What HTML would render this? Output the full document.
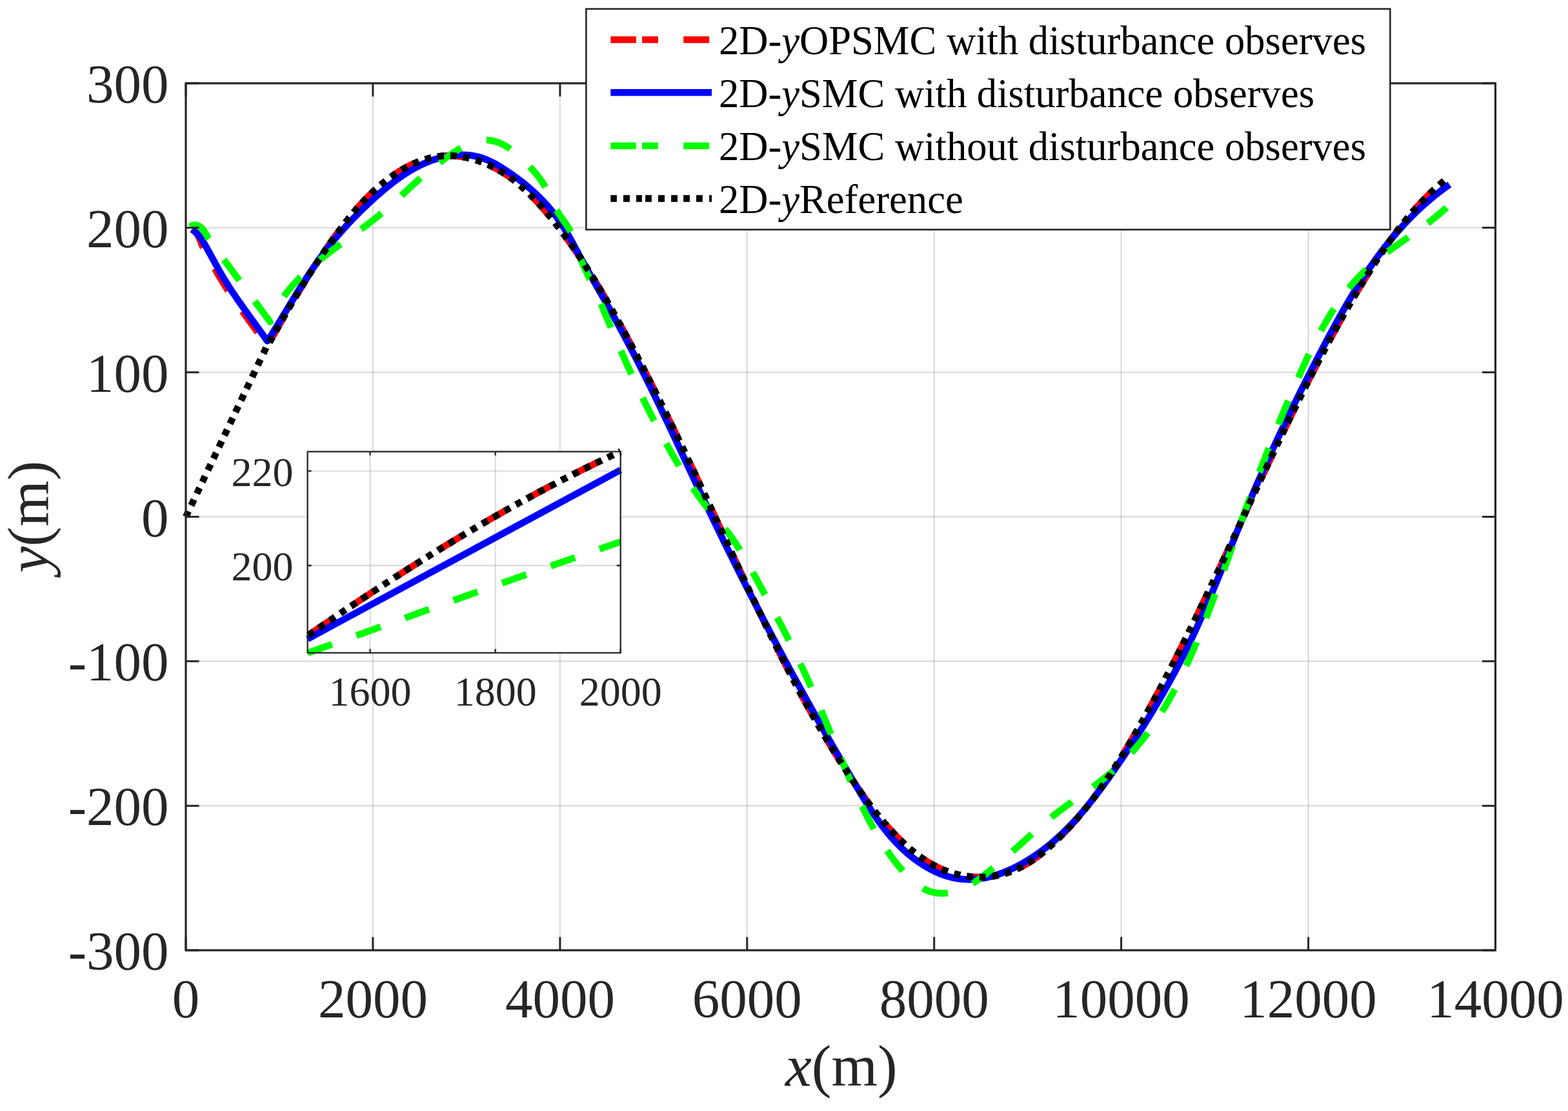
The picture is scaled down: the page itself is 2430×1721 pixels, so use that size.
<!DOCTYPE html><html><head><meta charset="utf-8"><title>2D-y tracking</title>
<style>html,body{margin:0;padding:0;background:#fff;overflow:hidden}svg{display:block}text{font-family:"Liberation Serif","Times New Roman",serif}</style></head><body>
<svg width="2430" height="1721" viewBox="0 0 2430 1721">
<rect x="0" y="0" width="2430" height="1721" fill="#fff"/>
<g stroke="#262626" stroke-opacity="0.15" stroke-width="2.6" fill="none"><path d="M577.9 129.0V1472.0"/><path d="M867.9 129.0V1472.0"/><path d="M1157.8 129.0V1472.0"/><path d="M1447.7 129.0V1472.0"/><path d="M1737.6 129.0V1472.0"/><path d="M2027.6 129.0V1472.0"/><path d="M288.0 1248.2H2317.5"/><path d="M288.0 1024.3H2317.5"/><path d="M288.0 800.5H2317.5"/><path d="M288.0 576.7H2317.5"/><path d="M288.0 352.8H2317.5"/></g>
<path d="M297.6 355.2L298.8 356.1 300.0 356.9 301.1 357.8 302.2 358.8 303.3 359.7 304.3 360.7 305.1 362.0 305.9 363.2 306.6 364.5 307.3 365.8 307.9 367.1 308.6 368.4 309.2 369.8 309.8 371.1 310.3 372.4 310.9 373.8 311.4 375.2 311.9 376.6 312.4 378.0 312.9 379.4 313.4 380.8 314.1 382.1 314.9 383.4 315.6 384.7 316.3 386.0 317.1 387.3 317.8 388.6 318.5 389.9 319.2 391.2 320.0 392.6 320.7 393.9 321.4 395.2 322.1 396.5 322.9 397.8 323.6 399.2 324.3 400.5 325.0 401.8 325.8 403.1 326.5 404.4 327.2 405.8 327.9 407.1 328.7 408.4 329.4 409.7 330.1 411.1 330.8 412.4 331.6 413.7 332.3 415.0 333.0 416.3 333.8 417.7 334.5 419.0 335.3 420.3 336.0 421.6 336.8 422.9 337.5 424.2 338.3 425.5 339.0 426.9 339.8 428.2 340.6 429.5 341.3 430.8 342.1 432.1 342.9 433.4 343.7 434.7 344.5 436.0 345.3 437.2 346.0 438.5 346.8 439.8 347.6 441.1 348.5 442.4 349.3 443.6 350.1 444.9 350.9 446.2 351.7 447.5 352.5 448.7 353.3 450.0 354.2 451.2 355.0 452.5 355.8 453.8 356.7 455.0 357.5 456.3 358.3 457.5 359.2 458.8 360.0 460.0 360.9 461.3 361.7 462.5 362.6 463.7 363.4 465.0 364.3 466.2 365.1 467.5 366.0 468.7 366.9 469.9 367.7 471.2 368.6 472.4 369.5 473.6 370.3 474.8 371.2 476.1 372.1 477.3 372.9 478.5 373.8 479.7 374.7 481.0 375.6 482.2 376.4 483.4 377.3 484.6 378.2 485.8 379.1 487.1 379.9 488.3 380.8 489.5 381.7 490.7 382.6 491.9 383.5 493.1 384.3 494.4 385.2 495.6 386.1 496.8 387.0 498.0 387.9 499.2 388.7 500.4 389.6 501.6 390.5 502.8 391.4 504.1 392.3 505.3 393.1 506.5 394.0 507.7 394.9 508.9 395.8 510.1 396.6 511.3 397.5 512.5 398.4 513.8 399.3 515.0 400.1 516.2 401.0 517.4 401.9 518.6 402.8 519.8 403.6 521.0 404.5 522.3 405.4 523.5 406.2 524.7 407.1 525.9 407.9 527.1 408.8 528.4 409.7 529.6 410.5 530.8 411.3 531.0 412.2 531.2 413.0 531.4 413.8 531.6 414.7 531.8 415.5 532.0 417.1 531.4 417.8 530.1 418.5 528.8 419.3 527.4 420.0 526.1 420.8 524.8 421.5 523.5 422.2 522.2 423.0 520.9 423.7 519.5 424.4 518.2 425.2 516.9 425.9 515.6 426.7 514.3 427.4 513.0 428.1 511.7 428.9 510.4 429.6 509.1 430.4 507.8 431.1 506.4 431.8 505.1 432.6 503.8 433.3 502.5 434.1 501.2 434.8 499.9 435.6 498.6 436.3 497.3 437.0 496.0 437.8 494.7 438.5 493.4 439.3 492.1 440.0 490.8 440.8 489.5 441.5 488.2 442.3 486.9 443.0 485.6 443.8 484.3 444.5 483.0 445.3 481.7 446.0 480.4 446.8 479.1 447.5 477.8 448.3 476.5 449.0 475.2 449.8 473.9 450.5 472.6 451.3 471.3 452.1 470.1 452.8 468.8 453.6 467.5 454.3 466.2 455.1 464.9 455.9 463.6 456.6 462.3 457.4 461.0 458.1 459.8 458.9 458.5 459.7 457.2 460.4 455.9 461.2 454.6 462.0 453.3 462.8 452.1 463.5 450.8 464.3 449.5 465.1 448.2 465.9 446.9 466.6 445.7 467.4 444.4 468.2 443.1 469.0 441.8 469.7 440.6 470.5 439.3 471.3 438.0 472.1 436.7 472.9 435.5 473.7 434.2 474.5 432.9 475.2 431.7 476.0 430.4 476.8 429.1 477.6 427.9 478.4 426.6 479.2 425.3 480.0 424.1 480.8 422.8 481.6 421.6 482.4 420.3 483.2 419.0 484.0 417.8 484.8 416.5 485.6 415.3 486.4 414.0 487.2 412.8 488.1 411.5 488.9 410.3 489.7 409.0 490.5 407.8 491.3 406.5 492.1 405.3 493.0 404.0 493.8 402.8 494.6 401.5 495.4 400.3 496.3 399.0 497.1 397.8 497.9 396.6 498.8 395.3 499.6 394.1 500.4 392.8 501.3 391.6 502.1 390.4 503.0 389.1 503.8 387.9 504.7 386.7 505.5 385.4 506.4 384.2 507.2 383.0 508.1 381.8 508.9 380.5 509.8 379.3 510.6 378.1 511.5 376.9 512.4 375.6 513.2 374.4 514.1 373.2 515.0 372.0 515.8 370.8 516.7 369.5 517.6 368.3 518.5 367.1 519.4 365.9 520.2 364.7 521.1 363.5 522.0 362.3 522.9 361.1 523.8 359.9 524.7 358.7 525.6 357.5 526.5 356.3 527.4 355.0 528.3 353.8 529.2 352.6 530.1 351.5 531.0 350.3 531.9 349.1 532.8 347.9 533.8 346.7 534.7 345.5 535.6 344.3 536.5 343.1 537.5 341.9 538.4 340.8 539.3 339.6 540.3 338.4 541.2 337.2 542.2 336.1 543.1 334.9 544.1 333.7 545.0 332.6 546.0 331.4 547.0 330.2 547.9 329.1 548.9 327.9 549.9 326.8 550.9 325.6 551.8 324.5 552.8 323.4 553.8 322.2 554.8 321.1 555.8 320.0 556.8 318.8 557.8 317.7 558.8 316.6 559.8 315.5 560.9 314.4 561.9 313.3 562.9 312.2 563.9 311.1 565.0 310.0 566.0 308.9 567.1 307.8 568.1 306.7 569.2 305.6 570.2 304.6 571.3 303.5 572.4 302.4 573.5 301.4 574.5 300.3 575.6 299.3 576.7 298.2 577.8 297.2 578.9 296.1 580.0 295.1 581.1 294.1 582.3 293.1 583.4 292.1 584.5 291.1 585.7 290.1 586.8 289.1 588.0 288.1 589.1 287.1 590.3 286.1 591.4 285.1 592.6 284.2 593.8 283.2 595.0 282.2 596.2 281.3 597.4 280.4 598.6 279.4 599.8 278.5 601.0 277.6 602.2 276.6 603.4 275.7 604.7 274.8 605.9 274.0 607.1 273.1 608.4 272.2 609.6 271.3 610.9 270.5 612.2 269.6 613.4 268.8 614.7 267.9 616.0 267.1 617.3 266.3 618.6 265.5 619.9 264.7 621.2 263.9 622.5 263.1 623.8 262.4 625.1 261.6 626.4 260.9 627.7 260.1 629.1 259.4 630.4 258.7 631.7 258.0 633.1 257.3 634.4 256.6 635.8 256.0 637.1 255.3 638.5 254.7 639.8 254.1 641.2 253.4 642.6 252.8 643.9 252.3 645.3 251.7 646.7 251.1 648.1 250.6 649.5 250.0 650.8 249.5 652.2 249.0 653.6 248.5 655.0 248.0 656.4 247.6 657.8 247.1 659.2 246.7 660.7 246.3 662.1 245.9 663.5 245.5 664.9 245.1 666.3 244.7 667.7 244.4 669.2 244.1 670.6 243.8 672.0 243.5 673.5 243.2 674.9 243.0 676.3 242.7 677.8 242.5 679.2 242.3 680.7 242.1 682.1 241.9 683.6 241.8 685.0 241.6 686.5 241.5 687.9 241.4 689.4 241.3 690.8 241.3 692.3 241.2 693.7 241.2 695.2 241.2 696.7 241.2 698.1 241.2 699.6 241.3 701.0 241.3 702.5 241.4 704.0 241.5 705.4 241.6 706.9 241.7 708.3 241.9 709.8 242.0 711.3 242.2 712.7 242.4 714.2 242.6 715.6 242.8 717.1 243.0 718.5 243.3 720.0 243.6 721.5 243.8 722.9 244.1 724.4 244.4 725.8 244.8 727.2 245.1 728.7 245.5 730.1 245.8 731.6 246.2 733.0 246.6 734.4 247.0 735.9 247.4 737.3 247.9 738.7 248.3 740.1 248.8 741.6 249.3 743.0 249.7 744.4 250.2 745.8 250.8 747.2 251.3 748.6 251.8 750.0 252.4 751.4 252.9 752.8 253.5 754.2 254.1 755.5 254.7 756.9 255.3 758.3 256.0 759.7 256.6 761.0 257.2 762.4 257.9 763.7 258.6 765.1 259.2 766.4 259.9 767.7 260.6 769.1 261.3 770.4 262.1 771.7 262.8 773.0 263.5 774.3 264.3 775.6 265.1 776.9 265.8 778.2 266.6 779.5 267.4 780.7 268.2 782.0 269.0 783.3 269.8 784.5 270.7 785.8 271.5 787.0 272.4 788.2 273.2 789.5 274.1 790.7 275.0 791.9 275.8 793.1 276.7 794.3 277.6 795.5 278.5 796.7 279.5 797.9 280.4 799.0 281.3 800.2 282.2 801.4 283.2 802.5 284.1 803.7 285.1 804.8 286.1 806.0 287.0 807.1 288.0 808.3 289.0 809.4 290.0 810.5 291.0 811.6 292.0 812.7 293.0 813.9 294.0 815.0 295.1 816.1 296.1 817.2 297.1 818.2 298.2 819.3 299.2 820.4 300.3 821.5 301.3 822.6 302.4 823.6 303.5 824.7 304.5 825.7 305.6 826.8 306.7 827.8 307.8 828.9 308.9 829.9 310.0 831.0 311.1 832.0 312.2 833.0 313.3 834.0 314.4 835.1 315.5 836.1 316.7 837.1 317.8 838.1 318.9 839.1 320.1 840.1 321.2 841.1 322.3 842.1 323.5 843.1 324.6 844.1 325.8 845.1 326.9 846.0 328.1 847.0 329.2 848.0 330.4 849.0 331.5 849.9 332.7 850.9 333.9 851.9 335.0 852.8 336.2 853.8 337.4 854.7 338.5 855.7 339.7 856.6 340.9 857.6 342.1 858.5 343.2 859.5 344.4 860.4 345.6 861.3 346.8 862.3 348.0 863.2 349.2 864.1 350.3 865.0 351.5 866.0 352.7 866.9 353.9 867.8 355.1 868.7 356.3 869.6 357.5 870.5 358.7 871.4 359.9 872.3 361.1 873.2 362.3 874.1 363.5 875.0 364.7 875.9 365.9 876.8 367.1 877.7 368.4 878.6 369.6 879.5 370.8 880.4 372.0 881.2 373.2 882.1 374.4 883.0 375.7 883.9 376.9 884.7 378.1 885.6 379.3 886.5 380.6 887.3 381.8 888.2 383.0 889.0 384.2 889.9 385.5 890.8 386.7 891.6 388.0 892.5 389.2 893.3 390.4 894.2 391.7 895.0 392.9 895.8 394.1 896.7 395.4 897.5 396.6 898.3 397.9 899.2 399.1 900.0 400.4 900.8 401.6 901.7 402.9 902.5 404.1 903.3 405.4 904.1 406.6 904.9 407.9 905.8 409.1 906.6 410.4 907.4 411.7 908.2 412.9 909.0 414.2 909.8 415.4 910.6 416.7 911.4 418.0 912.2 419.2 913.0 420.5 913.8 421.8 914.6 423.0 915.4 424.3 916.2 425.6 917.0 426.9 917.8 428.1 918.6 429.4 919.4 430.7 920.2 432.0 920.9 433.2 921.7 434.5 922.5 435.8 923.3 437.1 924.1 438.3 924.8 439.6 925.6 440.9 926.4 442.2 927.2 443.5 927.9 444.8 928.7 446.0 929.5 447.3 930.2 448.6 931.0 449.9 931.8 451.2 932.5 452.5 933.3 453.8 934.0 455.1 934.8 456.4 935.5 457.7 936.3 458.9 937.1 460.2 937.8 461.5 938.6 462.8 939.3 464.1 940.1 465.4 940.8 466.7 941.5 468.0 942.3 469.3 943.0 470.6 943.8 471.9 944.5 473.2 945.3 474.5 946.0 475.8 946.7 477.1 947.5 478.4 948.2 479.7 948.9 481.0 949.7 482.4 950.4 483.7 951.1 485.0 951.9 486.3 952.6 487.6 953.3 488.9 954.1 490.2 954.8 491.5 955.5 492.8 956.2 494.1 957.0 495.4 957.7 496.7 958.4 498.1 959.1 499.4 959.9 500.7 960.6 502.0 961.3 503.3 962.0 504.6 962.7 505.9 963.5 507.2 964.2 508.6 964.9 509.9 965.6 511.2 966.3 512.5 967.0 513.8 967.8 515.1 968.5 516.5 969.2 517.8 969.9 519.1 970.6 520.4 971.3 521.7 972.0 523.0 972.7 524.4 973.4 525.7 974.2 527.0 974.9 528.3 975.6 529.6 976.3 531.0 977.0 532.3 977.7 533.6 978.4 534.9 979.1 536.2 979.8 537.6 980.5 538.9 981.2 540.2 981.9 541.5 982.6 542.9 983.3 544.2 984.0 545.5 984.7 546.8 985.4 548.2 986.1 549.5 986.8 550.8 987.5 552.1 988.2 553.5 988.9 554.8 989.5 556.1 990.2 557.4 990.9 558.8 991.6 560.1 992.3 561.4 993.0 562.8 993.7 564.1 994.4 565.4 995.1 566.7 995.8 568.1 996.4 569.4 997.1 570.7 997.8 572.1 998.5 573.4 999.2 574.7 999.9 576.1 1000.6 577.4 1001.2 578.7 1001.9 580.1 1002.6 581.4 1003.3 582.7 1004.0 584.1 1004.6 585.4 1005.3 586.7 1006.0 588.1 1006.7 589.4 1007.4 590.7 1008.0 592.1 1008.7 593.4 1009.4 594.7 1010.1 596.1 1010.7 597.4 1011.4 598.7 1012.1 600.1 1012.8 601.4 1013.4 602.8 1014.1 604.1 1014.8 605.4 1015.4 606.8 1016.1 608.1 1016.8 609.4 1017.5 610.8 1018.1 612.1 1018.8 613.5 1019.5 614.8 1020.1 616.1 1020.8 617.5 1021.5 618.8 1022.1 620.2 1022.8 621.5 1023.5 622.9 1024.1 624.2 1024.8 625.5 1025.5 626.9 1026.1 628.2 1026.8 629.6 1027.5 630.9 1028.1 632.2 1028.8 633.6 1029.4 634.9 1030.1 636.3 1030.8 637.6 1031.4 639.0 1032.1 640.3 1032.7 641.7 1033.4 643.0 1034.1 644.3 1034.7 645.7 1035.4 647.0 1036.0 648.4 1036.7 649.7 1037.4 651.1 1038.0 652.4 1038.7 653.8 1039.3 655.1 1040.0 656.5 1040.6 657.8 1041.3 659.2 1041.9 660.5 1042.6 661.9 1043.2 663.2 1043.9 664.6 1044.5 665.9 1045.2 667.2 1045.9 668.6 1046.5 669.9 1047.2 671.3 1047.8 672.6 1048.5 674.0 1049.1 675.3 1049.8 676.7 1050.4 678.0 1051.1 679.4 1051.7 680.7 1052.4 682.1 1053.0 683.5 1053.6 684.8 1054.3 686.2 1054.9 687.5 1055.6 688.9 1056.2 690.2 1056.9 691.6 1057.5 692.9 1058.2 694.3 1058.8 695.6 1059.5 697.0 1060.1 698.3 1060.8 699.7 1061.4 701.0 1062.0 702.4 1062.7 703.7 1063.3 705.1 1064.0 706.4 1064.6 707.8 1065.3 709.2 1065.9 710.5 1066.5 711.9 1067.2 713.2 1067.8 714.6 1068.5 715.9 1069.1 717.3 1069.7 718.6 1070.4 720.0 1071.0 721.4 1071.7 722.7 1072.3 724.1 1072.9 725.4 1073.6 726.8 1074.2 728.1 1074.9 729.5 1075.5 730.8 1076.1 732.2 1076.8 733.6 1077.4 734.9 1078.1 736.3 1078.7 737.6 1079.3 739.0 1080.0 740.3 1080.6 741.7 1081.2 743.1 1081.9 744.4 1082.5 745.8 1083.1 747.1 1083.8 748.5 1084.4 749.8 1085.1 751.2 1085.7 752.6 1086.3 753.9 1087.0 755.3 1087.6 756.6 1088.2 758.0 1088.9 759.4 1089.5 760.7 1090.1 762.1 1090.8 763.4 1091.4 764.8 1092.0 766.2 1092.7 767.5 1093.3 768.9 1093.9 770.2 1094.6 771.6 1095.2 773.0 1095.8 774.3 1096.5 775.7 1097.1 777.0 1097.7 778.4 1098.4 779.8 1099.0 781.1 1099.6 782.5 1100.3 783.8 1100.9 785.2 1101.5 786.6 1102.2 787.9 1102.8 789.3 1103.4 790.6 1104.1 792.0 1104.7 793.4 1105.3 794.7 1106.0 796.1 1106.6 797.4 1107.2 798.8 1107.9 800.2 1108.5 801.5 1109.1 802.9 1109.8 804.3 1110.4 805.6 1111.0 807.0 1111.7 808.3 1112.3 809.7 1112.9 811.1 1113.5 812.4 1114.2 813.8 1114.8 815.1 1115.4 816.5 1116.1 817.9 1116.7 819.2 1117.3 820.6 1118.0 822.0 1118.6 823.3 1119.2 824.7 1119.9 826.0 1120.5 827.4 1121.1 828.8 1121.8 830.1 1122.4 831.5 1123.0 832.9 1123.6 834.2 1124.3 835.6 1124.9 836.9 1125.5 838.3 1126.2 839.7 1126.8 841.0 1127.4 842.4 1128.1 843.7 1128.7 845.1 1129.3 846.5 1130.0 847.8 1130.6 849.2 1131.2 850.6 1131.9 851.9 1132.5 853.3 1133.1 854.6 1133.8 856.0 1134.4 857.4 1135.0 858.7 1135.7 860.1 1136.3 861.5 1136.9 862.8 1137.6 864.2 1138.2 865.5 1138.8 866.9 1139.4 868.3 1140.1 869.6 1140.7 871.0 1141.3 872.4 1142.0 873.7 1142.6 875.1 1143.3 876.4 1143.9 877.8 1144.5 879.2 1145.2 880.5 1145.8 881.9 1146.4 883.2 1147.1 884.6 1147.7 886.0 1148.3 887.3 1149.0 888.7 1149.6 890.1 1150.2 891.4 1150.9 892.8 1151.5 894.1 1152.1 895.5 1152.8 896.9 1153.4 898.2 1154.1 899.6 1154.7 900.9 1155.3 902.3 1156.0 903.7 1156.6 905.0 1157.2 906.4 1157.9 907.7 1158.5 909.1 1159.2 910.5 1159.8 911.8 1160.4 913.2 1161.1 914.5 1161.7 915.9 1162.4 917.3 1163.0 918.6 1163.6 920.0 1164.3 921.3 1164.9 922.7 1165.6 924.0 1166.2 925.4 1166.8 926.8 1167.5 928.1 1168.1 929.5 1168.8 930.8 1169.4 932.2 1170.1 933.5 1170.7 934.9 1171.4 936.3 1172.0 937.6 1172.6 939.0 1173.3 940.3 1173.9 941.7 1174.6 943.0 1175.2 944.4 1175.9 945.7 1176.5 947.1 1177.2 948.5 1177.8 949.8 1178.5 951.2 1179.1 952.5 1179.8 953.9 1180.4 955.2 1181.1 956.6 1181.7 957.9 1182.4 959.3 1183.0 960.6 1183.7 962.0 1184.3 963.3 1185.0 964.7 1185.7 966.0 1186.3 967.4 1187.0 968.7 1187.6 970.1 1188.3 971.4 1188.9 972.8 1189.6 974.1 1190.3 975.5 1190.9 976.8 1191.6 978.2 1192.2 979.5 1192.9 980.9 1193.6 982.2 1194.2 983.6 1194.9 984.9 1195.5 986.3 1196.2 987.6 1196.9 989.0 1197.5 990.3 1198.2 991.6 1198.9 993.0 1199.5 994.3 1200.2 995.7 1200.9 997.0 1201.5 998.4 1202.2 999.7 1202.9 1001.0 1203.5 1002.4 1204.2 1003.7 1204.9 1005.1 1205.5 1006.4 1206.2 1007.8 1206.9 1009.1 1207.6 1010.4 1208.2 1011.8 1208.9 1013.1 1209.6 1014.5 1210.3 1015.8 1210.9 1017.1 1211.6 1018.5 1212.3 1019.8 1213.0 1021.1 1213.7 1022.5 1214.3 1023.8 1215.0 1025.2 1215.7 1026.5 1216.4 1027.8 1217.1 1029.2 1217.7 1030.5 1218.4 1031.8 1219.1 1033.2 1219.8 1034.5 1220.5 1035.8 1221.2 1037.2 1221.9 1038.5 1222.5 1039.8 1223.2 1041.1 1223.9 1042.5 1224.6 1043.8 1225.3 1045.1 1226.0 1046.5 1226.7 1047.8 1227.4 1049.1 1228.1 1050.4 1228.8 1051.8 1229.5 1053.1 1230.2 1054.4 1230.9 1055.7 1231.6 1057.1 1232.3 1058.4 1233.0 1059.7 1233.7 1061.0 1234.4 1062.4 1235.1 1063.7 1235.8 1065.0 1236.5 1066.3 1237.2 1067.6 1237.9 1069.0 1238.6 1070.3 1239.3 1071.6 1240.0 1072.9 1240.7 1074.2 1241.5 1075.6 1242.2 1076.9 1242.9 1078.2 1243.6 1079.5 1244.3 1080.8 1245.0 1082.1 1245.7 1083.4 1246.5 1084.8 1247.2 1086.1 1247.9 1087.4 1248.6 1088.7 1249.3 1090.0 1250.1 1091.3 1250.8 1092.6 1251.5 1093.9 1252.2 1095.2 1253.0 1096.5 1253.7 1097.9 1254.4 1099.2 1255.2 1100.5 1255.9 1101.8 1256.6 1103.1 1257.3 1104.4 1258.1 1105.7 1258.8 1107.0 1259.6 1108.3 1260.3 1109.6 1261.0 1110.9 1261.8 1112.2 1262.5 1113.5 1263.2 1114.8 1264.0 1116.1 1264.7 1117.4 1265.5 1118.7 1266.2 1120.0 1267.0 1121.3 1267.7 1122.6 1268.5 1123.9 1269.2 1125.2 1270.0 1126.5 1270.7 1127.7 1271.5 1129.0 1272.2 1130.3 1273.0 1131.6 1273.7 1132.9 1274.5 1134.2 1275.2 1135.5 1276.0 1136.8 1276.8 1138.1 1277.5 1139.3 1278.3 1140.6 1279.1 1141.9 1279.8 1143.2 1280.6 1144.5 1281.4 1145.8 1282.1 1147.0 1282.9 1148.3 1283.7 1149.6 1284.4 1150.9 1285.2 1152.2 1286.0 1153.4 1286.8 1154.7 1287.5 1156.0 1288.3 1157.3 1289.1 1158.5 1289.9 1159.8 1290.7 1161.1 1291.5 1162.4 1292.2 1163.6 1293.0 1164.9 1293.8 1166.2 1294.6 1167.4 1295.4 1168.7 1296.2 1170.0 1297.0 1171.2 1297.8 1172.5 1298.6 1173.8 1299.4 1175.0 1300.2 1176.3 1301.0 1177.6 1301.8 1178.8 1302.6 1180.1 1303.4 1181.4 1304.2 1182.6 1305.0 1183.9 1305.8 1185.1 1306.6 1186.4 1307.4 1187.6 1308.2 1188.9 1309.0 1190.1 1309.8 1191.4 1310.6 1192.7 1311.5 1193.9 1312.3 1195.2 1313.1 1196.4 1313.9 1197.7 1314.7 1198.9 1315.6 1200.2 1316.4 1201.4 1317.2 1202.6 1318.0 1203.9 1318.9 1205.1 1319.7 1206.4 1320.5 1207.6 1321.4 1208.9 1322.2 1210.1 1323.0 1211.3 1323.9 1212.6 1324.7 1213.8 1325.6 1215.1 1326.4 1216.3 1327.2 1217.5 1328.1 1218.8 1328.9 1220.0 1329.8 1221.2 1330.6 1222.5 1331.5 1223.7 1332.3 1224.9 1333.2 1226.1 1334.1 1227.4 1334.9 1228.6 1335.8 1229.8 1336.6 1231.0 1337.5 1232.2 1338.4 1233.5 1339.3 1234.7 1340.1 1235.9 1341.0 1237.1 1341.9 1238.3 1342.8 1239.5 1343.7 1240.7 1344.5 1241.9 1345.4 1243.2 1346.3 1244.4 1347.2 1245.6 1348.1 1246.8 1349.0 1248.0 1349.9 1249.2 1350.8 1250.3 1351.7 1251.5 1352.7 1252.7 1353.6 1253.9 1354.5 1255.1 1355.4 1256.3 1356.3 1257.5 1357.3 1258.6 1358.2 1259.8 1359.1 1261.0 1360.1 1262.2 1361.0 1263.3 1362.0 1264.5 1362.9 1265.7 1363.9 1266.8 1364.8 1268.0 1365.8 1269.2 1366.8 1270.3 1367.7 1271.5 1368.7 1272.6 1369.7 1273.8 1370.7 1274.9 1371.7 1276.1 1372.7 1277.2 1373.6 1278.3 1374.6 1279.5 1375.7 1280.6 1376.7 1281.7 1377.7 1282.8 1378.7 1284.0 1379.7 1285.1 1380.7 1286.2 1381.8 1287.3 1382.8 1288.4 1383.8 1289.5 1384.9 1290.6 1385.9 1291.7 1387.0 1292.8 1388.1 1293.9 1389.1 1295.0 1390.2 1296.1 1391.3 1297.2 1392.4 1298.3 1393.4 1299.3 1394.5 1300.4 1395.6 1301.5 1396.7 1302.5 1397.8 1303.6 1398.9 1304.6 1400.1 1305.7 1401.2 1306.7 1402.3 1307.8 1403.4 1308.8 1404.6 1309.8 1405.7 1310.8 1406.9 1311.8 1408.0 1312.8 1409.2 1313.8 1410.3 1314.8 1411.5 1315.8 1412.7 1316.8 1413.8 1317.8 1415.0 1318.7 1416.2 1319.7 1417.4 1320.6 1418.6 1321.6 1419.8 1322.5 1421.0 1323.4 1422.2 1324.3 1423.4 1325.2 1424.6 1326.1 1425.9 1327.0 1427.1 1327.9 1428.3 1328.8 1429.6 1329.6 1430.8 1330.5 1432.1 1331.3 1433.3 1332.1 1434.6 1333.0 1435.9 1333.8 1437.1 1334.6 1438.4 1335.4 1439.7 1336.1 1441.0 1336.9 1442.3 1337.7 1443.6 1338.4 1444.9 1339.1 1446.2 1339.9 1447.5 1340.6 1448.8 1341.3 1450.2 1342.0 1451.5 1342.6 1452.8 1343.3 1454.2 1343.9 1455.5 1344.6 1456.9 1345.2 1458.2 1345.8 1459.6 1346.4 1461.0 1347.0 1462.4 1347.6 1463.7 1348.1 1465.1 1348.7 1466.5 1349.2 1467.9 1349.7 1469.3 1350.2 1470.7 1350.7 1472.1 1351.2 1473.5 1351.6 1475.0 1352.1 1476.4 1352.5 1477.8 1352.9 1479.2 1353.3 1480.7 1353.7 1482.1 1354.1 1483.6 1354.5 1485.0 1354.8 1486.5 1355.1 1487.9 1355.4 1489.4 1355.8 1490.8 1356.0 1492.3 1356.3 1493.7 1356.6 1495.2 1356.8 1496.7 1357.0 1498.1 1357.3 1499.6 1357.5 1501.1 1357.6 1502.6 1357.8 1504.0 1358.0 1505.5 1358.1 1507.0 1358.2 1508.5 1358.3 1509.9 1358.4 1511.4 1358.5 1512.9 1358.6 1514.4 1358.6 1515.9 1358.7 1517.3 1358.7 1518.8 1358.7 1520.3 1358.7 1521.8 1358.7 1523.2 1358.6 1524.7 1358.6 1526.2 1358.5 1527.7 1358.4 1529.1 1358.3 1530.6 1358.2 1532.1 1358.1 1533.5 1357.9 1535.0 1357.8 1536.5 1357.6 1537.9 1357.4 1539.4 1357.2 1540.8 1357.0 1542.3 1356.8 1543.7 1356.5 1545.2 1356.2 1546.6 1355.9 1548.0 1355.6 1549.5 1355.3 1550.9 1355.0 1552.3 1354.7 1553.8 1354.3 1555.2 1353.9 1556.6 1353.5 1558.0 1353.1 1559.4 1352.7 1560.8 1352.2 1562.2 1351.8 1563.6 1351.3 1564.9 1350.8 1566.3 1350.3 1567.7 1349.8 1569.1 1349.3 1570.4 1348.7 1571.8 1348.2 1573.1 1347.6 1574.5 1347.0 1575.8 1346.4 1577.1 1345.8 1578.5 1345.1 1579.8 1344.5 1581.1 1343.8 1582.4 1343.1 1583.7 1342.5 1585.0 1341.8 1586.3 1341.0 1587.6 1340.3 1588.9 1339.6 1590.2 1338.8 1591.5 1338.1 1592.8 1337.3 1594.0 1336.5 1595.3 1335.7 1596.6 1334.9 1597.8 1334.1 1599.1 1333.3 1600.3 1332.4 1601.6 1331.6 1602.8 1330.7 1604.0 1329.9 1605.2 1329.0 1606.5 1328.1 1607.7 1327.2 1608.9 1326.3 1610.1 1325.4 1611.3 1324.5 1612.5 1323.5 1613.7 1322.6 1614.9 1321.7 1616.1 1320.7 1617.3 1319.8 1618.4 1318.8 1619.6 1317.8 1620.8 1316.8 1621.9 1315.8 1623.1 1314.8 1624.2 1313.8 1625.4 1312.8 1626.5 1311.8 1627.7 1310.8 1628.8 1309.8 1629.9 1308.8 1631.1 1307.7 1632.2 1306.7 1633.3 1305.6 1634.4 1304.6 1635.5 1303.5 1636.6 1302.5 1637.7 1301.4 1638.8 1300.4 1639.9 1299.3 1641.0 1298.2 1642.1 1297.1 1643.2 1296.1 1644.3 1295.0 1645.3 1293.9 1646.4 1292.8 1647.5 1291.7 1648.5 1290.6 1649.6 1289.5 1650.7 1288.4 1651.7 1287.3 1652.8 1286.2 1653.8 1285.1 1654.8 1284.0 1655.9 1282.9 1656.9 1281.8 1657.9 1280.7 1659.0 1279.6 1660.0 1278.5 1661.0 1277.3 1662.0 1276.2 1663.0 1275.1 1664.0 1274.0 1665.0 1272.8 1666.0 1271.7 1667.0 1270.6 1668.0 1269.4 1669.0 1268.3 1670.0 1267.2 1671.0 1266.0 1671.9 1264.9 1672.9 1263.7 1673.9 1262.6 1674.8 1261.4 1675.8 1260.3 1676.8 1259.1 1677.7 1257.9 1678.7 1256.8 1679.6 1255.6 1680.6 1254.4 1681.5 1253.3 1682.5 1252.1 1683.4 1250.9 1684.3 1249.8 1685.3 1248.6 1686.2 1247.4 1687.1 1246.2 1688.0 1245.0 1689.0 1243.9 1689.9 1242.7 1690.8 1241.5 1691.7 1240.3 1692.6 1239.1 1693.5 1237.9 1694.4 1236.7 1695.3 1235.5 1696.2 1234.3 1697.1 1233.1 1698.0 1231.9 1698.9 1230.7 1699.8 1229.5 1700.7 1228.3 1701.5 1227.1 1702.4 1225.9 1703.3 1224.6 1704.2 1223.4 1705.0 1222.2 1705.9 1221.0 1706.8 1219.8 1707.6 1218.5 1708.5 1217.3 1709.3 1216.1 1710.2 1214.9 1711.1 1213.6 1711.9 1212.4 1712.8 1211.2 1713.6 1209.9 1714.4 1208.7 1715.3 1207.5 1716.1 1206.2 1717.0 1205.0 1717.8 1203.8 1718.6 1202.5 1719.5 1201.3 1720.3 1200.0 1721.1 1198.8 1721.9 1197.5 1722.7 1196.3 1723.6 1195.0 1724.4 1193.8 1725.2 1192.5 1726.0 1191.3 1726.8 1190.0 1727.6 1188.7 1728.4 1187.5 1729.2 1186.2 1730.0 1185.0 1730.8 1183.7 1731.6 1182.4 1732.4 1181.2 1733.2 1179.9 1734.0 1178.6 1734.8 1177.4 1735.6 1176.1 1736.4 1174.8 1737.2 1173.6 1738.0 1172.3 1738.8 1171.0 1739.5 1169.7 1740.3 1168.5 1741.1 1167.2 1741.9 1165.9 1742.7 1164.6 1743.4 1163.4 1744.2 1162.1 1745.0 1160.8 1745.7 1159.5 1746.5 1158.2 1747.3 1156.9 1748.0 1155.7 1748.8 1154.4 1749.6 1153.1 1750.3 1151.8 1751.1 1150.5 1751.9 1149.2 1752.6 1147.9 1753.4 1146.6 1754.1 1145.3 1754.9 1144.0 1755.6 1142.8 1756.4 1141.5 1757.1 1140.2 1757.9 1138.9 1758.6 1137.6 1759.4 1136.3 1760.1 1135.0 1760.9 1133.7 1761.6 1132.4 1762.4 1131.1 1763.1 1129.8 1763.9 1128.5 1764.6 1127.2 1765.3 1125.9 1766.1 1124.6 1766.8 1123.3 1767.5 1122.0 1768.3 1120.7 1769.0 1119.4 1769.8 1118.1 1770.5 1116.8 1771.2 1115.5 1772.0 1114.1 1772.7 1112.8 1773.4 1111.5 1774.1 1110.2 1774.9 1108.9 1775.6 1107.6 1776.3 1106.3 1777.1 1105.0 1777.8 1103.7 1778.5 1102.4 1779.2 1101.1 1780.0 1099.7 1780.7 1098.4 1781.4 1097.1 1782.1 1095.8 1782.8 1094.5 1783.6 1093.2 1784.3 1091.9 1785.0 1090.5 1785.7 1089.2 1786.4 1087.9 1787.1 1086.6 1787.9 1085.3 1788.6 1084.0 1789.3 1082.6 1790.0 1081.3 1790.7 1080.0 1791.4 1078.7 1792.1 1077.4 1792.8 1076.0 1793.5 1074.7 1794.2 1073.4 1795.0 1072.1 1795.7 1070.8 1796.4 1069.4 1797.1 1068.1 1797.8 1066.8 1798.5 1065.5 1799.2 1064.1 1799.9 1062.8 1800.6 1061.5 1801.3 1060.2 1802.0 1058.8 1802.7 1057.5 1803.4 1056.2 1804.1 1054.8 1804.8 1053.5 1805.5 1052.2 1806.1 1050.9 1806.8 1049.5 1807.5 1048.2 1808.2 1046.9 1808.9 1045.5 1809.6 1044.2 1810.3 1042.9 1811.0 1041.5 1811.7 1040.2 1812.4 1038.9 1813.1 1037.5 1813.7 1036.2 1814.4 1034.9 1815.1 1033.5 1815.8 1032.2 1816.5 1030.9 1817.2 1029.5 1817.9 1028.2 1818.5 1026.9 1819.2 1025.5 1819.9 1024.2 1820.6 1022.9 1821.3 1021.5 1821.9 1020.2 1822.6 1018.8 1823.3 1017.5 1824.0 1016.2 1824.6 1014.8 1825.3 1013.5 1826.0 1012.2 1826.7 1010.8 1827.4 1009.5 1828.0 1008.1 1828.7 1006.8 1829.4 1005.4 1830.0 1004.1 1830.7 1002.8 1831.4 1001.4 1832.1 1000.1 1832.7 998.7 1833.4 997.4 1834.1 996.1 1834.7 994.7 1835.4 993.4 1836.1 992.0 1836.7 990.7 1837.4 989.3 1838.1 988.0 1838.7 986.6 1839.4 985.3 1840.1 984.0 1840.7 982.6 1841.4 981.3 1842.1 979.9 1842.7 978.6 1843.4 977.2 1844.0 975.9 1844.7 974.5 1845.4 973.2 1846.0 971.8 1846.7 970.5 1847.3 969.1 1848.0 967.8 1848.7 966.4 1849.3 965.1 1850.0 963.7 1850.6 962.4 1851.3 961.0 1851.9 959.7 1852.6 958.3 1853.3 957.0 1853.9 955.6 1854.6 954.3 1855.2 952.9 1855.9 951.6 1856.5 950.2 1857.2 948.9 1857.8 947.5 1858.5 946.2 1859.1 944.8 1859.8 943.5 1860.4 942.1 1861.1 940.8 1861.7 939.4 1862.4 938.1 1863.0 936.7 1863.7 935.4 1864.3 934.0 1865.0 932.7 1865.6 931.3 1866.3 930.0 1866.9 928.6 1867.6 927.3 1868.2 925.9 1868.9 924.6 1869.5 923.2 1870.2 921.8 1870.8 920.5 1871.5 919.1 1872.1 917.8 1872.7 916.4 1873.4 915.1 1874.0 913.7 1874.7 912.4 1875.3 911.0 1876.0 909.7 1876.6 908.3 1877.2 906.9 1877.9 905.6 1878.5 904.2 1879.2 902.9 1879.8 901.5 1880.5 900.2 1881.1 898.8 1881.7 897.4 1882.4 896.1 1883.0 894.7 1883.7 893.4 1884.3 892.0 1884.9 890.7 1885.6 889.3 1886.2 887.9 1886.8 886.6 1887.5 885.2 1888.1 883.9 1888.8 882.5 1889.4 881.2 1890.0 879.8 1890.7 878.4 1891.3 877.1 1891.9 875.7 1892.6 874.4 1893.2 873.0 1893.9 871.7 1894.5 870.3 1895.1 868.9 1895.8 867.6 1896.4 866.2 1897.0 864.9 1897.7 863.5 1898.3 862.1 1898.9 860.8 1899.6 859.4 1900.2 858.1 1900.8 856.7 1901.5 855.4 1902.1 854.0 1902.7 852.6 1903.4 851.3 1904.0 849.9 1904.6 848.6 1905.3 847.2 1905.9 845.8 1906.5 844.5 1907.2 843.1 1907.8 841.8 1908.4 840.4 1909.1 839.0 1909.7 837.7 1910.3 836.3 1911.0 835.0 1911.6 833.6 1912.2 832.2 1912.9 830.9 1913.5 829.5 1914.1 828.2 1914.8 826.8 1915.4 825.4 1916.0 824.1 1916.7 822.7 1917.3 821.4 1917.9 820.0 1918.6 818.6 1919.2 817.3 1919.8 815.9 1920.5 814.6 1921.1 813.2 1921.7 811.8 1922.3 810.5 1923.0 809.1 1923.6 807.8 1924.2 806.4 1924.9 805.0 1925.5 803.7 1926.1 802.3 1926.8 801.0 1927.4 799.6 1928.0 798.2 1928.7 796.9 1929.3 795.5 1929.9 794.2 1930.6 792.8 1931.2 791.4 1931.8 790.1 1932.4 788.7 1933.1 787.4 1933.7 786.0 1934.3 784.6 1935.0 783.3 1935.6 781.9 1936.2 780.6 1936.9 779.2 1937.5 777.8 1938.1 776.5 1938.8 775.1 1939.4 773.8 1940.0 772.4 1940.7 771.0 1941.3 769.7 1941.9 768.3 1942.6 767.0 1943.2 765.6 1943.8 764.2 1944.5 762.9 1945.1 761.5 1945.7 760.2 1946.4 758.8 1947.0 757.5 1947.6 756.1 1948.3 754.7 1948.9 753.4 1949.5 752.0 1950.2 750.7 1950.8 749.3 1951.4 747.9 1952.1 746.6 1952.7 745.2 1953.3 743.9 1954.0 742.5 1954.6 741.2 1955.2 739.8 1955.9 738.4 1956.5 737.1 1957.2 735.7 1957.8 734.4 1958.4 733.0 1959.1 731.6 1959.7 730.3 1960.3 728.9 1961.0 727.6 1961.6 726.2 1962.2 724.9 1962.9 723.5 1963.5 722.2 1964.2 720.8 1964.8 719.4 1965.4 718.1 1966.1 716.7 1966.7 715.4 1967.4 714.0 1968.0 712.7 1968.6 711.3 1969.3 709.9 1969.9 708.6 1970.6 707.2 1971.2 705.9 1971.8 704.5 1972.5 703.2 1973.1 701.8 1973.8 700.5 1974.4 699.1 1975.0 697.8 1975.7 696.4 1976.3 695.0 1977.0 693.7 1977.6 692.3 1978.3 691.0 1978.9 689.6 1979.5 688.3 1980.2 686.9 1980.8 685.6 1981.5 684.2 1982.1 682.9 1982.8 681.5 1983.4 680.2 1984.1 678.8 1984.7 677.5 1985.4 676.1 1986.0 674.7 1986.7 673.4 1987.3 672.0 1988.0 670.7 1988.6 669.3 1989.3 668.0 1989.9 666.6 1990.6 665.3 1991.2 663.9 1991.9 662.6 1992.5 661.2 1993.2 659.9 1993.8 658.5 1994.5 657.2 1995.1 655.8 1995.8 654.5 1996.4 653.1 1997.1 651.8 1997.7 650.4 1998.4 649.1 1999.0 647.7 1999.7 646.4 2000.4 645.1 2001.0 643.7 2001.7 642.4 2002.3 641.0 2003.0 639.7 2003.7 638.3 2004.3 637.0 2005.0 635.6 2005.6 634.3 2006.3 632.9 2007.0 631.6 2007.6 630.2 2008.3 628.9 2008.9 627.6 2009.6 626.2 2010.3 624.9 2010.9 623.5 2011.6 622.2 2012.3 620.8 2012.9 619.5 2013.6 618.1 2014.3 616.8 2014.9 615.5 2015.6 614.1 2016.3 612.8 2016.9 611.4 2017.6 610.1 2018.3 608.7 2018.9 607.4 2019.6 606.1 2020.3 604.7 2020.9 603.4 2021.6 602.0 2022.3 600.7 2023.0 599.4 2023.6 598.0 2024.3 596.7 2025.0 595.3 2025.7 594.0 2026.3 592.7 2027.0 591.3 2027.7 590.0 2028.4 588.7 2029.0 587.3 2029.7 586.0 2030.4 584.6 2031.1 583.3 2031.8 582.0 2032.4 580.6 2033.1 579.3 2033.8 578.0 2034.5 576.6 2035.2 575.3 2035.9 574.0 2036.6 572.6 2037.2 571.3 2037.9 570.0 2038.6 568.6 2039.3 567.3 2040.0 566.0 2040.7 564.6 2041.4 563.3 2042.1 562.0 2042.7 560.6 2043.4 559.3 2044.1 558.0 2044.8 556.7 2045.5 555.3 2046.2 554.0 2046.9 552.7 2047.6 551.3 2048.3 550.0 2049.0 548.7 2049.7 547.4 2050.4 546.0 2051.1 544.7 2051.8 543.4 2052.5 542.1 2053.2 540.7 2053.9 539.4 2054.6 538.1 2055.3 536.8 2056.0 535.4 2056.7 534.1 2057.4 532.8 2058.2 531.5 2058.9 530.1 2059.6 528.8 2060.3 527.5 2061.0 526.2 2061.7 524.9 2062.4 523.5 2063.1 522.2 2063.9 520.9 2064.6 519.6 2065.3 518.3 2066.0 517.0 2066.7 515.6 2067.4 514.3 2068.2 513.0 2068.9 511.7 2069.6 510.4 2070.3 509.1 2071.1 507.8 2071.8 506.4 2072.5 505.1 2073.2 503.8 2074.0 502.5 2074.7 501.2 2075.4 499.9 2076.2 498.6 2076.9 497.3 2077.6 496.0 2078.4 494.6 2079.1 493.3 2079.8 492.0 2080.6 490.7 2081.3 489.4 2082.0 488.1 2082.8 486.8 2083.5 485.5 2084.3 484.2 2085.0 482.9 2085.7 481.6 2086.5 480.3 2087.2 479.0 2088.0 477.7 2088.7 476.4 2089.5 475.1 2090.2 473.8 2091.0 472.5 2091.7 471.2 2092.5 469.9 2093.2 468.6 2094.0 467.3 2094.8 466.0 2095.5 464.7 2096.3 463.4 2097.0 462.1 2097.8 460.9 2098.6 459.6 2099.3 458.3 2100.1 457.0 2100.9 455.7 2101.6 454.4 2102.4 453.1 2103.2 451.8 2103.9 450.5 2104.7 449.3 2105.5 448.0 2106.3 446.7 2107.0 445.4 2107.8 444.1 2108.6 442.8 2109.4 441.5 2110.1 440.3 2110.9 439.0 2111.7 437.7 2112.5 436.4 2113.3 435.1 2114.1 433.9 2114.9 432.6 2115.6 431.3 2116.4 430.0 2117.2 428.8 2118.0 427.5 2118.8 426.2 2119.6 424.9 2120.4 423.7 2121.2 422.4 2122.0 421.1 2122.8 419.9 2123.6 418.6 2124.4 417.3 2125.2 416.1 2126.0 414.8 2126.8 413.5 2127.6 412.3 2128.4 411.0 2129.3 409.7 2130.1 408.5 2130.9 407.2 2131.7 406.0 2132.5 404.7 2133.3 403.4 2134.2 402.2 2135.0 400.9 2135.8 399.7 2136.6 398.4 2137.5 397.2 2138.3 395.9 2139.1 394.7 2140.0 393.4 2140.8 392.2 2141.6 390.9 2142.5 389.7 2143.3 388.4 2144.2 387.2 2145.0 386.0 2145.9 384.7 2146.7 383.5 2147.6 382.3 2148.4 381.0 2149.3 379.8 2150.1 378.6 2151.0 377.3 2151.9 376.1 2152.7 374.9 2153.6 373.7 2154.5 372.5 2155.3 371.2 2156.2 370.0 2157.1 368.8 2158.0 367.6 2158.9 366.4 2159.7 365.2 2160.6 364.0 2161.5 362.8 2162.4 361.6 2163.3 360.4 2164.2 359.2 2165.1 358.0 2166.0 356.8 2166.9 355.6 2167.8 354.4 2168.7 353.2 2169.6 352.0 2170.6 350.8 2171.5 349.7 2172.4 348.5 2173.3 347.3 2174.3 346.1 2175.2 345.0 2176.1 343.8 2177.1 342.6 2178.0 341.5 2179.0 340.3 2179.9 339.1 2180.8 338.0 2181.8 336.8 2182.8 335.7 2183.7 334.5 2184.7 333.4 2185.6 332.3 2186.6 331.1 2187.6 330.0 2188.6 328.8 2189.5 327.7 2190.5 326.6 2191.5 325.5 2192.5 324.3 2193.5 323.2 2194.5 322.1 2195.5 321.0 2196.5 319.9 2197.5 318.8 2198.5 317.7 2199.5 316.6 2200.5 315.5 2201.6 314.4 2202.6 313.3 2203.6 312.2 2204.7 311.1 2205.7 310.0 2206.7 309.0 2207.8 307.9 2208.8 306.8 2209.9 305.8 2210.9 304.7 2212.0 303.6 2213.1 302.6 2214.1 301.5 2215.2 300.5 2216.3 299.4 2217.3 298.4 2218.4 297.4 2219.5 296.3 2220.6 295.3 2221.7 294.3 2222.8 293.2 2223.9 292.2 2225.0 291.2 2226.1 290.2 2227.3 289.2 2228.4 288.2 2229.5 287.2 2230.6 286.2 2231.8 285.2 2232.9 284.2 2234.1 283.2 2235.2 282.2 2236.4 281.3 2237.5 280.3 2238.7 279.3 2239.9 278.4 2241.0 277.4" stroke="#ff0000" stroke-width="10.5" fill="none" stroke-dasharray="33.6 37.4 40.0 39.1 40.0 32.4 40.0 40.0 40.0 40.0 40.0 40.0 40.0 40.0 40.0 40.0 40.0 40.0 40.0 40.0 40.0 40.0 40.0 40.0 40.0 40.0 40.0 40.0 40.0 40.0 40.0 40.0 40.0 40.0 40.0 40.0 40.0 40.0 40.0 40.0 40.0 40.0 40.0 40.0 40.0 40.0 40.0 40.0 40.0 40.0 40.0 40.0 40.0 40.0 40.0 40.0 40.0 40.0 40.0 40.0 40.0 40.0 40.0 40.0 40.0 40.0 40.0 40.0 40.0 40.0 40.0 40.0 40.0 40.0 40.0 40.0 40.0 40.0 40.0 40.0 40.0 40.0 40.0 40.0 40.0 1024.5" stroke-linejoin="round"/>
<path d="M297.6 355.2L298.8 356.1 300.0 356.9 301.1 357.8 302.2 358.8 303.3 359.7 304.3 360.7 305.3 361.8 306.3 362.8 307.3 363.9 308.2 365.0 309.1 366.2 310.0 367.3 310.9 368.5 311.7 369.7 312.6 370.9 313.4 372.2 314.2 373.4 315.0 374.7 315.8 376.0 316.5 377.3 317.3 378.5 318.0 379.9 318.8 381.2 319.5 382.5 320.3 383.8 321.0 385.1 321.7 386.4 322.5 387.7 323.2 389.1 323.9 390.4 324.6 391.7 325.4 393.0 326.1 394.3 326.8 395.7 327.5 397.0 328.3 398.3 329.0 399.6 329.7 401.0 330.4 402.3 331.2 403.6 331.9 404.9 332.6 406.2 333.3 407.6 334.1 408.9 334.8 410.2 335.5 411.5 336.2 412.8 337.0 414.1 337.7 415.5 338.4 416.8 339.2 418.1 339.9 419.4 340.7 420.7 341.4 422.0 342.2 423.3 342.9 424.6 343.7 425.9 344.4 427.2 345.2 428.5 346.0 429.8 346.7 431.0 347.5 432.3 348.3 433.6 349.1 434.9 349.9 436.2 350.7 437.4 351.5 438.7 352.3 440.0 353.1 441.2 353.9 442.5 354.7 443.8 355.5 445.0 356.3 446.3 357.1 447.5 357.9 448.8 358.8 450.0 359.6 451.3 360.4 452.5 361.2 453.8 362.1 455.0 362.9 456.2 363.8 457.5 364.6 458.7 365.4 460.0 366.3 461.2 367.1 462.4 368.0 463.7 368.8 464.9 369.7 466.1 370.6 467.3 371.4 468.6 372.3 469.8 373.1 471.0 374.0 472.2 374.9 473.5 375.7 474.7 376.6 475.9 377.5 477.1 378.3 478.3 379.2 479.6 380.1 480.8 381.0 482.0 381.8 483.2 382.7 484.4 383.6 485.6 384.5 486.9 385.3 488.1 386.2 489.3 387.1 490.5 388.0 491.7 388.9 492.9 389.7 494.1 390.6 495.3 391.5 496.6 392.4 497.8 393.3 499.0 394.1 500.2 395.0 501.4 395.9 502.6 396.8 503.8 397.7 505.0 398.5 506.3 399.4 507.5 400.3 508.7 401.2 509.9 402.0 511.1 402.9 512.3 403.8 513.6 404.7 514.8 405.5 516.0 406.4 517.2 407.3 518.4 408.2 519.7 409.0 520.9 409.9 522.1 410.8 523.3 411.6 524.5 412.5 525.8 413.3 527.0 414.2 528.2 415.7 526.9 416.5 525.6 417.3 524.4 418.0 523.1 418.8 521.8 419.6 520.6 420.4 519.3 421.2 518.1 422.0 516.8 422.7 515.6 423.5 514.3 424.3 513.0 425.1 511.8 425.8 510.5 426.6 509.2 427.4 508.0 428.2 506.7 429.0 505.4 429.7 504.1 430.5 502.9 431.3 501.6 432.1 500.3 432.8 499.0 433.6 497.8 434.4 496.5 435.2 495.2 435.9 493.9 436.7 492.6 437.5 491.4 438.3 490.1 439.0 488.8 439.8 487.5 440.6 486.2 441.4 484.9 442.1 483.7 442.9 482.4 443.7 481.1 444.5 479.8 445.2 478.5 446.0 477.2 446.8 476.0 447.6 474.7 448.4 473.4 449.1 472.1 449.9 470.8 450.7 469.5 451.5 468.2 452.3 467.0 453.0 465.7 453.8 464.4 454.6 463.1 455.4 461.8 456.2 460.5 457.0 459.3 457.8 458.0 458.5 456.7 459.3 455.4 460.1 454.1 460.9 452.8 461.7 451.6 462.5 450.3 463.3 449.0 464.1 447.7 464.9 446.5 465.7 445.2 466.5 443.9 467.3 442.6 468.1 441.4 468.9 440.1 469.7 438.8 470.5 437.6 471.4 436.3 472.2 435.0 473.0 433.8 473.8 432.5 474.6 431.2 475.4 430.0 476.3 428.7 477.1 427.4 477.9 426.2 478.7 424.9 479.6 423.7 480.4 422.4 481.2 421.2 482.1 419.9 482.9 418.7 483.7 417.4 484.6 416.2 485.4 415.0 486.3 413.7 487.1 412.5 488.0 411.3 488.8 410.0 489.7 408.8 490.6 407.6 491.4 406.3 492.3 405.1 493.1 403.9 494.0 402.7 494.9 401.5 495.8 400.2 496.6 399.0 497.5 397.8 498.4 396.6 499.3 395.4 500.2 394.2 501.1 393.0 502.0 391.8 502.9 390.6 503.8 389.4 504.7 388.2 505.6 387.1 506.5 385.9 507.4 384.7 508.3 383.5 509.2 382.3 510.2 381.2 511.1 380.0 512.0 378.8 512.9 377.7 513.9 376.5 514.8 375.4 515.7 374.2 516.7 373.0 517.6 371.9 518.6 370.7 519.5 369.6 520.5 368.5 521.5 367.3 522.4 366.2 523.4 365.0 524.3 363.9 525.3 362.8 526.3 361.7 527.3 360.5 528.2 359.4 529.2 358.3 530.2 357.2 531.2 356.1 532.2 354.9 533.2 353.8 534.2 352.7 535.2 351.6 536.2 350.5 537.2 349.4 538.2 348.3 539.2 347.2 540.2 346.1 541.2 345.0 542.2 343.9 543.3 342.9 544.3 341.8 545.3 340.7 546.4 339.6 547.4 338.5 548.4 337.5 549.5 336.4 550.5 335.3 551.6 334.2 552.6 333.2 553.7 332.1 554.7 331.1 555.8 330.0 556.8 328.9 557.9 327.9 559.0 326.8 560.0 325.8 561.1 324.7 562.2 323.7 563.3 322.6 564.3 321.6 565.4 320.6 566.5 319.5 567.6 318.5 568.7 317.5 569.8 316.4 570.9 315.4 572.0 314.4 573.1 313.3 574.2 312.3 575.3 311.3 576.4 310.3 577.5 309.3 578.7 308.3 579.8 307.2 580.9 306.2 582.0 305.2 583.2 304.2 584.3 303.2 585.4 302.2 586.6 301.2 587.7 300.2 588.9 299.2 590.0 298.2 591.2 297.2 592.3 296.2 593.5 295.3 594.6 294.3 595.8 293.3 597.0 292.3 598.2 291.4 599.3 290.4 600.5 289.4 601.7 288.5 602.9 287.5 604.1 286.6 605.3 285.6 606.5 284.7 607.6 283.8 608.9 282.8 610.1 281.9 611.3 281.0 612.5 280.1 613.7 279.2 614.9 278.3 616.2 277.4 617.4 276.5 618.6 275.6 619.9 274.8 621.1 273.9 622.3 273.0 623.6 272.2 624.8 271.4 626.1 270.5 627.4 269.7 628.6 268.9 629.9 268.1 631.2 267.2 632.5 266.4 633.8 265.7 635.0 264.9 636.3 264.1 637.6 263.3 638.9 262.6 640.2 261.8 641.6 261.1 642.9 260.4 644.2 259.7 645.5 259.0 646.9 258.3 648.2 257.6 649.5 256.9 650.9 256.2 652.2 255.6 653.6 254.9 654.9 254.3 656.3 253.7 657.7 253.1 659.1 252.5 660.4 251.9 661.8 251.3 663.2 250.7 664.6 250.2 666.0 249.6 667.4 249.1 668.8 248.6 670.2 248.1 671.7 247.6 673.1 247.1 674.5 246.7 676.0 246.2 677.4 245.8 678.8 245.3 680.3 244.9 681.7 244.5 683.2 244.2 684.6 243.8 686.1 243.4 687.6 243.1 689.0 242.8 690.5 242.5 692.0 242.2 693.4 241.9 694.9 241.6 696.4 241.4 697.8 241.2 699.3 241.0 700.8 240.8 702.3 240.6 703.7 240.4 705.2 240.3 706.7 240.2 708.2 240.1 709.6 240.0 711.1 239.9 712.6 239.9 714.1 239.8 715.5 239.8 717.0 239.8 718.5 239.9 719.9 239.9 721.4 240.0 722.9 240.1 724.3 240.2 725.8 240.3 727.3 240.5 728.7 240.6 730.2 240.8 731.6 241.0 733.0 241.3 734.5 241.5 735.9 241.8 737.3 242.1 738.8 242.4 740.2 242.7 741.6 243.1 743.0 243.5 744.4 243.9 745.8 244.3 747.2 244.8 748.6 245.3 750.0 245.8 751.4 246.3 752.8 246.8 754.1 247.4 755.5 248.0 756.9 248.6 758.2 249.2 759.6 249.8 760.9 250.5 762.3 251.1 763.6 251.8 765.0 252.5 766.3 253.2 767.6 253.9 768.9 254.6 770.3 255.4 771.6 256.1 772.9 256.9 774.2 257.7 775.5 258.5 776.8 259.3 778.1 260.1 779.4 260.9 780.7 261.7 781.9 262.5 783.2 263.4 784.5 264.2 785.8 265.0 787.0 265.9 788.3 266.7 789.6 267.6 790.8 268.5 792.1 269.3 793.3 270.2 794.6 271.1 795.8 272.0 797.0 272.8 798.3 273.7 799.5 274.6 800.7 275.5 802.0 276.4 803.2 277.4 804.4 278.3 805.6 279.2 806.8 280.1 808.0 281.1 809.2 282.0 810.4 282.9 811.6 283.9 812.7 284.8 813.9 285.8 815.1 286.7 816.3 287.7 817.4 288.7 818.6 289.7 819.7 290.6 820.9 291.6 822.0 292.6 823.1 293.6 824.3 294.6 825.4 295.6 826.5 296.6 827.6 297.6 828.7 298.7 829.8 299.7 830.9 300.7 832.0 301.8 833.1 302.8 834.2 303.8 835.3 304.9 836.3 305.9 837.4 307.0 838.4 308.1 839.5 309.1 840.5 310.2 841.6 311.3 842.6 312.4 843.6 313.5 844.6 314.6 845.7 315.7 846.7 316.8 847.7 317.9 848.6 319.0 849.6 320.1 850.6 321.3 851.6 322.4 852.5 323.5 853.5 324.7 854.5 325.8 855.4 327.0 856.3 328.1 857.3 329.3 858.2 330.5 859.1 331.6 860.0 332.8 860.9 334.0 861.8 335.2 862.7 336.4 863.6 337.6 864.4 338.8 865.3 340.0 866.2 341.2 867.0 342.4 867.8 343.6 868.7 344.9 869.5 346.1 870.3 347.3 871.1 348.6 871.9 349.8 872.7 351.1 873.5 352.3 874.3 353.6 875.1 354.9 875.9 356.1 876.6 357.4 877.4 358.7 878.2 360.0 878.9 361.2 879.7 362.5 880.4 363.8 881.2 365.1 881.9 366.4 882.6 367.7 883.4 369.0 884.1 370.3 884.8 371.6 885.5 372.9 886.3 374.2 887.0 375.5 887.7 376.8 888.4 378.1 889.1 379.4 889.8 380.7 890.5 382.1 891.2 383.4 892.0 384.7 892.7 386.0 893.4 387.3 894.1 388.6 894.8 389.9 895.5 391.3 896.2 392.6 896.9 393.9 897.6 395.2 898.3 396.5 899.1 397.8 899.8 399.1 900.5 400.4 901.2 401.8 901.9 403.1 902.6 404.4 903.4 405.7 904.1 407.0 904.8 408.3 905.6 409.6 906.3 410.9 907.0 412.2 907.7 413.5 908.5 414.8 909.2 416.1 910.0 417.4 910.7 418.7 911.4 420.0 912.2 421.3 912.9 422.6 913.6 423.9 914.4 425.2 915.1 426.5 915.9 427.8 916.6 429.1 917.4 430.4 918.1 431.7 918.8 433.0 919.6 434.3 920.3 435.6 921.1 436.9 921.8 438.2 922.6 439.5 923.3 440.8 924.1 442.1 924.8 443.4 925.5 444.7 926.3 446.0 927.0 447.3 927.8 448.6 928.5 449.9 929.2 451.2 930.0 452.5 930.7 453.8 931.5 455.1 932.2 456.4 932.9 457.7 933.7 459.0 934.4 460.3 935.2 461.6 935.9 462.9 936.6 464.2 937.4 465.5 938.1 466.8 938.8 468.1 939.6 469.4 940.3 470.8 941.0 472.1 941.8 473.4 942.5 474.7 943.2 476.0 944.0 477.3 944.7 478.6 945.4 479.9 946.2 481.2 946.9 482.5 947.6 483.9 948.3 485.2 949.1 486.5 949.8 487.8 950.5 489.1 951.2 490.4 952.0 491.7 952.7 493.1 953.4 494.4 954.1 495.7 954.9 497.0 955.6 498.3 956.3 499.6 957.0 501.0 957.7 502.3 958.5 503.6 959.2 504.9 959.9 506.2 960.6 507.5 961.3 508.9 962.0 510.2 962.7 511.5 963.5 512.8 964.2 514.2 964.9 515.5 965.6 516.8 966.3 518.1 967.0 519.4 967.7 520.8 968.4 522.1 969.1 523.4 969.8 524.7 970.5 526.1 971.2 527.4 971.9 528.7 972.6 530.0 973.3 531.4 974.0 532.7 974.7 534.0 975.4 535.4 976.1 536.7 976.8 538.0 977.5 539.3 978.2 540.7 978.9 542.0 979.6 543.3 980.3 544.7 981.0 546.0 981.7 547.3 982.4 548.6 983.1 550.0 983.8 551.3 984.4 552.6 985.1 554.0 985.8 555.3 986.5 556.6 987.2 558.0 987.9 559.3 988.5 560.6 989.2 562.0 989.9 563.3 990.6 564.7 991.3 566.0 991.9 567.3 992.6 568.7 993.3 570.0 994.0 571.3 994.6 572.7 995.3 574.0 996.0 575.4 996.7 576.7 997.3 578.0 998.0 579.4 998.7 580.7 999.3 582.0 1000.0 583.4 1000.7 584.7 1001.3 586.1 1002.0 587.4 1002.7 588.8 1003.3 590.1 1004.0 591.4 1004.7 592.8 1005.3 594.1 1006.0 595.5 1006.7 596.8 1007.3 598.1 1008.0 599.5 1008.6 600.8 1009.3 602.2 1010.0 603.5 1010.6 604.9 1011.3 606.2 1011.9 607.6 1012.6 608.9 1013.2 610.2 1013.9 611.6 1014.6 612.9 1015.2 614.3 1015.9 615.6 1016.5 617.0 1017.2 618.3 1017.8 619.7 1018.5 621.0 1019.1 622.4 1019.8 623.7 1020.4 625.1 1021.1 626.4 1021.7 627.8 1022.4 629.1 1023.0 630.5 1023.7 631.8 1024.3 633.2 1025.0 634.5 1025.6 635.9 1026.3 637.2 1026.9 638.6 1027.5 639.9 1028.2 641.3 1028.8 642.6 1029.5 644.0 1030.1 645.3 1030.8 646.7 1031.4 648.0 1032.0 649.4 1032.7 650.7 1033.3 652.1 1034.0 653.4 1034.6 654.8 1035.3 656.1 1035.9 657.5 1036.5 658.8 1037.2 660.2 1037.8 661.5 1038.4 662.9 1039.1 664.2 1039.7 665.6 1040.4 666.9 1041.0 668.3 1041.6 669.7 1042.3 671.0 1042.9 672.4 1043.5 673.7 1044.2 675.1 1044.8 676.4 1045.4 677.8 1046.1 679.1 1046.7 680.5 1047.4 681.8 1048.0 683.2 1048.6 684.6 1049.3 685.9 1049.9 687.3 1050.5 688.6 1051.2 690.0 1051.8 691.3 1052.4 692.7 1053.1 694.0 1053.7 695.4 1054.3 696.8 1055.0 698.1 1055.6 699.5 1056.2 700.8 1056.9 702.2 1057.5 703.5 1058.1 704.9 1058.8 706.2 1059.4 707.6 1060.0 709.0 1060.7 710.3 1061.3 711.7 1061.9 713.0 1062.5 714.4 1063.2 715.7 1063.8 717.1 1064.4 718.5 1065.1 719.8 1065.7 721.2 1066.3 722.5 1067.0 723.9 1067.6 725.2 1068.2 726.6 1068.9 727.9 1069.5 729.3 1070.2 730.7 1070.8 732.0 1071.4 733.4 1072.1 734.7 1072.7 736.1 1073.3 737.4 1074.0 738.8 1074.6 740.1 1075.2 741.5 1075.9 742.9 1076.5 744.2 1077.1 745.6 1077.8 746.9 1078.4 748.3 1079.1 749.6 1079.7 751.0 1080.3 752.3 1081.0 753.7 1081.6 755.0 1082.2 756.4 1082.9 757.7 1083.5 759.1 1084.2 760.5 1084.8 761.8 1085.4 763.2 1086.1 764.5 1086.7 765.9 1087.4 767.2 1088.0 768.6 1088.7 769.9 1089.3 771.3 1089.9 772.6 1090.6 774.0 1091.2 775.3 1091.9 776.7 1092.5 778.0 1093.2 779.4 1093.8 780.7 1094.5 782.1 1095.1 783.4 1095.8 784.8 1096.4 786.1 1097.0 787.5 1097.7 788.8 1098.3 790.2 1099.0 791.5 1099.6 792.9 1100.3 794.2 1100.9 795.6 1101.6 796.9 1102.2 798.3 1102.9 799.6 1103.5 801.0 1104.2 802.3 1104.8 803.7 1105.5 805.0 1106.1 806.4 1106.8 807.7 1107.5 809.1 1108.1 810.4 1108.8 811.8 1109.4 813.1 1110.1 814.5 1110.7 815.8 1111.4 817.2 1112.0 818.5 1112.7 819.9 1113.3 821.2 1114.0 822.6 1114.7 823.9 1115.3 825.3 1116.0 826.6 1116.6 827.9 1117.3 829.3 1117.9 830.6 1118.6 832.0 1119.3 833.3 1119.9 834.7 1120.6 836.0 1121.2 837.4 1121.9 838.7 1122.6 840.1 1123.2 841.4 1123.9 842.7 1124.6 844.1 1125.2 845.4 1125.9 846.8 1126.5 848.1 1127.2 849.5 1127.9 850.8 1128.5 852.2 1129.2 853.5 1129.9 854.8 1130.5 856.2 1131.2 857.5 1131.9 858.9 1132.5 860.2 1133.2 861.6 1133.9 862.9 1134.5 864.2 1135.2 865.6 1135.9 866.9 1136.5 868.3 1137.2 869.6 1137.9 871.0 1138.5 872.3 1139.2 873.6 1139.9 875.0 1140.5 876.3 1141.2 877.7 1141.9 879.0 1142.6 880.3 1143.2 881.7 1143.9 883.0 1144.6 884.4 1145.2 885.7 1145.9 887.0 1146.6 888.4 1147.3 889.7 1147.9 891.1 1148.6 892.4 1149.3 893.7 1150.0 895.1 1150.6 896.4 1151.3 897.7 1152.0 899.1 1152.7 900.4 1153.4 901.8 1154.0 903.1 1154.7 904.4 1155.4 905.8 1156.1 907.1 1156.7 908.4 1157.4 909.8 1158.1 911.1 1158.8 912.5 1159.5 913.8 1160.1 915.1 1160.8 916.5 1161.5 917.8 1162.2 919.1 1162.9 920.5 1163.6 921.8 1164.2 923.1 1164.9 924.5 1165.6 925.8 1166.3 927.1 1167.0 928.5 1167.7 929.8 1168.3 931.1 1169.0 932.5 1169.7 933.8 1170.4 935.1 1171.1 936.5 1171.8 937.8 1172.5 939.1 1173.2 940.5 1173.8 941.8 1174.5 943.1 1175.2 944.5 1175.9 945.8 1176.6 947.1 1177.3 948.5 1178.0 949.8 1178.7 951.1 1179.4 952.5 1180.1 953.8 1180.7 955.1 1181.4 956.5 1182.1 957.8 1182.8 959.1 1183.5 960.4 1184.2 961.8 1184.9 963.1 1185.6 964.4 1186.3 965.8 1187.0 967.1 1187.7 968.4 1188.4 969.7 1189.1 971.1 1189.8 972.4 1190.5 973.7 1191.2 975.1 1191.9 976.4 1192.6 977.7 1193.3 979.0 1194.0 980.4 1194.7 981.7 1195.4 983.0 1196.1 984.3 1196.8 985.7 1197.5 987.0 1198.2 988.3 1198.9 989.7 1199.6 991.0 1200.3 992.3 1201.0 993.6 1201.7 995.0 1202.4 996.3 1203.1 997.6 1203.8 998.9 1204.5 1000.3 1205.2 1001.6 1205.9 1002.9 1206.6 1004.2 1207.3 1005.5 1208.0 1006.9 1208.7 1008.2 1209.4 1009.5 1210.1 1010.8 1210.8 1012.2 1211.6 1013.5 1212.3 1014.8 1213.0 1016.1 1213.7 1017.4 1214.4 1018.8 1215.1 1020.1 1215.8 1021.4 1216.5 1022.7 1217.2 1024.1 1217.9 1025.4 1218.7 1026.7 1219.4 1028.0 1220.1 1029.3 1220.8 1030.7 1221.5 1032.0 1222.2 1033.3 1222.9 1034.6 1223.6 1035.9 1224.4 1037.2 1225.1 1038.6 1225.8 1039.9 1226.5 1041.2 1227.2 1042.5 1227.9 1043.8 1228.7 1045.2 1229.4 1046.5 1230.1 1047.8 1230.8 1049.1 1231.5 1050.4 1232.3 1051.7 1233.0 1053.1 1233.7 1054.4 1234.4 1055.7 1235.1 1057.0 1235.9 1058.3 1236.6 1059.6 1237.3 1060.9 1238.0 1062.3 1238.7 1063.6 1239.5 1064.9 1240.2 1066.2 1240.9 1067.5 1241.6 1068.8 1242.4 1070.1 1243.1 1071.5 1243.8 1072.8 1244.5 1074.1 1245.3 1075.4 1246.0 1076.7 1246.7 1078.0 1247.4 1079.3 1248.2 1080.6 1248.9 1082.0 1249.6 1083.3 1250.3 1084.6 1251.1 1085.9 1251.8 1087.2 1252.5 1088.5 1253.3 1089.8 1254.0 1091.1 1254.7 1092.4 1255.5 1093.8 1256.2 1095.1 1256.9 1096.4 1257.7 1097.7 1258.4 1099.0 1259.1 1100.3 1259.8 1101.6 1260.6 1102.9 1261.3 1104.2 1262.1 1105.5 1262.8 1106.8 1263.5 1108.1 1264.3 1109.4 1265.0 1110.8 1265.7 1112.1 1266.5 1113.4 1267.2 1114.7 1267.9 1116.0 1268.7 1117.3 1269.4 1118.6 1270.2 1119.9 1270.9 1121.2 1271.6 1122.5 1272.4 1123.8 1273.1 1125.1 1273.9 1126.4 1274.6 1127.7 1275.3 1129.0 1276.1 1130.3 1276.8 1131.6 1277.6 1132.9 1278.3 1134.2 1279.0 1135.5 1279.8 1136.8 1280.5 1138.1 1281.3 1139.4 1282.0 1140.7 1282.8 1142.0 1283.5 1143.3 1284.3 1144.6 1285.0 1145.9 1285.8 1147.2 1286.5 1148.5 1287.2 1149.8 1288.0 1151.1 1288.7 1152.4 1289.5 1153.7 1290.2 1155.0 1291.0 1156.3 1291.7 1157.6 1292.5 1158.9 1293.2 1160.2 1294.0 1161.5 1294.7 1162.8 1295.5 1164.1 1296.2 1165.4 1297.0 1166.7 1297.8 1168.0 1298.5 1169.3 1299.3 1170.6 1300.0 1171.9 1300.8 1173.2 1301.5 1174.5 1302.3 1175.8 1303.0 1177.1 1303.8 1178.4 1304.5 1179.7 1305.3 1181.0 1306.1 1182.3 1306.8 1183.6 1307.6 1184.8 1308.3 1186.1 1309.1 1187.4 1309.9 1188.7 1310.6 1190.0 1311.4 1191.3 1312.1 1192.6 1312.9 1193.9 1313.7 1195.2 1314.4 1196.5 1315.2 1197.8 1315.9 1199.1 1316.7 1200.3 1317.5 1201.6 1318.2 1202.9 1319.0 1204.2 1319.8 1205.5 1320.5 1206.8 1321.3 1208.1 1322.1 1209.4 1322.8 1210.7 1323.6 1211.9 1324.3 1213.2 1325.1 1214.5 1325.9 1215.8 1326.7 1217.1 1327.4 1218.4 1328.2 1219.7 1329.0 1221.0 1329.7 1222.2 1330.5 1223.5 1331.3 1224.8 1332.0 1226.1 1332.8 1227.4 1333.6 1228.7 1334.4 1229.9 1335.1 1231.2 1335.9 1232.5 1336.7 1233.8 1337.5 1235.1 1338.3 1236.3 1339.0 1237.6 1339.8 1238.9 1340.6 1240.2 1341.4 1241.4 1342.2 1242.7 1343.0 1244.0 1343.8 1245.2 1344.6 1246.5 1345.4 1247.8 1346.2 1249.0 1347.0 1250.3 1347.8 1251.5 1348.6 1252.8 1349.4 1254.1 1350.2 1255.3 1351.0 1256.6 1351.9 1257.8 1352.7 1259.1 1353.5 1260.3 1354.4 1261.5 1355.2 1262.8 1356.0 1264.0 1356.9 1265.2 1357.7 1266.5 1358.6 1267.7 1359.4 1268.9 1360.3 1270.1 1361.2 1271.3 1362.0 1272.6 1362.9 1273.8 1363.8 1275.0 1364.7 1276.2 1365.5 1277.4 1366.4 1278.6 1367.3 1279.8 1368.2 1280.9 1369.1 1282.1 1370.1 1283.3 1371.0 1284.5 1371.9 1285.7 1372.8 1286.8 1373.8 1288.0 1374.7 1289.2 1375.6 1290.3 1376.6 1291.5 1377.6 1292.6 1378.5 1293.8 1379.5 1294.9 1380.5 1296.0 1381.4 1297.2 1382.4 1298.3 1383.4 1299.4 1384.4 1300.5 1385.4 1301.6 1386.5 1302.7 1387.5 1303.8 1388.5 1304.9 1389.5 1306.0 1390.6 1307.1 1391.6 1308.2 1392.7 1309.2 1393.8 1310.3 1394.8 1311.4 1395.9 1312.4 1397.0 1313.5 1398.1 1314.5 1399.2 1315.5 1400.3 1316.6 1401.4 1317.6 1402.6 1318.6 1403.7 1319.6 1404.8 1320.6 1406.0 1321.6 1407.2 1322.6 1408.3 1323.6 1409.5 1324.6 1410.7 1325.6 1411.9 1326.5 1413.1 1327.5 1414.3 1328.4 1415.5 1329.4 1416.7 1330.3 1418.0 1331.2 1419.2 1332.1 1420.5 1333.0 1421.7 1333.9 1423.0 1334.8 1424.2 1335.7 1425.5 1336.6 1426.8 1337.4 1428.1 1338.3 1429.4 1339.1 1430.7 1339.9 1432.0 1340.7 1433.3 1341.5 1434.6 1342.3 1435.9 1343.1 1437.2 1343.9 1438.6 1344.6 1439.9 1345.4 1441.2 1346.1 1442.6 1346.8 1443.9 1347.5 1445.3 1348.2 1446.6 1348.9 1448.0 1349.5 1449.4 1350.2 1450.8 1350.8 1452.1 1351.4 1453.5 1352.0 1454.9 1352.6 1456.3 1353.2 1457.7 1353.8 1459.1 1354.3 1460.5 1354.8 1461.9 1355.3 1463.3 1355.8 1464.7 1356.3 1466.1 1356.8 1467.5 1357.2 1468.9 1357.6 1470.4 1358.0 1471.8 1358.4 1473.2 1358.8 1474.6 1359.2 1476.1 1359.5 1477.5 1359.8 1478.9 1360.1 1480.4 1360.4 1481.8 1360.7 1483.3 1360.9 1484.7 1361.1 1486.1 1361.3 1487.6 1361.5 1489.0 1361.7 1490.5 1361.8 1491.9 1362.0 1493.4 1362.1 1494.8 1362.2 1496.3 1362.2 1497.7 1362.3 1499.2 1362.3 1500.6 1362.4 1502.1 1362.4 1503.5 1362.3 1505.0 1362.3 1506.4 1362.2 1507.9 1362.2 1509.3 1362.1 1510.8 1362.0 1512.2 1361.9 1513.7 1361.7 1515.1 1361.6 1516.6 1361.4 1518.0 1361.2 1519.5 1361.0 1520.9 1360.8 1522.4 1360.6 1523.8 1360.3 1525.3 1360.1 1526.7 1359.8 1528.2 1359.5 1529.6 1359.2 1531.1 1358.9 1532.5 1358.5 1534.0 1358.2 1535.4 1357.8 1536.8 1357.5 1538.3 1357.1 1539.7 1356.7 1541.2 1356.2 1542.6 1355.8 1544.0 1355.4 1545.4 1354.9 1546.9 1354.5 1548.3 1354.0 1549.7 1353.5 1551.1 1353.0 1552.5 1352.5 1554.0 1351.9 1555.4 1351.4 1556.8 1350.8 1558.2 1350.3 1559.6 1349.7 1561.0 1349.1 1562.4 1348.5 1563.8 1347.9 1565.2 1347.3 1566.6 1346.6 1568.0 1346.0 1569.3 1345.4 1570.7 1344.7 1572.1 1344.0 1573.5 1343.4 1574.8 1342.7 1576.2 1342.0 1577.6 1341.3 1578.9 1340.5 1580.3 1339.8 1581.6 1339.1 1583.0 1338.4 1584.3 1337.6 1585.6 1336.8 1587.0 1336.1 1588.3 1335.3 1589.6 1334.5 1590.9 1333.7 1592.2 1332.9 1593.5 1332.1 1594.8 1331.3 1596.1 1330.5 1597.4 1329.7 1598.7 1328.9 1600.0 1328.0 1601.3 1327.2 1602.5 1326.3 1603.8 1325.5 1605.1 1324.6 1606.3 1323.8 1607.6 1322.9 1608.8 1322.0 1610.1 1321.1 1611.3 1320.3 1612.5 1319.4 1613.7 1318.5 1614.9 1317.6 1616.2 1316.7 1617.4 1315.8 1618.6 1314.8 1619.8 1313.9 1620.9 1313.0 1622.1 1312.1 1623.3 1311.1 1624.5 1310.2 1625.6 1309.2 1626.8 1308.3 1628.0 1307.3 1629.1 1306.4 1630.3 1305.4 1631.4 1304.4 1632.6 1303.5 1633.7 1302.5 1634.8 1301.5 1635.9 1300.5 1637.1 1299.5 1638.2 1298.5 1639.3 1297.5 1640.4 1296.5 1641.5 1295.5 1642.6 1294.5 1643.7 1293.5 1644.8 1292.5 1645.9 1291.4 1646.9 1290.4 1648.0 1289.4 1649.1 1288.3 1650.1 1287.3 1651.2 1286.2 1652.3 1285.2 1653.3 1284.1 1654.4 1283.1 1655.4 1282.0 1656.5 1281.0 1657.5 1279.9 1658.5 1278.8 1659.6 1277.8 1660.6 1276.7 1661.6 1275.6 1662.6 1274.5 1663.7 1273.4 1664.7 1272.3 1665.7 1271.2 1666.7 1270.1 1667.7 1269.0 1668.7 1267.9 1669.7 1266.8 1670.7 1265.7 1671.7 1264.6 1672.6 1263.5 1673.6 1262.3 1674.6 1261.2 1675.6 1260.1 1676.5 1259.0 1677.5 1257.8 1678.5 1256.7 1679.4 1255.6 1680.4 1254.4 1681.4 1253.3 1682.3 1252.1 1683.3 1251.0 1684.2 1249.8 1685.2 1248.7 1686.1 1247.5 1687.0 1246.4 1688.0 1245.2 1688.9 1244.0 1689.8 1242.9 1690.8 1241.7 1691.7 1240.5 1692.6 1239.3 1693.5 1238.2 1694.5 1237.0 1695.4 1235.8 1696.3 1234.6 1697.2 1233.4 1698.1 1232.3 1699.0 1231.1 1699.9 1229.9 1700.8 1228.7 1701.7 1227.5 1702.6 1226.3 1703.5 1225.1 1704.4 1223.9 1705.3 1222.7 1706.2 1221.5 1707.1 1220.3 1708.0 1219.1 1708.9 1217.9 1709.7 1216.7 1710.6 1215.5 1711.5 1214.3 1712.4 1213.0 1713.3 1211.8 1714.1 1210.6 1715.0 1209.4 1715.9 1208.2 1716.8 1207.0 1717.6 1205.7 1718.5 1204.5 1719.4 1203.3 1720.2 1202.1 1721.1 1200.8 1722.0 1199.6 1722.8 1198.4 1723.7 1197.2 1724.5 1195.9 1725.4 1194.7 1726.3 1193.5 1727.1 1192.2 1728.0 1191.0 1728.8 1189.8 1729.7 1188.6 1730.5 1187.3 1731.4 1186.1 1732.2 1184.8 1733.1 1183.6 1733.9 1182.4 1734.8 1181.1 1735.6 1179.9 1736.5 1178.7 1737.3 1177.4 1738.2 1176.2 1739.0 1174.9 1739.9 1173.7 1740.7 1172.5 1741.5 1171.2 1742.4 1170.0 1743.2 1168.7 1744.1 1167.5 1744.9 1166.2 1745.7 1165.0 1746.6 1163.8 1747.4 1162.5 1748.2 1161.3 1749.1 1160.0 1749.9 1158.8 1750.7 1157.5 1751.5 1156.3 1752.4 1155.0 1753.2 1153.8 1754.0 1152.5 1754.8 1151.2 1755.7 1150.0 1756.5 1148.7 1757.3 1147.5 1758.1 1146.2 1758.9 1145.0 1759.8 1143.7 1760.6 1142.4 1761.4 1141.2 1762.2 1139.9 1763.0 1138.7 1763.8 1137.4 1764.6 1136.1 1765.4 1134.9 1766.2 1133.6 1767.1 1132.3 1767.9 1131.1 1768.7 1129.8 1769.5 1128.5 1770.3 1127.3 1771.1 1126.0 1771.9 1124.7 1772.7 1123.5 1773.5 1122.2 1774.3 1120.9 1775.0 1119.7 1775.8 1118.4 1776.6 1117.1 1777.4 1115.8 1778.2 1114.6 1779.0 1113.3 1779.8 1112.0 1780.6 1110.7 1781.3 1109.4 1782.1 1108.2 1782.9 1106.9 1783.7 1105.6 1784.5 1104.3 1785.2 1103.0 1786.0 1101.8 1786.8 1100.5 1787.6 1099.2 1788.3 1097.9 1789.1 1096.6 1789.9 1095.3 1790.6 1094.0 1791.4 1092.7 1792.2 1091.5 1792.9 1090.2 1793.7 1088.9 1794.5 1087.6 1795.2 1086.3 1796.0 1085.0 1796.7 1083.7 1797.5 1082.4 1798.2 1081.1 1799.0 1079.8 1799.7 1078.5 1800.5 1077.2 1801.2 1075.9 1802.0 1074.6 1802.7 1073.3 1803.5 1072.0 1804.2 1070.7 1804.9 1069.4 1805.7 1068.1 1806.4 1066.8 1807.2 1065.5 1807.9 1064.2 1808.6 1062.9 1809.4 1061.6 1810.1 1060.3 1810.8 1059.0 1811.5 1057.6 1812.3 1056.3 1813.0 1055.0 1813.7 1053.7 1814.4 1052.4 1815.1 1051.1 1815.9 1049.8 1816.6 1048.5 1817.3 1047.1 1818.0 1045.8 1818.7 1044.5 1819.4 1043.2 1820.1 1041.9 1820.8 1040.5 1821.6 1039.2 1822.3 1037.9 1823.0 1036.6 1823.7 1035.2 1824.4 1033.9 1825.1 1032.6 1825.7 1031.3 1826.4 1029.9 1827.1 1028.6 1827.8 1027.3 1828.5 1026.0 1829.2 1024.6 1829.9 1023.3 1830.6 1022.0 1831.2 1020.6 1831.9 1019.3 1832.6 1018.0 1833.3 1016.6 1834.0 1015.3 1834.6 1013.9 1835.3 1012.6 1836.0 1011.3 1836.6 1009.9 1837.3 1008.6 1838.0 1007.2 1838.6 1005.9 1839.3 1004.6 1840.0 1003.2 1840.6 1001.9 1841.3 1000.5 1841.9 999.2 1842.6 997.8 1843.2 996.5 1843.9 995.1 1844.5 993.8 1845.2 992.4 1845.8 991.1 1846.5 989.7 1847.1 988.4 1847.8 987.0 1848.4 985.7 1849.0 984.3 1849.7 983.0 1850.3 981.6 1850.9 980.2 1851.6 978.9 1852.2 977.5 1852.8 976.2 1853.5 974.8 1854.1 973.4 1854.7 972.1 1855.3 970.7 1856.0 969.4 1856.6 968.0 1857.2 966.6 1857.8 965.3 1858.4 963.9 1859.0 962.5 1859.7 961.2 1860.3 959.8 1860.9 958.4 1861.5 957.1 1862.1 955.7 1862.7 954.3 1863.3 953.0 1863.9 951.6 1864.5 950.2 1865.1 948.8 1865.7 947.5 1866.3 946.1 1866.9 944.7 1867.5 943.4 1868.1 942.0 1868.7 940.6 1869.3 939.2 1869.9 937.9 1870.5 936.5 1871.1 935.1 1871.7 933.7 1872.3 932.3 1872.9 931.0 1873.5 929.6 1874.1 928.2 1874.7 926.8 1875.3 925.5 1875.8 924.1 1876.4 922.7 1877.0 921.3 1877.6 919.9 1878.2 918.6 1878.8 917.2 1879.3 915.8 1879.9 914.4 1880.5 913.0 1881.1 911.6 1881.7 910.3 1882.2 908.9 1882.8 907.5 1883.4 906.1 1884.0 904.7 1884.6 903.3 1885.1 902.0 1885.7 900.6 1886.3 899.2 1886.9 897.8 1887.4 896.4 1888.0 895.0 1888.6 893.6 1889.1 892.2 1889.7 890.9 1890.3 889.5 1890.9 888.1 1891.4 886.7 1892.0 885.3 1892.6 883.9 1893.1 882.5 1893.7 881.1 1894.3 879.8 1894.8 878.4 1895.4 877.0 1896.0 875.6 1896.5 874.2 1897.1 872.8 1897.7 871.4 1898.2 870.0 1898.8 868.6 1899.4 867.3 1899.9 865.9 1900.5 864.5 1901.1 863.1 1901.6 861.7 1902.2 860.3 1902.8 858.9 1903.3 857.5 1903.9 856.1 1904.5 854.7 1905.0 853.4 1905.6 852.0 1906.2 850.6 1906.7 849.2 1907.3 847.8 1907.8 846.4 1908.4 845.0 1909.0 843.6 1909.5 842.2 1910.1 840.9 1910.7 839.5 1911.2 838.1 1911.8 836.7 1912.4 835.3 1912.9 833.9 1913.5 832.5 1914.1 831.1 1914.6 829.7 1915.2 828.3 1915.7 827.0 1916.3 825.6 1916.9 824.2 1917.4 822.8 1918.0 821.4 1918.6 820.0 1919.1 818.6 1919.7 817.2 1920.3 815.9 1920.9 814.5 1921.4 813.1 1922.0 811.7 1922.6 810.3 1923.1 808.9 1923.7 807.5 1924.3 806.2 1924.8 804.8 1925.4 803.4 1926.0 802.0 1926.6 800.6 1927.1 799.2 1927.7 797.8 1928.3 796.5 1928.9 795.1 1929.4 793.7 1930.0 792.3 1930.6 790.9 1931.2 789.5 1931.7 788.2 1932.3 786.8 1932.9 785.4 1933.5 784.0 1934.1 782.6 1934.6 781.3 1935.2 779.9 1935.8 778.5 1936.4 777.1 1937.0 775.7 1937.6 774.4 1938.1 773.0 1938.7 771.6 1939.3 770.2 1939.9 768.9 1940.5 767.5 1941.1 766.1 1941.7 764.7 1942.3 763.4 1942.9 762.0 1943.4 760.6 1944.0 759.2 1944.6 757.9 1945.2 756.5 1945.8 755.1 1946.4 753.7 1947.0 752.4 1947.6 751.0 1948.2 749.6 1948.8 748.3 1949.4 746.9 1950.0 745.5 1950.6 744.2 1951.2 742.8 1951.8 741.4 1952.4 740.1 1953.0 738.7 1953.6 737.3 1954.2 735.9 1954.9 734.6 1955.5 733.2 1956.1 731.9 1956.7 730.5 1957.3 729.1 1957.9 727.8 1958.5 726.4 1959.1 725.0 1959.7 723.7 1960.3 722.3 1961.0 720.9 1961.6 719.6 1962.2 718.2 1962.8 716.9 1963.4 715.5 1964.0 714.1 1964.7 712.8 1965.3 711.4 1965.9 710.0 1966.5 708.7 1967.1 707.3 1967.8 706.0 1968.4 704.6 1969.0 703.2 1969.6 701.9 1970.3 700.5 1970.9 699.2 1971.5 697.8 1972.1 696.5 1972.8 695.1 1973.4 693.7 1974.0 692.4 1974.7 691.0 1975.3 689.7 1975.9 688.3 1976.5 687.0 1977.2 685.6 1977.8 684.3 1978.4 682.9 1979.1 681.6 1979.7 680.2 1980.4 678.8 1981.0 677.5 1981.6 676.1 1982.3 674.8 1982.9 673.4 1983.5 672.1 1984.2 670.7 1984.8 669.4 1985.5 668.0 1986.1 666.7 1986.7 665.3 1987.4 664.0 1988.0 662.6 1988.7 661.3 1989.3 659.9 1990.0 658.6 1990.6 657.2 1991.3 655.9 1991.9 654.5 1992.6 653.2 1993.2 651.8 1993.9 650.5 1994.5 649.1 1995.2 647.8 1995.8 646.5 1996.5 645.1 1997.1 643.8 1997.8 642.4 1998.4 641.1 1999.1 639.7 1999.7 638.4 2000.4 637.0 2001.0 635.7 2001.7 634.3 2002.4 633.0 2003.0 631.6 2003.7 630.3 2004.3 629.0 2005.0 627.6 2005.7 626.3 2006.3 624.9 2007.0 623.6 2007.6 622.2 2008.3 620.9 2009.0 619.6 2009.6 618.2 2010.3 616.9 2011.0 615.5 2011.6 614.2 2012.3 612.8 2013.0 611.5 2013.6 610.2 2014.3 608.8 2015.0 607.5 2015.6 606.1 2016.3 604.8 2017.0 603.5 2017.7 602.1 2018.3 600.8 2019.0 599.4 2019.7 598.1 2020.4 596.8 2021.0 595.4 2021.7 594.1 2022.4 592.7 2023.1 591.4 2023.7 590.1 2024.4 588.7 2025.1 587.4 2025.8 586.1 2026.4 584.7 2027.1 583.4 2027.8 582.0 2028.5 580.7 2029.2 579.4 2029.9 578.0 2030.5 576.7 2031.2 575.4 2031.9 574.0 2032.6 572.7 2033.3 571.3 2034.0 570.0 2034.6 568.7 2035.3 567.3 2036.0 566.0 2036.7 564.7 2037.4 563.3 2038.1 562.0 2038.8 560.7 2039.5 559.3 2040.1 558.0 2040.8 556.6 2041.5 555.3 2042.2 554.0 2042.9 552.6 2043.6 551.3 2044.3 550.0 2045.0 548.6 2045.7 547.3 2046.4 546.0 2047.1 544.6 2047.8 543.3 2048.5 542.0 2049.2 540.6 2049.9 539.3 2050.6 538.0 2051.3 536.6 2052.0 535.3 2052.7 534.0 2053.4 532.6 2054.1 531.3 2054.8 530.0 2055.5 528.6 2056.2 527.3 2056.9 526.0 2057.6 524.7 2058.3 523.3 2059.0 522.0 2059.7 520.7 2060.4 519.3 2061.1 518.0 2061.9 516.7 2062.6 515.4 2063.3 514.0 2064.0 512.7 2064.7 511.4 2065.4 510.1 2066.2 508.7 2066.9 507.4 2067.6 506.1 2068.3 504.8 2069.0 503.4 2069.8 502.1 2070.5 500.8 2071.2 499.5 2071.9 498.2 2072.7 496.9 2073.4 495.5 2074.1 494.2 2074.9 492.9 2075.6 491.6 2076.3 490.3 2077.1 489.0 2077.8 487.7 2078.5 486.3 2079.3 485.0 2080.0 483.7 2080.8 482.4 2081.5 481.1 2082.3 479.8 2083.0 478.5 2083.8 477.2 2084.5 475.9 2085.3 474.6 2086.0 473.3 2086.8 472.0 2087.5 470.7 2088.3 469.4 2089.0 468.1 2089.8 466.8 2090.6 465.5 2091.3 464.2 2092.1 462.9 2092.9 461.6 2093.6 460.4 2094.4 459.1 2095.2 457.8 2096.0 456.5 2096.7 455.2 2097.5 453.9 2098.3 452.7 2099.1 451.4 2099.9 450.1 2100.7 448.8 2101.4 447.5 2102.2 446.3 2103.0 445.0 2103.8 443.7 2104.6 442.5 2105.4 441.2 2106.2 439.9 2107.0 438.7 2107.8 437.4 2108.6 436.1 2109.4 434.9 2110.3 433.6 2111.1 432.4 2111.9 431.1 2112.7 429.9 2113.5 428.6 2114.3 427.4 2115.2 426.1 2116.0 424.9 2116.8 423.6 2117.6 422.4 2118.5 421.1 2119.3 419.9 2120.2 418.7 2121.0 417.4 2121.8 416.2 2122.7 415.0 2123.5 413.7 2124.4 412.5 2125.2 411.3 2126.1 410.0 2126.9 408.8 2127.8 407.6 2128.7 406.4 2129.5 405.2 2130.4 404.0 2131.3 402.7 2132.1 401.5 2133.0 400.3 2133.9 399.1 2134.8 397.9 2135.6 396.7 2136.5 395.5 2137.4 394.3 2138.3 393.1 2139.2 391.9 2140.1 390.7 2141.0 389.5 2141.9 388.4 2142.8 387.2 2143.7 386.0 2144.6 384.8 2145.5 383.6 2146.4 382.5 2147.3 381.3 2148.3 380.1 2149.2 379.0 2150.1 377.8 2151.0 376.6 2152.0 375.5 2152.9 374.3 2153.9 373.2 2154.8 372.0 2155.7 370.8 2156.7 369.7 2157.6 368.6 2158.6 367.4 2159.5 366.3 2160.5 365.1 2161.5 364.0 2162.4 362.9 2163.4 361.7 2164.4 360.6 2165.3 359.5 2166.3 358.4 2167.3 357.2 2168.3 356.1 2169.3 355.0 2170.3 353.9 2171.3 352.8 2172.3 351.7 2173.3 350.6 2174.3 349.5 2175.3 348.4 2176.3 347.3 2177.3 346.2 2178.3 345.1 2179.3 344.0 2180.4 343.0 2181.4 341.9 2182.4 340.8 2183.5 339.7 2184.5 338.7 2185.6 337.6 2186.6 336.5 2187.6 335.5 2188.7 334.4 2189.8 333.4 2190.8 332.3 2191.9 331.2 2193.0 330.2 2194.0 329.2 2195.1 328.1 2196.2 327.1 2197.3 326.1 2198.3 325.0 2199.4 324.0 2200.5 323.0 2201.6 322.0 2202.7 320.9 2203.8 319.9 2204.9 318.9 2206.1 317.9 2207.2 316.9 2208.3 315.9 2209.4 314.9 2210.6 313.9 2211.7 312.9 2212.8 311.9 2214.0 311.0 2215.1 310.0 2216.3 309.0 2217.4 308.0 2218.6 307.1 2219.7 306.1 2220.9 305.1 2222.1 304.2 2223.2 303.2 2224.4 302.3 2225.6 301.3 2226.8 300.4 2228.0 299.4 2229.2 298.5 2230.4 297.6 2231.6 296.7 2232.8 295.7 2234.0 294.8 2235.2 293.9 2236.4 293.0 2237.7 292.1 2238.9 291.2 2240.1 290.3 2241.4 289.4 2242.6 288.5 2243.9 287.6 2245.1 286.7 2246.4 285.8" stroke="#0000ff" stroke-width="10.5" fill="none" stroke-linejoin="round"/>
<path d="M294.6 351.2L295.6 350.5 296.6 349.9 297.7 349.5 298.6 349.1 299.6 348.8 300.6 348.6 301.6 348.5 302.5 348.5 303.4 348.5 304.3 348.7 305.2 348.9 306.1 349.2 307.0 349.5 307.8 349.9 308.7 350.4 309.5 350.9 310.3 351.5 311.0 352.1 311.8 352.8 312.6 353.5 313.3 354.3 314.0 355.0 314.7 355.8 315.4 356.7 316.0 357.5 316.6 358.4 317.2 359.3 317.8 360.2 318.4 361.1 319.0 362.0 319.5 362.9 320.0 363.8 320.5 364.7 320.9 365.6 321.4 366.5 321.8 367.3 322.2 368.1 322.5 368.9 322.9 369.7 324.0 371.3 325.2 372.9 326.4 374.5 327.6 376.1 328.8 377.7 329.9 379.2 331.1 380.8 332.3 382.4 333.5 384.0 334.7 385.6 335.9 387.2 337.0 388.8 338.2 390.4 339.4 392.0 340.6 393.6 341.8 395.1 342.9 396.7 344.1 398.3 345.3 399.9 346.5 401.5 347.7 403.1 348.8 404.7 350.0 406.3 351.2 407.9 352.4 409.5 353.6 411.0 354.7 412.6 355.9 414.2 357.1 415.8 358.3 417.4 359.5 419.0 360.6 420.6 361.8 422.2 363.0 423.8 364.2 425.4 365.4 426.9 366.6 428.5 367.7 430.1 368.9 431.7 370.1 433.3 371.3 434.9 372.5 436.5 373.6 438.1 374.8 439.7 376.0 441.3 377.2 442.8 378.4 444.4 379.5 446.0 380.7 447.6 381.9 449.2 383.1 450.8 384.3 452.4 385.4 454.0 386.6 455.6 387.8 457.2 389.0 458.7 390.2 460.3 391.3 461.9 392.5 463.5 393.7 465.1 394.9 466.7 396.1 468.3 397.2 469.9 398.4 471.5 399.6 473.1 400.8 474.6 402.0 476.2 403.2 477.8 404.3 479.4 405.5 481.0 406.7 482.6 407.9 484.2 409.1 485.8 410.2 487.4 411.4 489.0 412.6 490.5 413.8 492.1 415.0 493.7 416.1 495.3 417.3 496.9 418.5 498.5 418.7 497.0 419.3 495.6 419.9 494.2 420.6 492.7 421.2 491.3 421.9 489.9 422.5 488.5 423.2 487.1 423.9 485.7 424.6 484.4 425.3 483.0 426.0 481.6 426.7 480.3 427.5 479.0 428.2 477.6 428.9 476.3 429.7 475.0 430.5 473.7 431.2 472.4 432.0 471.1 432.8 469.8 433.6 468.6 434.4 467.3 435.3 466.0 436.1 464.8 436.9 463.6 437.8 462.3 438.6 461.1 439.5 459.9 440.3 458.7 441.2 457.5 442.1 456.3 443.0 455.1 443.9 453.9 444.8 452.7 445.7 451.6 446.6 450.4 447.5 449.2 448.5 448.1 449.4 447.0 450.4 445.8 451.3 444.7 452.3 443.6 453.2 442.5 454.2 441.3 455.2 440.2 456.2 439.1 457.2 438.1 458.2 437.0 459.2 435.9 460.2 434.8 461.2 433.7 462.2 432.7 463.3 431.6 464.3 430.6 465.3 429.5 466.4 428.5 467.4 427.4 468.5 426.4 469.5 425.4 470.6 424.4 471.7 423.3 472.8 422.3 473.8 421.3 474.9 420.3 476.0 419.3 477.1 418.3 478.2 417.3 479.3 416.3 480.4 415.3 481.6 414.4 482.7 413.4 483.8 412.4 484.9 411.4 486.1 410.5 487.2 409.5 488.3 408.6 489.5 407.6 490.6 406.7 491.8 405.7 492.9 404.8 494.1 403.8 495.2 402.9 496.4 401.9 497.6 401.0 498.7 400.1 499.9 399.2 501.1 398.2 502.3 397.3 503.4 396.4 504.6 395.5 505.8 394.6 507.0 393.6 508.2 392.7 509.4 391.8 510.6 390.9 511.8 390.0 513.0 389.1 514.2 388.2 515.4 387.3 516.6 386.4 517.8 385.5 519.0 384.6 520.2 383.7 521.4 382.8 522.7 381.9 523.9 381.0 525.1 380.1 526.3 379.3 527.5 378.4 528.8 377.5 530.0 376.6 531.2 375.7 532.4 374.8 533.6 373.9 534.9 373.0 536.1 372.2 537.3 371.3 538.5 370.4 539.8 369.5 541.0 368.6 542.2 367.7 543.4 366.8 544.7 365.9 545.9 365.1 547.1 364.2 548.3 363.3 549.6 362.4 550.8 361.5 552.0 360.6 553.2 359.7 554.5 358.8 555.7 357.9 556.9 357.0 558.1 356.1 559.3 355.2 560.6 354.3 561.8 353.4 563.0 352.5 564.2 351.6 565.4 350.7 566.6 349.8 567.8 348.9 569.0 348.0 570.2 347.1 571.4 346.2 572.7 345.2 573.8 344.3 575.0 343.4 576.2 342.5 577.4 341.5 578.6 340.6 579.8 339.7 581.0 338.7 582.2 337.8 583.4 336.9 584.5 335.9 585.7 335.0 586.9 334.0 588.0 333.1 589.2 332.1 590.4 331.1 591.5 330.2 592.7 329.2 593.8 328.2 595.0 327.3 596.1 326.3 597.3 325.3 598.4 324.3 599.5 323.3 600.7 322.3 601.8 321.3 602.9 320.3 604.0 319.3 605.2 318.3 606.3 317.3 607.4 316.3 608.5 315.3 609.6 314.3 610.7 313.3 611.8 312.3 613.0 311.3 614.1 310.3 615.2 309.3 616.3 308.3 617.4 307.3 618.5 306.3 619.6 305.2 620.7 304.2 621.7 303.2 622.8 302.2 623.9 301.2 625.0 300.2 626.1 299.2 627.2 298.2 628.3 297.2 629.4 296.2 630.5 295.2 631.5 294.2 632.6 293.1 633.7 292.2 634.8 291.2 635.9 290.2 637.0 289.2 638.1 288.2 639.1 287.2 640.2 286.2 641.3 285.2 642.4 284.2 643.5 283.3 644.6 282.3 645.7 281.3 646.7 280.3 647.8 279.4 648.9 278.4 650.0 277.5 651.1 276.5 652.2 275.6 653.3 274.6 654.4 273.7 655.5 272.8 656.6 271.8 657.7 270.9 658.8 270.0 659.9 269.1 661.0 268.1 662.1 267.2 663.2 266.3 664.3 265.4 665.5 264.5 666.6 263.5 667.7 262.6 668.9 261.7 670.0 260.8 671.2 259.9 672.3 259.0 673.5 258.0 674.7 257.1 675.9 256.2 677.0 255.3 678.2 254.3 679.5 253.4 680.7 252.5 681.9 251.5 683.1 250.6 684.4 249.6 685.6 248.7 686.9 247.7 688.2 246.8 689.4 245.8 690.7 244.9 692.0 243.9 693.3 243.0 694.6 242.0 695.9 241.1 697.3 240.2 698.6 239.2 699.9 238.3 701.3 237.4 702.6 236.5 704.0 235.6 705.3 234.7 706.7 233.9 708.0 233.0 709.4 232.2 710.8 231.3 712.2 230.5 713.5 229.7 714.9 228.9 716.3 228.2 717.7 227.4 719.1 226.7 720.5 226.0 721.9 225.3 723.3 224.6 724.7 224.0 726.1 223.4 727.5 222.8 728.9 222.2 730.3 221.7 731.7 221.1 733.1 220.6 734.5 220.2 736.0 219.7 737.4 219.3 738.8 218.9 740.2 218.6 741.6 218.3 743.0 218.0 744.4 217.8 745.8 217.5 747.2 217.4 748.6 217.2 750.0 217.1 751.4 217.0 752.8 217.0 754.2 217.0 755.6 217.1 757.0 217.2 758.3 217.3 759.7 217.5 761.1 217.7 762.4 217.9 763.8 218.2 765.2 218.5 766.5 218.9 767.9 219.2 769.2 219.7 770.6 220.1 771.9 220.6 773.2 221.1 774.6 221.7 775.9 222.2 777.2 222.8 778.5 223.5 779.8 224.1 781.1 224.8 782.4 225.5 783.7 226.3 785.0 227.0 786.3 227.8 787.5 228.6 788.8 229.5 790.1 230.3 791.3 231.2 792.6 232.1 793.8 233.0 795.0 233.9 796.3 234.9 797.5 235.8 798.7 236.8 799.9 237.8 801.1 238.8 802.3 239.8 803.5 240.8 804.6 241.9 805.8 242.9 807.0 244.0 808.1 245.1 809.2 246.2 810.4 247.3 811.5 248.4 812.6 249.5 813.7 250.6 814.8 251.7 815.9 252.8 817.0 253.9 818.1 255.1 819.1 256.2 820.2 257.3 821.2 258.4 822.3 259.6 823.3 260.7 824.3 261.8 825.3 262.9 826.3 264.1 827.3 265.2 828.3 266.3 829.3 267.5 830.2 268.6 831.1 269.8 832.1 270.9 833.0 272.0 833.9 273.2 834.8 274.4 835.7 275.5 836.5 276.7 837.4 277.9 838.2 279.1 839.1 280.2 839.9 281.4 840.7 282.6 841.5 283.9 842.3 285.1 843.0 286.3 843.8 287.6 844.5 288.8 845.2 290.1 845.9 291.4 846.6 292.7 847.3 294.0 848.0 295.3 848.6 296.6 849.3 297.9 849.9 299.2 850.5 300.6 851.1 301.9 851.8 303.3 852.4 304.6 853.0 306.0 853.6 307.3 854.2 308.7 854.9 310.1 855.5 311.4 856.1 312.8 856.7 314.1 857.4 315.5 858.0 316.8 858.7 318.2 859.4 319.5 860.1 320.8 860.8 322.1 861.5 323.5 862.2 324.8 863.0 326.0 863.7 327.3 864.5 328.6 865.3 329.9 866.1 331.1 867.0 332.4 867.8 333.6 868.6 334.8 869.5 336.1 870.4 337.3 871.2 338.5 872.1 339.8 872.9 341.0 873.8 342.2 874.7 343.4 875.5 344.7 876.4 345.9 877.2 347.1 878.0 348.3 878.9 349.6 879.7 350.8 880.5 352.1 881.3 353.3 882.0 354.6 882.8 355.9 883.5 357.2 884.2 358.5 884.9 359.8 885.5 361.1 886.2 362.4 886.8 363.8 887.4 365.1 887.9 366.5 888.5 367.9 889.0 369.2 889.5 370.6 890.0 372.0 890.5 373.4 891.0 374.8 891.5 376.2 892.0 377.7 892.4 379.1 892.9 380.5 893.3 381.9 893.8 383.4 894.2 384.8 894.7 386.2 895.1 387.6 895.6 389.1 896.1 390.5 896.5 391.9 897.0 393.3 897.5 394.8 898.0 396.2 898.5 397.6 899.0 399.0 899.6 400.4 900.1 401.8 900.7 403.2 901.3 404.6 901.8 405.9 902.4 407.3 903.0 408.7 903.6 410.1 904.2 411.4 904.9 412.8 905.5 414.2 906.1 415.5 906.8 416.9 907.4 418.3 908.0 419.6 908.7 421.0 909.3 422.3 910.0 423.7 910.6 425.0 911.3 426.4 911.9 427.7 912.6 429.1 913.2 430.4 913.9 431.8 914.5 433.2 915.2 434.5 915.8 435.9 916.5 437.2 917.1 438.6 917.7 439.9 918.4 441.3 919.0 442.7 919.6 444.0 920.2 445.4 920.9 446.8 921.5 448.1 922.1 449.5 922.7 450.9 923.3 452.2 923.9 453.6 924.5 455.0 925.1 456.3 925.7 457.7 926.3 459.1 926.9 460.4 927.5 461.8 928.1 463.2 928.7 464.6 929.3 465.9 929.9 467.3 930.5 468.7 931.1 470.1 931.7 471.4 932.3 472.8 932.9 474.2 933.4 475.6 934.0 476.9 934.6 478.3 935.2 479.7 935.8 481.1 936.3 482.5 936.9 483.8 937.5 485.2 938.1 486.6 938.7 488.0 939.2 489.4 939.8 490.7 940.4 492.1 941.0 493.5 941.6 494.9 942.1 496.3 942.7 497.6 943.3 499.0 943.9 500.4 944.4 501.8 945.0 503.2 945.6 504.5 946.2 505.9 946.8 507.3 947.3 508.7 947.9 510.0 948.5 511.4 949.1 512.8 949.7 514.2 950.3 515.6 950.9 516.9 951.4 518.3 952.0 519.7 952.6 521.1 953.2 522.4 953.8 523.8 954.4 525.2 955.0 526.6 955.6 528.0 956.2 529.3 956.8 530.7 957.4 532.1 958.0 533.5 958.5 534.8 959.1 536.2 959.7 537.6 960.3 539.0 960.9 540.3 961.5 541.7 962.1 543.1 962.7 544.4 963.4 545.8 964.0 547.2 964.6 548.6 965.2 549.9 965.8 551.3 966.4 552.7 967.0 554.0 967.6 555.4 968.2 556.8 968.8 558.1 969.4 559.5 970.0 560.9 970.7 562.2 971.3 563.6 971.9 565.0 972.5 566.3 973.1 567.7 973.7 569.1 974.4 570.4 975.0 571.8 975.6 573.2 976.2 574.5 976.9 575.9 977.5 577.3 978.1 578.6 978.7 580.0 979.4 581.4 980.0 582.7 980.6 584.1 981.3 585.4 981.9 586.8 982.5 588.2 983.2 589.5 983.8 590.9 984.4 592.2 985.1 593.6 985.7 594.9 986.3 596.3 987.0 597.7 987.6 599.0 988.3 600.4 988.9 601.7 989.5 603.1 990.2 604.4 990.8 605.8 991.5 607.1 992.1 608.5 992.8 609.8 993.4 611.2 994.1 612.5 994.7 613.9 995.4 615.2 996.1 616.6 996.7 617.9 997.4 619.3 998.0 620.6 998.7 622.0 999.3 623.3 1000.0 624.7 1000.7 626.0 1001.3 627.3 1002.0 628.7 1002.7 630.0 1003.3 631.4 1004.0 632.7 1004.7 634.0 1005.4 635.4 1006.0 636.7 1006.7 638.1 1007.4 639.4 1008.1 640.7 1008.7 642.1 1009.4 643.4 1010.1 644.7 1010.8 646.1 1011.5 647.4 1012.1 648.7 1012.8 650.1 1013.5 651.4 1014.2 652.7 1014.9 654.1 1015.6 655.4 1016.3 656.7 1017.0 658.0 1017.7 659.4 1018.4 660.7 1019.1 662.0 1019.7 663.3 1020.4 664.7 1021.1 666.0 1021.9 667.3 1022.6 668.6 1023.3 670.0 1024.0 671.3 1024.7 672.6 1025.4 673.9 1026.1 675.2 1026.8 676.5 1027.5 677.9 1028.2 679.2 1029.0 680.5 1029.7 681.8 1030.4 683.1 1031.1 684.4 1031.8 685.7 1032.6 687.0 1033.3 688.4 1034.0 689.7 1034.7 691.0 1035.5 692.3 1036.2 693.6 1036.9 694.9 1037.7 696.2 1038.4 697.5 1039.1 698.8 1039.9 700.1 1040.6 701.4 1041.3 702.7 1042.1 704.0 1042.8 705.3 1043.6 706.6 1044.3 707.9 1045.1 709.2 1045.8 710.5 1046.6 711.8 1047.3 713.1 1048.1 714.3 1048.8 715.6 1049.6 716.9 1050.3 718.2 1051.1 719.5 1051.9 720.8 1052.6 722.1 1053.4 723.4 1054.1 724.6 1054.9 725.9 1055.7 727.2 1056.5 728.5 1057.2 729.8 1058.0 731.0 1058.8 732.3 1059.6 733.6 1060.3 734.9 1061.1 736.1 1061.9 737.4 1062.7 738.7 1063.5 739.9 1064.3 741.2 1065.1 742.5 1065.9 743.7 1066.7 745.0 1067.5 746.2 1068.3 747.5 1069.1 748.7 1069.9 750.0 1070.7 751.2 1071.5 752.5 1072.4 753.7 1073.2 755.0 1074.0 756.2 1074.9 757.5 1075.7 758.7 1076.5 759.9 1077.4 761.2 1078.2 762.4 1079.1 763.6 1079.9 764.8 1080.8 766.1 1081.6 767.3 1082.5 768.5 1083.4 769.7 1084.3 770.9 1085.1 772.1 1086.0 773.3 1086.9 774.5 1087.8 775.7 1088.7 776.9 1089.6 778.1 1090.5 779.3 1091.4 780.5 1092.3 781.7 1093.3 782.9 1094.2 784.0 1095.1 785.2 1096.1 786.4 1097.0 787.5 1098.0 788.7 1098.9 789.8 1099.9 791.0 1100.8 792.1 1101.8 793.3 1102.8 794.4 1103.7 795.6 1104.7 796.7 1105.7 797.9 1106.7 799.0 1107.7 800.1 1108.7 801.3 1109.6 802.4 1110.6 803.5 1111.6 804.7 1112.6 805.8 1113.6 807.0 1114.5 808.1 1115.5 809.2 1116.5 810.4 1117.5 811.5 1118.4 812.7 1119.4 813.8 1120.4 815.0 1121.3 816.1 1122.3 817.3 1123.2 818.5 1124.1 819.6 1125.1 820.8 1126.0 822.0 1126.9 823.2 1127.8 824.4 1128.7 825.5 1129.6 826.7 1130.5 827.9 1131.4 829.2 1132.2 830.4 1133.1 831.6 1134.0 832.8 1134.8 834.0 1135.7 835.2 1136.5 836.5 1137.4 837.7 1138.2 838.9 1139.0 840.2 1139.8 841.4 1140.7 842.7 1141.5 843.9 1142.3 845.2 1143.1 846.4 1143.9 847.7 1144.7 849.0 1145.5 850.2 1146.3 851.5 1147.0 852.8 1147.8 854.1 1148.6 855.3 1149.4 856.6 1150.1 857.9 1150.9 859.2 1151.7 860.5 1152.4 861.7 1153.2 863.0 1153.9 864.3 1154.7 865.6 1155.4 866.9 1156.2 868.2 1156.9 869.5 1157.7 870.8 1158.4 872.1 1159.2 873.4 1159.9 874.7 1160.6 876.0 1161.4 877.3 1162.1 878.6 1162.8 879.9 1163.6 881.2 1164.3 882.5 1165.0 883.9 1165.7 885.2 1166.5 886.5 1167.2 887.8 1167.9 889.1 1168.7 890.4 1169.4 891.7 1170.1 893.0 1170.8 894.3 1171.6 895.6 1172.3 897.0 1173.0 898.3 1173.7 899.6 1174.4 900.9 1175.2 902.2 1175.9 903.5 1176.6 904.8 1177.3 906.1 1178.1 907.5 1178.8 908.8 1179.5 910.1 1180.2 911.4 1180.9 912.7 1181.6 914.0 1182.4 915.3 1183.1 916.6 1183.8 918.0 1184.5 919.3 1185.2 920.6 1185.9 921.9 1186.7 923.2 1187.4 924.5 1188.1 925.9 1188.8 927.2 1189.5 928.5 1190.2 929.8 1190.9 931.1 1191.6 932.5 1192.3 933.8 1193.0 935.1 1193.8 936.4 1194.5 937.7 1195.2 939.1 1195.9 940.4 1196.6 941.7 1197.3 943.0 1198.0 944.3 1198.7 945.7 1199.4 947.0 1200.1 948.3 1200.8 949.6 1201.5 951.0 1202.2 952.3 1202.9 953.6 1203.6 954.9 1204.3 956.3 1205.0 957.6 1205.7 958.9 1206.4 960.2 1207.1 961.6 1207.8 962.9 1208.4 964.2 1209.1 965.5 1209.8 966.9 1210.5 968.2 1211.2 969.5 1211.9 970.9 1212.6 972.2 1213.3 973.5 1213.9 974.9 1214.6 976.2 1215.3 977.5 1216.0 978.9 1216.7 980.2 1217.4 981.5 1218.0 982.9 1218.7 984.2 1219.4 985.5 1220.1 986.9 1220.7 988.2 1221.4 989.5 1222.1 990.9 1222.8 992.2 1223.4 993.5 1224.1 994.9 1224.8 996.2 1225.4 997.6 1226.1 998.9 1226.8 1000.2 1227.4 1001.6 1228.1 1002.9 1228.8 1004.3 1229.4 1005.6 1230.1 1007.0 1230.7 1008.3 1231.4 1009.6 1232.1 1011.0 1232.7 1012.3 1233.4 1013.7 1234.0 1015.0 1234.7 1016.4 1235.3 1017.7 1236.0 1019.1 1236.6 1020.4 1237.3 1021.8 1237.9 1023.1 1238.6 1024.5 1239.2 1025.8 1239.9 1027.2 1240.5 1028.5 1241.1 1029.9 1241.8 1031.2 1242.4 1032.6 1243.1 1033.9 1243.7 1035.3 1244.3 1036.6 1245.0 1038.0 1245.6 1039.3 1246.2 1040.7 1246.9 1042.1 1247.5 1043.4 1248.1 1044.8 1248.7 1046.1 1249.4 1047.5 1250.0 1048.9 1250.6 1050.2 1251.2 1051.6 1251.9 1052.9 1252.5 1054.3 1253.1 1055.7 1253.7 1057.0 1254.3 1058.4 1254.9 1059.8 1255.5 1061.1 1256.2 1062.5 1256.8 1063.9 1257.4 1065.2 1258.0 1066.6 1258.6 1068.0 1259.2 1069.3 1259.8 1070.7 1260.4 1072.1 1261.0 1073.4 1261.6 1074.8 1262.2 1076.2 1262.8 1077.6 1263.4 1078.9 1264.0 1080.3 1264.6 1081.7 1265.2 1083.1 1265.7 1084.4 1266.3 1085.8 1266.9 1087.2 1267.5 1088.6 1268.1 1089.9 1268.7 1091.3 1269.3 1092.7 1269.8 1094.1 1270.4 1095.5 1271.0 1096.8 1271.6 1098.2 1272.2 1099.6 1272.8 1101.0 1273.3 1102.4 1273.9 1103.7 1274.5 1105.1 1275.1 1106.5 1275.6 1107.9 1276.2 1109.3 1276.8 1110.7 1277.4 1112.0 1277.9 1113.4 1278.5 1114.8 1279.1 1116.2 1279.7 1117.6 1280.2 1119.0 1280.8 1120.3 1281.4 1121.7 1281.9 1123.1 1282.5 1124.5 1283.1 1125.9 1283.7 1127.3 1284.2 1128.6 1284.8 1130.0 1285.4 1131.4 1285.9 1132.8 1286.5 1134.2 1287.1 1135.6 1287.6 1137.0 1288.2 1138.3 1288.8 1139.7 1289.3 1141.1 1289.9 1142.5 1290.5 1143.9 1291.1 1145.3 1291.6 1146.7 1292.2 1148.0 1292.8 1149.4 1293.3 1150.8 1293.9 1152.2 1294.5 1153.6 1295.0 1155.0 1295.6 1156.4 1296.2 1157.7 1296.8 1159.1 1297.3 1160.5 1297.9 1161.9 1298.5 1163.3 1299.0 1164.7 1299.6 1166.0 1300.2 1167.4 1300.8 1168.8 1301.3 1170.2 1301.9 1171.6 1302.5 1173.0 1303.1 1174.3 1303.6 1175.7 1304.2 1177.1 1304.8 1178.5 1305.4 1179.9 1306.0 1181.3 1306.5 1182.6 1307.1 1184.0 1307.7 1185.4 1308.3 1186.8 1308.9 1188.2 1309.5 1189.5 1310.0 1190.9 1310.6 1192.3 1311.2 1193.7 1311.8 1195.0 1312.4 1196.4 1313.0 1197.8 1313.6 1199.2 1314.2 1200.5 1314.8 1201.9 1315.4 1203.3 1316.0 1204.7 1316.5 1206.0 1317.1 1207.4 1317.7 1208.8 1318.3 1210.2 1319.0 1211.5 1319.6 1212.9 1320.2 1214.3 1320.8 1215.6 1321.4 1217.0 1322.0 1218.4 1322.6 1219.7 1323.2 1221.1 1323.8 1222.5 1324.4 1223.8 1325.1 1225.2 1325.7 1226.6 1326.3 1227.9 1326.9 1229.3 1327.5 1230.7 1328.2 1232.0 1328.8 1233.4 1329.4 1234.7 1330.1 1236.1 1330.7 1237.4 1331.3 1238.8 1332.0 1240.2 1332.6 1241.5 1333.2 1242.9 1333.9 1244.2 1334.5 1245.6 1335.2 1246.9 1335.8 1248.3 1336.5 1249.6 1337.1 1251.0 1337.8 1252.3 1338.4 1253.7 1339.1 1255.0 1339.8 1256.4 1340.4 1257.7 1341.1 1259.0 1341.8 1260.4 1342.4 1261.7 1343.1 1263.1 1343.8 1264.4 1344.5 1265.7 1345.1 1267.1 1345.8 1268.4 1346.5 1269.7 1347.2 1271.1 1347.9 1272.4 1348.6 1273.7 1349.3 1275.0 1350.0 1276.4 1350.7 1277.7 1351.4 1279.0 1352.1 1280.3 1352.8 1281.6 1353.6 1282.9 1354.3 1284.3 1355.0 1285.6 1355.7 1286.9 1356.5 1288.2 1357.2 1289.5 1358.0 1290.8 1358.7 1292.1 1359.5 1293.4 1360.2 1294.7 1361.0 1296.0 1361.7 1297.2 1362.5 1298.5 1363.3 1299.8 1364.1 1301.1 1364.8 1302.4 1365.6 1303.6 1366.4 1304.9 1367.2 1306.2 1368.0 1307.4 1368.8 1308.7 1369.6 1310.0 1370.5 1311.2 1371.3 1312.5 1372.1 1313.7 1372.9 1315.0 1373.8 1316.2 1374.6 1317.5 1375.5 1318.7 1376.3 1319.9 1377.2 1321.2 1378.0 1322.4 1378.9 1323.6 1379.8 1324.8 1380.6 1326.0 1381.5 1327.3 1382.4 1328.5 1383.3 1329.7 1384.2 1330.9 1385.1 1332.1 1386.0 1333.3 1387.0 1334.5 1387.9 1335.6 1388.8 1336.8 1389.8 1338.0 1390.7 1339.2 1391.7 1340.3 1392.6 1341.5 1393.6 1342.7 1394.6 1343.8 1395.5 1345.0 1396.5 1346.1 1397.5 1347.3 1398.5 1348.4 1399.5 1349.6 1400.5 1350.7 1401.6 1351.8 1402.6 1352.9 1403.6 1354.0 1404.7 1355.1 1405.7 1356.2 1406.8 1357.3 1407.8 1358.4 1408.9 1359.5 1410.0 1360.5 1411.1 1361.6 1412.2 1362.6 1413.3 1363.6 1414.4 1364.6 1415.6 1365.6 1416.7 1366.6 1417.9 1367.5 1419.0 1368.5 1420.2 1369.4 1421.4 1370.3 1422.6 1371.1 1423.8 1372.0 1425.0 1372.8 1426.3 1373.6 1427.5 1374.4 1428.8 1375.2 1430.1 1375.9 1431.3 1376.6 1432.6 1377.3 1433.9 1377.9 1435.3 1378.5 1436.6 1379.1 1438.0 1379.7 1439.3 1380.2 1440.7 1380.7 1442.1 1381.1 1443.5 1381.5 1445.0 1381.9 1446.4 1382.3 1447.9 1382.6 1449.3 1382.9 1450.8 1383.1 1452.3 1383.3 1453.8 1383.4 1455.4 1383.6 1456.9 1383.6 1458.4 1383.7 1460.0 1383.7 1461.5 1383.7 1463.1 1383.6 1464.6 1383.5 1466.2 1383.4 1467.7 1383.3 1469.3 1383.1 1470.8 1382.9 1472.3 1382.6 1473.8 1382.4 1475.3 1382.1 1476.7 1381.8 1478.2 1381.4 1479.7 1381.0 1481.1 1380.6 1482.5 1380.2 1484.0 1379.7 1485.4 1379.3 1486.8 1378.8 1488.2 1378.3 1489.6 1377.7 1490.9 1377.1 1492.3 1376.6 1493.7 1376.0 1495.0 1375.3 1496.4 1374.7 1497.7 1374.0 1499.0 1373.3 1500.3 1372.6 1501.6 1371.9 1503.0 1371.2 1504.2 1370.4 1505.5 1369.7 1506.8 1368.9 1508.1 1368.1 1509.4 1367.3 1510.6 1366.5 1511.9 1365.6 1513.1 1364.8 1514.4 1363.9 1515.6 1363.0 1516.8 1362.2 1518.1 1361.3 1519.3 1360.4 1520.5 1359.5 1521.7 1358.6 1522.9 1357.6 1524.1 1356.7 1525.3 1355.8 1526.5 1354.8 1527.7 1353.9 1528.9 1352.9 1530.1 1352.0 1531.2 1351.0 1532.4 1350.1 1533.6 1349.1 1534.8 1348.1 1535.9 1347.2 1537.1 1346.2 1538.2 1345.2 1539.4 1344.3 1540.6 1343.3 1541.7 1342.3 1542.9 1341.4 1544.0 1340.4 1545.2 1339.4 1546.3 1338.5 1547.5 1337.5 1548.6 1336.5 1549.7 1335.6 1550.9 1334.6 1552.0 1333.7 1553.1 1332.7 1554.3 1331.7 1555.4 1330.8 1556.5 1329.8 1557.7 1328.8 1558.8 1327.9 1559.9 1326.9 1561.1 1325.9 1562.2 1325.0 1563.3 1324.0 1564.4 1323.0 1565.5 1322.0 1566.7 1321.1 1567.8 1320.1 1568.9 1319.1 1570.0 1318.1 1571.1 1317.1 1572.2 1316.1 1573.4 1315.2 1574.5 1314.2 1575.6 1313.2 1576.7 1312.2 1577.8 1311.2 1578.9 1310.2 1580.0 1309.2 1581.2 1308.2 1582.3 1307.2 1583.4 1306.2 1584.5 1305.2 1585.6 1304.2 1586.7 1303.2 1587.8 1302.1 1588.9 1301.1 1590.0 1300.1 1591.2 1299.1 1592.3 1298.1 1593.4 1297.1 1594.5 1296.1 1595.6 1295.1 1596.7 1294.1 1597.8 1293.1 1599.0 1292.1 1600.1 1291.1 1601.2 1290.1 1602.3 1289.1 1603.5 1288.1 1604.6 1287.1 1605.7 1286.1 1606.8 1285.1 1608.0 1284.1 1609.1 1283.1 1610.2 1282.1 1611.4 1281.1 1612.5 1280.1 1613.6 1279.1 1614.8 1278.1 1615.9 1277.2 1617.1 1276.2 1618.2 1275.2 1619.3 1274.2 1620.5 1273.3 1621.7 1272.3 1622.8 1271.3 1624.0 1270.4 1625.1 1269.4 1626.3 1268.5 1627.5 1267.5 1628.6 1266.6 1629.8 1265.6 1631.0 1264.7 1632.2 1263.8 1633.3 1262.8 1634.5 1261.9 1635.7 1261.0 1636.9 1260.1 1638.1 1259.2 1639.3 1258.3 1640.5 1257.3 1641.7 1256.4 1642.9 1255.5 1644.1 1254.6 1645.3 1253.7 1646.5 1252.8 1647.7 1252.0 1648.9 1251.1 1650.1 1250.2 1651.3 1249.3 1652.5 1248.4 1653.8 1247.5 1655.0 1246.7 1656.2 1245.8 1657.4 1244.9 1658.6 1244.0 1659.9 1243.1 1661.1 1242.3 1662.3 1241.4 1663.5 1240.5 1664.7 1239.7 1666.0 1238.8 1667.2 1237.9 1668.4 1237.1 1669.6 1236.2 1670.9 1235.3 1672.1 1234.5 1673.3 1233.6 1674.5 1232.7 1675.7 1231.9 1677.0 1231.0 1678.2 1230.1 1679.4 1229.3 1680.6 1228.4 1681.9 1227.5 1683.1 1226.6 1684.3 1225.8 1685.5 1224.9 1686.7 1224.0 1687.9 1223.1 1689.1 1222.3 1690.4 1221.4 1691.6 1220.5 1692.8 1219.6 1694.0 1218.7 1695.2 1217.9 1696.4 1217.0 1697.6 1216.1 1698.8 1215.2 1700.0 1214.3 1701.2 1213.4 1702.4 1212.5 1703.5 1211.6 1704.7 1210.7 1705.9 1209.8 1707.1 1208.8 1708.3 1207.9 1709.4 1207.0 1710.6 1206.1 1711.8 1205.2 1712.9 1204.2 1714.1 1203.3 1715.3 1202.3 1716.4 1201.4 1717.6 1200.4 1718.7 1199.5 1719.9 1198.5 1721.0 1197.6 1722.1 1196.6 1723.3 1195.6 1724.4 1194.7 1725.5 1193.7 1726.6 1192.7 1727.7 1191.7 1728.9 1190.7 1730.0 1189.7 1731.1 1188.7 1732.2 1187.7 1733.2 1186.7 1734.3 1185.6 1735.4 1184.6 1736.5 1183.6 1737.6 1182.5 1738.6 1181.5 1739.7 1180.4 1740.8 1179.4 1741.8 1178.3 1742.9 1177.3 1743.9 1176.2 1745.0 1175.1 1746.0 1174.1 1747.0 1173.0 1748.1 1171.9 1749.1 1170.8 1750.1 1169.7 1751.1 1168.6 1752.1 1167.5 1753.1 1166.4 1754.1 1165.3 1755.1 1164.2 1756.1 1163.1 1757.1 1161.9 1758.1 1160.8 1759.1 1159.7 1760.1 1158.6 1761.0 1157.4 1762.0 1156.3 1763.0 1155.1 1763.9 1154.0 1764.9 1152.8 1765.8 1151.7 1766.8 1150.5 1767.7 1149.4 1768.7 1148.2 1769.6 1147.0 1770.5 1145.9 1771.5 1144.7 1772.4 1143.5 1773.3 1142.3 1774.2 1141.1 1775.1 1139.9 1776.0 1138.8 1776.9 1137.6 1777.8 1136.4 1778.7 1135.2 1779.6 1134.0 1780.5 1132.8 1781.3 1131.6 1782.2 1130.3 1783.1 1129.1 1784.0 1127.9 1784.8 1126.7 1785.7 1125.5 1786.5 1124.3 1787.4 1123.0 1788.2 1121.8 1789.1 1120.6 1789.9 1119.3 1790.7 1118.1 1791.6 1116.9 1792.4 1115.6 1793.2 1114.4 1794.0 1113.1 1794.8 1111.9 1795.6 1110.6 1796.4 1109.4 1797.2 1108.1 1798.0 1106.9 1798.8 1105.6 1799.6 1104.3 1800.4 1103.1 1801.2 1101.8 1802.0 1100.5 1802.8 1099.3 1803.5 1098.0 1804.3 1096.7 1805.1 1095.4 1805.8 1094.2 1806.6 1092.9 1807.3 1091.6 1808.1 1090.3 1808.8 1089.0 1809.6 1087.7 1810.3 1086.4 1811.1 1085.1 1811.8 1083.8 1812.5 1082.5 1813.3 1081.2 1814.0 1079.9 1814.7 1078.6 1815.4 1077.3 1816.1 1076.0 1816.9 1074.7 1817.6 1073.4 1818.3 1072.1 1819.0 1070.8 1819.7 1069.4 1820.4 1068.1 1821.1 1066.8 1821.8 1065.5 1822.5 1064.2 1823.1 1062.8 1823.8 1061.5 1824.5 1060.2 1825.2 1058.8 1825.9 1057.5 1826.5 1056.2 1827.2 1054.8 1827.9 1053.5 1828.5 1052.2 1829.2 1050.8 1829.8 1049.5 1830.5 1048.1 1831.2 1046.8 1831.8 1045.4 1832.5 1044.1 1833.1 1042.7 1833.7 1041.4 1834.4 1040.0 1835.0 1038.7 1835.7 1037.3 1836.3 1036.0 1836.9 1034.6 1837.6 1033.2 1838.2 1031.9 1838.8 1030.5 1839.4 1029.2 1840.0 1027.8 1840.7 1026.4 1841.3 1025.1 1841.9 1023.7 1842.5 1022.3 1843.1 1020.9 1843.7 1019.6 1844.3 1018.2 1844.9 1016.8 1845.5 1015.5 1846.1 1014.1 1846.7 1012.7 1847.3 1011.3 1847.9 1009.9 1848.5 1008.6 1849.1 1007.2 1849.7 1005.8 1850.3 1004.4 1850.9 1003.0 1851.4 1001.6 1852.0 1000.3 1852.6 998.9 1853.2 997.5 1853.8 996.1 1854.3 994.7 1854.9 993.3 1855.5 991.9 1856.0 990.5 1856.6 989.1 1857.2 987.8 1857.7 986.4 1858.3 985.0 1858.9 983.6 1859.4 982.2 1860.0 980.8 1860.6 979.4 1861.1 978.0 1861.7 976.6 1862.2 975.2 1862.8 973.8 1863.3 972.4 1863.9 971.0 1864.4 969.6 1865.0 968.2 1865.5 966.8 1866.1 965.4 1866.6 964.0 1867.2 962.6 1867.7 961.2 1868.2 959.8 1868.8 958.4 1869.3 957.0 1869.9 955.6 1870.4 954.2 1870.9 952.8 1871.5 951.4 1872.0 950.0 1872.6 948.6 1873.1 947.1 1873.6 945.7 1874.2 944.3 1874.7 942.9 1875.2 941.5 1875.7 940.1 1876.3 938.7 1876.8 937.3 1877.3 935.9 1877.9 934.5 1878.4 933.1 1878.9 931.7 1879.4 930.3 1880.0 928.9 1880.5 927.5 1881.0 926.1 1881.5 924.6 1882.1 923.2 1882.6 921.8 1883.1 920.4 1883.6 919.0 1884.1 917.6 1884.7 916.2 1885.2 914.8 1885.7 913.4 1886.2 912.0 1886.7 910.6 1887.2 909.2 1887.8 907.7 1888.3 906.3 1888.8 904.9 1889.3 903.5 1889.8 902.1 1890.3 900.7 1890.8 899.3 1891.4 897.9 1891.9 896.5 1892.4 895.1 1892.9 893.6 1893.4 892.2 1893.9 890.8 1894.4 889.4 1894.9 888.0 1895.4 886.6 1896.0 885.2 1896.5 883.8 1897.0 882.4 1897.5 880.9 1898.0 879.5 1898.5 878.1 1899.0 876.7 1899.5 875.3 1900.0 873.9 1900.5 872.5 1901.0 871.1 1901.5 869.7 1902.0 868.3 1902.5 866.8 1903.1 865.4 1903.6 864.0 1904.1 862.6 1904.6 861.2 1905.1 859.8 1905.6 858.4 1906.1 857.0 1906.6 855.6 1907.1 854.1 1907.6 852.7 1908.1 851.3 1908.6 849.9 1909.1 848.5 1909.6 847.1 1910.1 845.7 1910.6 844.3 1911.1 842.9 1911.6 841.5 1912.1 840.0 1912.6 838.6 1913.1 837.2 1913.6 835.8 1914.1 834.4 1914.6 833.0 1915.1 831.6 1915.6 830.2 1916.1 828.8 1916.7 827.4 1917.2 825.9 1917.7 824.5 1918.2 823.1 1918.7 821.7 1919.2 820.3 1919.7 818.9 1920.2 817.5 1920.7 816.1 1921.2 814.7 1921.7 813.3 1922.2 811.9 1922.7 810.5 1923.2 809.0 1923.7 807.6 1924.2 806.2 1924.7 804.8 1925.2 803.4 1925.7 802.0 1926.3 800.6 1926.8 799.2 1927.3 797.8 1927.8 796.4 1928.3 795.0 1928.8 793.6 1929.3 792.2 1929.8 790.8 1930.3 789.4 1930.8 788.0 1931.3 786.5 1931.8 785.1 1932.4 783.7 1932.9 782.3 1933.4 780.9 1933.9 779.5 1934.4 778.1 1934.9 776.7 1935.4 775.3 1936.0 773.9 1936.5 772.5 1937.0 771.1 1937.5 769.7 1938.0 768.3 1938.5 766.9 1939.0 765.5 1939.6 764.1 1940.1 762.7 1940.6 761.3 1941.1 759.9 1941.6 758.5 1942.2 757.1 1942.7 755.7 1943.2 754.3 1943.7 752.9 1944.3 751.5 1944.8 750.1 1945.3 748.7 1945.8 747.3 1946.4 745.9 1946.9 744.5 1947.4 743.1 1947.9 741.7 1948.5 740.3 1949.0 738.9 1949.5 737.5 1950.0 736.1 1950.6 734.8 1951.1 733.4 1951.6 732.0 1952.2 730.6 1952.7 729.2 1953.2 727.8 1953.8 726.4 1954.3 725.0 1954.8 723.6 1955.4 722.2 1955.9 720.8 1956.4 719.4 1957.0 718.0 1957.5 716.6 1958.1 715.2 1958.6 713.8 1959.1 712.5 1959.7 711.1 1960.2 709.7 1960.8 708.3 1961.3 706.9 1961.8 705.5 1962.4 704.1 1962.9 702.7 1963.5 701.3 1964.0 699.9 1964.6 698.5 1965.1 697.2 1965.7 695.8 1966.2 694.4 1966.8 693.0 1967.3 691.6 1967.9 690.2 1968.4 688.8 1969.0 687.4 1969.5 686.0 1970.1 684.7 1970.6 683.3 1971.2 681.9 1971.7 680.5 1972.3 679.1 1972.9 677.7 1973.4 676.3 1974.0 674.9 1974.5 673.6 1975.1 672.2 1975.6 670.8 1976.2 669.4 1976.8 668.0 1977.3 666.6 1977.9 665.2 1978.5 663.9 1979.0 662.5 1979.6 661.1 1980.2 659.7 1980.7 658.3 1981.3 656.9 1981.9 655.5 1982.4 654.2 1983.0 652.8 1983.6 651.4 1984.1 650.0 1984.7 648.6 1985.3 647.2 1985.9 645.9 1986.4 644.5 1987.0 643.1 1987.6 641.7 1988.2 640.3 1988.8 638.9 1989.3 637.6 1989.9 636.2 1990.5 634.8 1991.1 633.4 1991.7 632.0 1992.2 630.6 1992.8 629.3 1993.4 627.9 1994.0 626.5 1994.6 625.1 1995.2 623.7 1995.8 622.4 1996.3 621.0 1996.9 619.6 1997.5 618.2 1998.1 616.8 1998.7 615.5 1999.3 614.1 1999.9 612.7 2000.5 611.3 2001.1 609.9 2001.7 608.6 2002.3 607.2 2002.9 605.8 2003.5 604.4 2004.1 603.0 2004.7 601.7 2005.3 600.3 2005.9 598.9 2006.5 597.5 2007.1 596.1 2007.7 594.8 2008.3 593.4 2008.9 592.0 2009.5 590.6 2010.1 589.2 2010.7 587.9 2011.4 586.5 2012.0 585.1 2012.6 583.7 2013.2 582.3 2013.8 581.0 2014.4 579.6 2015.0 578.2 2015.7 576.8 2016.3 575.5 2016.9 574.1 2017.5 572.7 2018.2 571.3 2018.8 569.9 2019.4 568.6 2020.0 567.2 2020.7 565.8 2021.3 564.4 2021.9 563.1 2022.6 561.7 2023.2 560.3 2023.8 559.0 2024.5 557.6 2025.1 556.2 2025.7 554.9 2026.4 553.5 2027.0 552.1 2027.7 550.8 2028.3 549.4 2029.0 548.0 2029.6 546.7 2030.3 545.3 2030.9 543.9 2031.6 542.6 2032.3 541.2 2032.9 539.9 2033.6 538.5 2034.3 537.2 2034.9 535.8 2035.6 534.5 2036.3 533.1 2036.9 531.8 2037.6 530.4 2038.3 529.1 2039.0 527.7 2039.7 526.4 2040.4 525.1 2041.1 523.7 2041.8 522.4 2042.5 521.0 2043.2 519.7 2043.9 518.4 2044.6 517.1 2045.3 515.7 2046.0 514.4 2046.7 513.1 2047.4 511.8 2048.1 510.5 2048.9 509.1 2049.6 507.8 2050.3 506.5 2051.0 505.2 2051.8 503.9 2052.5 502.6 2053.3 501.3 2054.0 500.0 2054.8 498.7 2055.5 497.4 2056.3 496.1 2057.0 494.8 2057.8 493.6 2058.6 492.3 2059.3 491.0 2060.1 489.7 2060.9 488.4 2061.7 487.2 2062.5 485.9 2063.2 484.6 2064.0 483.4 2064.8 482.1 2065.6 480.9 2066.4 479.6 2067.3 478.4 2068.1 477.1 2068.9 475.9 2069.7 474.6 2070.5 473.4 2071.4 472.2 2072.2 471.0 2073.0 469.7 2073.9 468.5 2074.7 467.3 2075.6 466.1 2076.4 464.9 2077.3 463.7 2078.2 462.5 2079.0 461.3 2079.9 460.1 2080.8 458.9 2081.7 457.7 2082.6 456.5 2083.5 455.3 2084.4 454.1 2085.3 453.0 2086.2 451.8 2087.1 450.6 2088.0 449.5 2088.9 448.3 2089.8 447.2 2090.8 446.0 2091.7 444.9 2092.7 443.7 2093.6 442.6 2094.6 441.5 2095.5 440.4 2096.5 439.2 2097.5 438.1 2098.4 437.0 2099.4 435.9 2100.4 434.8 2101.4 433.7 2102.4 432.6 2103.4 431.5 2104.4 430.4 2105.4 429.4 2106.4 428.3 2107.5 427.2 2108.5 426.2 2109.5 425.1 2110.6 424.1 2111.6 423.0 2112.7 422.0 2113.7 420.9 2114.8 419.9 2115.9 418.9 2117.0 417.8 2118.1 416.8 2119.1 415.8 2120.2 414.8 2121.3 413.8 2122.5 412.8 2123.6 411.8 2124.7 410.8 2125.8 409.9 2127.0 408.9 2128.1 407.9 2129.2 407.0 2130.4 406.0 2131.5 405.0 2132.7 404.1 2133.8 403.1 2135.0 402.2 2136.2 401.2 2137.4 400.3 2138.5 399.4 2139.7 398.4 2140.9 397.5 2142.1 396.6 2143.3 395.7 2144.5 394.8 2145.7 393.8 2146.9 392.9 2148.1 392.0 2149.3 391.1 2150.5 390.2 2151.7 389.3 2152.9 388.4 2154.2 387.5 2155.4 386.6 2156.6 385.7 2157.8 384.8 2159.1 383.9 2160.3 383.1 2161.5 382.2 2162.8 381.3 2164.0 380.4 2165.2 379.5 2166.5 378.7 2167.7 377.8 2168.9 376.9 2170.2 376.0 2171.4 375.2 2172.7 374.3 2173.9 373.4 2175.1 372.5 2176.4 371.7 2177.6 370.8 2178.9 369.9 2180.1 369.1 2181.4 368.2 2182.6 367.3 2183.8 366.4 2185.1 365.6 2186.3 364.7 2187.6 363.8 2188.8 363.0 2190.0 362.1 2191.3 361.2 2192.5 360.3 2193.7 359.5 2195.0 358.6 2196.2 357.7 2197.4 356.8 2198.7 356.0 2199.9 355.1 2201.1 354.2 2202.3 353.3 2203.5 352.4 2204.7 351.5 2206.0 350.7 2207.2 349.8 2208.4 348.9 2209.6 348.0 2210.8 347.1 2212.0 346.2 2213.2 345.3 2214.3 344.4 2215.5 343.5 2216.7 342.6 2217.9 341.6 2219.1 340.7 2220.2 339.8 2221.4 338.9 2222.5 338.0 2223.7 337.0 2224.9 336.1 2226.0 335.2 2227.1 334.2 2228.3 333.3 2229.4 332.3 2230.5 331.4 2231.6 330.4 2232.8 329.5 2233.9 328.5 2235.0 327.5 2236.1 326.6 2237.2 325.6 2238.2 324.6 2239.3 323.6 2240.4 322.6 2241.5 321.6 2242.5 320.6" stroke="#00ff00" stroke-width="10.5" fill="none" stroke-dasharray="40.0 39.9 40.0 40.3 43.0 41.6 40.0 40.2 40.0 39.3 40.0 41.5 40.0 38.2 40.0 41.8 40.0 41.0 40.0 39.5 40.0 40.2 40.0 41.1 40.0 39.0 40.0 40.4 40.0 39.7 40.0 40.5 40.0 40.5 40.0 39.9 40.0 39.6 40.0 40.2 40.0 39.3 40.0 39.3 40.0 42.0 40.0 39.2 40.0 41.2 40.0 41.6 40.0 39.5 40.0 39.8 40.0 40.2 40.0 39.7 40.0 39.4 40.0 40.5 40.0 40.0 40.0 39.2 40.0 40.4 40.0 41.2 40.0 39.6 40.0 38.9 40.0 40.4 40.0 39.4 40.0 41.6 40.0 37.3 37.9 1000.0" stroke-linejoin="round"/>
<path d="M288.0 800.5L288.9 798.7 289.7 796.9 290.6 795.1 291.4 793.3 292.3 791.5 293.1 789.7 294.0 787.9 294.8 786.1 295.7 784.3 296.6 782.5 297.4 780.7 298.3 778.9 299.1 777.1 300.0 775.3 300.8 773.5 301.7 771.7 302.5 769.9 303.4 768.1 304.3 766.3 305.1 764.5 306.0 762.7 306.8 760.9 307.7 759.1 308.5 757.3 309.4 755.4 310.2 753.6 311.1 751.8 312.0 750.0 312.8 748.2 313.7 746.4 314.5 744.6 315.4 742.8 316.2 741.0 317.1 739.2 317.9 737.4 318.8 735.6 319.7 733.8 320.5 732.0 321.4 730.2 322.2 728.4 323.1 726.6 323.9 724.8 324.8 723.0 325.7 721.2 326.5 719.4 327.4 717.6 328.2 715.8 329.1 714.0 329.9 712.2 330.8 710.4 331.6 708.6 332.5 706.8 333.4 705.0 334.2 703.2 335.1 701.4 335.9 699.6 336.8 697.8 337.6 696.0 338.5 694.2 339.3 692.4 340.2 690.6 341.1 688.8 341.9 687.0 342.8 685.2 343.6 683.4 344.5 681.6 345.3 679.8 346.2 678.0 347.0 676.2 347.9 674.4 348.8 672.6 349.6 670.8 350.5 669.0 351.3 667.2 352.2 665.3 353.0 663.5 353.9 661.7 354.7 659.9 355.6 658.1 356.5 656.3 357.3 654.5 358.2 652.7 359.0 650.9 359.9 649.1 360.7 647.3 361.6 645.5 362.4 643.7 363.3 641.9 364.2 640.1 365.0 638.3 365.9 636.5 366.7 634.7 367.6 632.9 368.4 631.1 369.3 629.3 370.1 627.5 371.0 625.7 371.9 623.9 372.7 622.1 373.6 620.3 374.4 618.5 375.3 616.7 376.1 614.9 377.0 613.1 377.8 611.3 378.7 609.5 379.6 607.7 380.4 605.9 381.3 604.1 382.1 602.3 383.0 600.5 383.8 598.7 384.7 596.9 385.6 595.1 386.4 593.3 387.3 591.5 388.1 589.7 389.0 587.9 389.8 586.1 390.7 584.3 391.5 582.5 392.4 580.7 393.3 578.9 394.1 577.1 395.0 575.2 395.8 573.4 396.7 571.6 397.5 569.8 398.4 568.0 399.2 566.2 400.1 564.4 401.0 562.6 401.8 560.8 402.7 559.0 403.5 557.2 404.4 555.4 405.2 553.6 406.1 551.8 406.9 550.0 407.8 548.2 408.7 546.4 409.5 544.6 410.4 542.8 411.2 541.0 412.1 539.2 412.9 537.4 413.8 535.6 414.6 533.8 415.5 532.0 417.1 531.4 417.8 530.1 418.5 528.8 419.3 527.4 420.0 526.1 420.8 524.8 421.5 523.5 422.2 522.2 423.0 520.9 423.7 519.5 424.4 518.2 425.2 516.9 425.9 515.6 426.7 514.3 427.4 513.0 428.1 511.7 428.9 510.4 429.6 509.1 430.4 507.8 431.1 506.4 431.8 505.1 432.6 503.8 433.3 502.5 434.1 501.2 434.8 499.9 435.6 498.6 436.3 497.3 437.0 496.0 437.8 494.7 438.5 493.4 439.3 492.1 440.0 490.8 440.8 489.5 441.5 488.2 442.3 486.9 443.0 485.6 443.8 484.3 444.5 483.0 445.3 481.7 446.0 480.4 446.8 479.1 447.5 477.8 448.3 476.5 449.0 475.2 449.8 473.9 450.5 472.6 451.3 471.3 452.1 470.1 452.8 468.8 453.6 467.5 454.3 466.2 455.1 464.9 455.9 463.6 456.6 462.3 457.4 461.0 458.1 459.8 458.9 458.5 459.7 457.2 460.4 455.9 461.2 454.6 462.0 453.3 462.8 452.1 463.5 450.8 464.3 449.5 465.1 448.2 465.9 446.9 466.6 445.7 467.4 444.4 468.2 443.1 469.0 441.8 469.7 440.6 470.5 439.3 471.3 438.0 472.1 436.7 472.9 435.5 473.7 434.2 474.5 432.9 475.2 431.7 476.0 430.4 476.8 429.1 477.6 427.9 478.4 426.6 479.2 425.3 480.0 424.1 480.8 422.8 481.6 421.6 482.4 420.3 483.2 419.0 484.0 417.8 484.8 416.5 485.6 415.3 486.4 414.0 487.2 412.8 488.1 411.5 488.9 410.3 489.7 409.0 490.5 407.8 491.3 406.5 492.1 405.3 493.0 404.0 493.8 402.8 494.6 401.5 495.4 400.3 496.3 399.0 497.1 397.8 497.9 396.6 498.8 395.3 499.6 394.1 500.4 392.8 501.3 391.6 502.1 390.4 503.0 389.1 503.8 387.9 504.7 386.7 505.5 385.4 506.4 384.2 507.2 383.0 508.1 381.8 508.9 380.5 509.8 379.3 510.6 378.1 511.5 376.9 512.4 375.6 513.2 374.4 514.1 373.2 515.0 372.0 515.8 370.8 516.7 369.5 517.6 368.3 518.5 367.1 519.4 365.9 520.2 364.7 521.1 363.5 522.0 362.3 522.9 361.1 523.8 359.9 524.7 358.7 525.6 357.5 526.5 356.3 527.4 355.0 528.3 353.8 529.2 352.6 530.1 351.5 531.0 350.3 531.9 349.1 532.8 347.9 533.8 346.7 534.7 345.5 535.6 344.3 536.5 343.1 537.5 341.9 538.4 340.8 539.3 339.6 540.3 338.4 541.2 337.2 542.2 336.1 543.1 334.9 544.1 333.7 545.0 332.6 546.0 331.4 547.0 330.2 547.9 329.1 548.9 327.9 549.9 326.8 550.9 325.6 551.8 324.5 552.8 323.4 553.8 322.2 554.8 321.1 555.8 320.0 556.8 318.8 557.8 317.7 558.8 316.6 559.8 315.5 560.9 314.4 561.9 313.3 562.9 312.2 563.9 311.1 565.0 310.0 566.0 308.9 567.1 307.8 568.1 306.7 569.2 305.6 570.2 304.6 571.3 303.5 572.4 302.4 573.5 301.4 574.5 300.3 575.6 299.3 576.7 298.2 577.8 297.2 578.9 296.1 580.0 295.1 581.1 294.1 582.3 293.1 583.4 292.1 584.5 291.1 585.7 290.1 586.8 289.1 588.0 288.1 589.1 287.1 590.3 286.1 591.4 285.1 592.6 284.2 593.8 283.2 595.0 282.2 596.2 281.3 597.4 280.4 598.6 279.4 599.8 278.5 601.0 277.6 602.2 276.6 603.4 275.7 604.7 274.8 605.9 274.0 607.1 273.1 608.4 272.2 609.6 271.3 610.9 270.5 612.2 269.6 613.4 268.8 614.7 267.9 616.0 267.1 617.3 266.3 618.6 265.5 619.9 264.7 621.2 263.9 622.5 263.1 623.8 262.4 625.1 261.6 626.4 260.9 627.7 260.1 629.1 259.4 630.4 258.7 631.7 258.0 633.1 257.3 634.4 256.6 635.8 256.0 637.1 255.3 638.5 254.7 639.8 254.1 641.2 253.4 642.6 252.8 643.9 252.3 645.3 251.7 646.7 251.1 648.1 250.6 649.5 250.0 650.8 249.5 652.2 249.0 653.6 248.5 655.0 248.0 656.4 247.6 657.8 247.1 659.2 246.7 660.7 246.3 662.1 245.9 663.5 245.5 664.9 245.1 666.3 244.7 667.7 244.4 669.2 244.1 670.6 243.8 672.0 243.5 673.5 243.2 674.9 243.0 676.3 242.7 677.8 242.5 679.2 242.3 680.7 242.1 682.1 241.9 683.6 241.8 685.0 241.6 686.5 241.5 687.9 241.4 689.4 241.3 690.8 241.3 692.3 241.2 693.7 241.2 695.2 241.2 696.7 241.2 698.1 241.2 699.6 241.3 701.0 241.3 702.5 241.4 704.0 241.5 705.4 241.6 706.9 241.7 708.3 241.9 709.8 242.0 711.3 242.2 712.7 242.4 714.2 242.6 715.6 242.8 717.1 243.0 718.5 243.3 720.0 243.6 721.5 243.8 722.9 244.1 724.4 244.4 725.8 244.8 727.2 245.1 728.7 245.5 730.1 245.8 731.6 246.2 733.0 246.6 734.4 247.0 735.9 247.4 737.3 247.9 738.7 248.3 740.1 248.8 741.6 249.3 743.0 249.7 744.4 250.2 745.8 250.8 747.2 251.3 748.6 251.8 750.0 252.4 751.4 252.9 752.8 253.5 754.2 254.1 755.5 254.7 756.9 255.3 758.3 256.0 759.7 256.6 761.0 257.2 762.4 257.9 763.7 258.6 765.1 259.2 766.4 259.9 767.7 260.6 769.1 261.3 770.4 262.1 771.7 262.8 773.0 263.5 774.3 264.3 775.6 265.1 776.9 265.8 778.2 266.6 779.5 267.4 780.7 268.2 782.0 269.0 783.3 269.8 784.5 270.7 785.8 271.5 787.0 272.4 788.2 273.2 789.5 274.1 790.7 275.0 791.9 275.8 793.1 276.7 794.3 277.6 795.5 278.5 796.7 279.5 797.9 280.4 799.0 281.3 800.2 282.2 801.4 283.2 802.5 284.1 803.7 285.1 804.8 286.1 806.0 287.0 807.1 288.0 808.3 289.0 809.4 290.0 810.5 291.0 811.6 292.0 812.7 293.0 813.9 294.0 815.0 295.1 816.1 296.1 817.2 297.1 818.2 298.2 819.3 299.2 820.4 300.3 821.5 301.3 822.6 302.4 823.6 303.5 824.7 304.5 825.7 305.6 826.8 306.7 827.8 307.8 828.9 308.9 829.9 310.0 831.0 311.1 832.0 312.2 833.0 313.3 834.0 314.4 835.1 315.5 836.1 316.7 837.1 317.8 838.1 318.9 839.1 320.1 840.1 321.2 841.1 322.3 842.1 323.5 843.1 324.6 844.1 325.8 845.1 326.9 846.0 328.1 847.0 329.2 848.0 330.4 849.0 331.5 849.9 332.7 850.9 333.9 851.9 335.0 852.8 336.2 853.8 337.4 854.7 338.5 855.7 339.7 856.6 340.9 857.6 342.1 858.5 343.2 859.5 344.4 860.4 345.6 861.3 346.8 862.3 348.0 863.2 349.2 864.1 350.3 865.0 351.5 866.0 352.7 866.9 353.9 867.8 355.1 868.7 356.3 869.6 357.5 870.5 358.7 871.4 359.9 872.3 361.1 873.2 362.3 874.1 363.5 875.0 364.7 875.9 365.9 876.8 367.1 877.7 368.4 878.6 369.6 879.5 370.8 880.4 372.0 881.2 373.2 882.1 374.4 883.0 375.7 883.9 376.9 884.7 378.1 885.6 379.3 886.5 380.6 887.3 381.8 888.2 383.0 889.0 384.2 889.9 385.5 890.8 386.7 891.6 388.0 892.5 389.2 893.3 390.4 894.2 391.7 895.0 392.9 895.8 394.1 896.7 395.4 897.5 396.6 898.3 397.9 899.2 399.1 900.0 400.4 900.8 401.6 901.7 402.9 902.5 404.1 903.3 405.4 904.1 406.6 904.9 407.9 905.8 409.1 906.6 410.4 907.4 411.7 908.2 412.9 909.0 414.2 909.8 415.4 910.6 416.7 911.4 418.0 912.2 419.2 913.0 420.5 913.8 421.8 914.6 423.0 915.4 424.3 916.2 425.6 917.0 426.9 917.8 428.1 918.6 429.4 919.4 430.7 920.2 432.0 920.9 433.2 921.7 434.5 922.5 435.8 923.3 437.1 924.1 438.3 924.8 439.6 925.6 440.9 926.4 442.2 927.2 443.5 927.9 444.8 928.7 446.0 929.5 447.3 930.2 448.6 931.0 449.9 931.8 451.2 932.5 452.5 933.3 453.8 934.0 455.1 934.8 456.4 935.5 457.7 936.3 458.9 937.1 460.2 937.8 461.5 938.6 462.8 939.3 464.1 940.1 465.4 940.8 466.7 941.5 468.0 942.3 469.3 943.0 470.6 943.8 471.9 944.5 473.2 945.3 474.5 946.0 475.8 946.7 477.1 947.5 478.4 948.2 479.7 948.9 481.0 949.7 482.4 950.4 483.7 951.1 485.0 951.9 486.3 952.6 487.6 953.3 488.9 954.1 490.2 954.8 491.5 955.5 492.8 956.2 494.1 957.0 495.4 957.7 496.7 958.4 498.1 959.1 499.4 959.9 500.7 960.6 502.0 961.3 503.3 962.0 504.6 962.7 505.9 963.5 507.2 964.2 508.6 964.9 509.9 965.6 511.2 966.3 512.5 967.0 513.8 967.8 515.1 968.5 516.5 969.2 517.8 969.9 519.1 970.6 520.4 971.3 521.7 972.0 523.0 972.7 524.4 973.4 525.7 974.2 527.0 974.9 528.3 975.6 529.6 976.3 531.0 977.0 532.3 977.7 533.6 978.4 534.9 979.1 536.2 979.8 537.6 980.5 538.9 981.2 540.2 981.9 541.5 982.6 542.9 983.3 544.2 984.0 545.5 984.7 546.8 985.4 548.2 986.1 549.5 986.8 550.8 987.5 552.1 988.2 553.5 988.9 554.8 989.5 556.1 990.2 557.4 990.9 558.8 991.6 560.1 992.3 561.4 993.0 562.8 993.7 564.1 994.4 565.4 995.1 566.7 995.8 568.1 996.4 569.4 997.1 570.7 997.8 572.1 998.5 573.4 999.2 574.7 999.9 576.1 1000.6 577.4 1001.2 578.7 1001.9 580.1 1002.6 581.4 1003.3 582.7 1004.0 584.1 1004.6 585.4 1005.3 586.7 1006.0 588.1 1006.7 589.4 1007.4 590.7 1008.0 592.1 1008.7 593.4 1009.4 594.7 1010.1 596.1 1010.7 597.4 1011.4 598.7 1012.1 600.1 1012.8 601.4 1013.4 602.8 1014.1 604.1 1014.8 605.4 1015.4 606.8 1016.1 608.1 1016.8 609.4 1017.5 610.8 1018.1 612.1 1018.8 613.5 1019.5 614.8 1020.1 616.1 1020.8 617.5 1021.5 618.8 1022.1 620.2 1022.8 621.5 1023.5 622.9 1024.1 624.2 1024.8 625.5 1025.5 626.9 1026.1 628.2 1026.8 629.6 1027.5 630.9 1028.1 632.2 1028.8 633.6 1029.4 634.9 1030.1 636.3 1030.8 637.6 1031.4 639.0 1032.1 640.3 1032.7 641.7 1033.4 643.0 1034.1 644.3 1034.7 645.7 1035.4 647.0 1036.0 648.4 1036.7 649.7 1037.4 651.1 1038.0 652.4 1038.7 653.8 1039.3 655.1 1040.0 656.5 1040.6 657.8 1041.3 659.2 1041.9 660.5 1042.6 661.9 1043.2 663.2 1043.9 664.6 1044.5 665.9 1045.2 667.2 1045.9 668.6 1046.5 669.9 1047.2 671.3 1047.8 672.6 1048.5 674.0 1049.1 675.3 1049.8 676.7 1050.4 678.0 1051.1 679.4 1051.7 680.7 1052.4 682.1 1053.0 683.5 1053.6 684.8 1054.3 686.2 1054.9 687.5 1055.6 688.9 1056.2 690.2 1056.9 691.6 1057.5 692.9 1058.2 694.3 1058.8 695.6 1059.5 697.0 1060.1 698.3 1060.8 699.7 1061.4 701.0 1062.0 702.4 1062.7 703.7 1063.3 705.1 1064.0 706.4 1064.6 707.8 1065.3 709.2 1065.9 710.5 1066.5 711.9 1067.2 713.2 1067.8 714.6 1068.5 715.9 1069.1 717.3 1069.7 718.6 1070.4 720.0 1071.0 721.4 1071.7 722.7 1072.3 724.1 1072.9 725.4 1073.6 726.8 1074.2 728.1 1074.9 729.5 1075.5 730.8 1076.1 732.2 1076.8 733.6 1077.4 734.9 1078.1 736.3 1078.7 737.6 1079.3 739.0 1080.0 740.3 1080.6 741.7 1081.2 743.1 1081.9 744.4 1082.5 745.8 1083.1 747.1 1083.8 748.5 1084.4 749.8 1085.1 751.2 1085.7 752.6 1086.3 753.9 1087.0 755.3 1087.6 756.6 1088.2 758.0 1088.9 759.4 1089.5 760.7 1090.1 762.1 1090.8 763.4 1091.4 764.8 1092.0 766.2 1092.7 767.5 1093.3 768.9 1093.9 770.2 1094.6 771.6 1095.2 773.0 1095.8 774.3 1096.5 775.7 1097.1 777.0 1097.7 778.4 1098.4 779.8 1099.0 781.1 1099.6 782.5 1100.3 783.8 1100.9 785.2 1101.5 786.6 1102.2 787.9 1102.8 789.3 1103.4 790.6 1104.1 792.0 1104.7 793.4 1105.3 794.7 1106.0 796.1 1106.6 797.4 1107.2 798.8 1107.9 800.2 1108.5 801.5 1109.1 802.9 1109.8 804.3 1110.4 805.6 1111.0 807.0 1111.7 808.3 1112.3 809.7 1112.9 811.1 1113.5 812.4 1114.2 813.8 1114.8 815.1 1115.4 816.5 1116.1 817.9 1116.7 819.2 1117.3 820.6 1118.0 822.0 1118.6 823.3 1119.2 824.7 1119.9 826.0 1120.5 827.4 1121.1 828.8 1121.8 830.1 1122.4 831.5 1123.0 832.9 1123.6 834.2 1124.3 835.6 1124.9 836.9 1125.5 838.3 1126.2 839.7 1126.8 841.0 1127.4 842.4 1128.1 843.7 1128.7 845.1 1129.3 846.5 1130.0 847.8 1130.6 849.2 1131.2 850.6 1131.9 851.9 1132.5 853.3 1133.1 854.6 1133.8 856.0 1134.4 857.4 1135.0 858.7 1135.7 860.1 1136.3 861.5 1136.9 862.8 1137.6 864.2 1138.2 865.5 1138.8 866.9 1139.4 868.3 1140.1 869.6 1140.7 871.0 1141.3 872.4 1142.0 873.7 1142.6 875.1 1143.3 876.4 1143.9 877.8 1144.5 879.2 1145.2 880.5 1145.8 881.9 1146.4 883.2 1147.1 884.6 1147.7 886.0 1148.3 887.3 1149.0 888.7 1149.6 890.1 1150.2 891.4 1150.9 892.8 1151.5 894.1 1152.1 895.5 1152.8 896.9 1153.4 898.2 1154.1 899.6 1154.7 900.9 1155.3 902.3 1156.0 903.7 1156.6 905.0 1157.2 906.4 1157.9 907.7 1158.5 909.1 1159.2 910.5 1159.8 911.8 1160.4 913.2 1161.1 914.5 1161.7 915.9 1162.4 917.3 1163.0 918.6 1163.6 920.0 1164.3 921.3 1164.9 922.7 1165.6 924.0 1166.2 925.4 1166.8 926.8 1167.5 928.1 1168.1 929.5 1168.8 930.8 1169.4 932.2 1170.1 933.5 1170.7 934.9 1171.4 936.3 1172.0 937.6 1172.6 939.0 1173.3 940.3 1173.9 941.7 1174.6 943.0 1175.2 944.4 1175.9 945.7 1176.5 947.1 1177.2 948.5 1177.8 949.8 1178.5 951.2 1179.1 952.5 1179.8 953.9 1180.4 955.2 1181.1 956.6 1181.7 957.9 1182.4 959.3 1183.0 960.6 1183.7 962.0 1184.3 963.3 1185.0 964.7 1185.7 966.0 1186.3 967.4 1187.0 968.7 1187.6 970.1 1188.3 971.4 1188.9 972.8 1189.6 974.1 1190.3 975.5 1190.9 976.8 1191.6 978.2 1192.2 979.5 1192.9 980.9 1193.6 982.2 1194.2 983.6 1194.9 984.9 1195.5 986.3 1196.2 987.6 1196.9 989.0 1197.5 990.3 1198.2 991.6 1198.9 993.0 1199.5 994.3 1200.2 995.7 1200.9 997.0 1201.5 998.4 1202.2 999.7 1202.9 1001.0 1203.5 1002.4 1204.2 1003.7 1204.9 1005.1 1205.5 1006.4 1206.2 1007.8 1206.9 1009.1 1207.6 1010.4 1208.2 1011.8 1208.9 1013.1 1209.6 1014.5 1210.3 1015.8 1210.9 1017.1 1211.6 1018.5 1212.3 1019.8 1213.0 1021.1 1213.7 1022.5 1214.3 1023.8 1215.0 1025.2 1215.7 1026.5 1216.4 1027.8 1217.1 1029.2 1217.7 1030.5 1218.4 1031.8 1219.1 1033.2 1219.8 1034.5 1220.5 1035.8 1221.2 1037.2 1221.9 1038.5 1222.5 1039.8 1223.2 1041.1 1223.9 1042.5 1224.6 1043.8 1225.3 1045.1 1226.0 1046.5 1226.7 1047.8 1227.4 1049.1 1228.1 1050.4 1228.8 1051.8 1229.5 1053.1 1230.2 1054.4 1230.9 1055.7 1231.6 1057.1 1232.3 1058.4 1233.0 1059.7 1233.7 1061.0 1234.4 1062.4 1235.1 1063.7 1235.8 1065.0 1236.5 1066.3 1237.2 1067.6 1237.9 1069.0 1238.6 1070.3 1239.3 1071.6 1240.0 1072.9 1240.7 1074.2 1241.5 1075.6 1242.2 1076.9 1242.9 1078.2 1243.6 1079.5 1244.3 1080.8 1245.0 1082.1 1245.7 1083.4 1246.5 1084.8 1247.2 1086.1 1247.9 1087.4 1248.6 1088.7 1249.3 1090.0 1250.1 1091.3 1250.8 1092.6 1251.5 1093.9 1252.2 1095.2 1253.0 1096.5 1253.7 1097.9 1254.4 1099.2 1255.2 1100.5 1255.9 1101.8 1256.6 1103.1 1257.3 1104.4 1258.1 1105.7 1258.8 1107.0 1259.6 1108.3 1260.3 1109.6 1261.0 1110.9 1261.8 1112.2 1262.5 1113.5 1263.2 1114.8 1264.0 1116.1 1264.7 1117.4 1265.5 1118.7 1266.2 1120.0 1267.0 1121.3 1267.7 1122.6 1268.5 1123.9 1269.2 1125.2 1270.0 1126.5 1270.7 1127.7 1271.5 1129.0 1272.2 1130.3 1273.0 1131.6 1273.7 1132.9 1274.5 1134.2 1275.2 1135.5 1276.0 1136.8 1276.8 1138.1 1277.5 1139.3 1278.3 1140.6 1279.1 1141.9 1279.8 1143.2 1280.6 1144.5 1281.4 1145.8 1282.1 1147.0 1282.9 1148.3 1283.7 1149.6 1284.4 1150.9 1285.2 1152.2 1286.0 1153.4 1286.8 1154.7 1287.5 1156.0 1288.3 1157.3 1289.1 1158.5 1289.9 1159.8 1290.7 1161.1 1291.5 1162.4 1292.2 1163.6 1293.0 1164.9 1293.8 1166.2 1294.6 1167.4 1295.4 1168.7 1296.2 1170.0 1297.0 1171.2 1297.8 1172.5 1298.6 1173.8 1299.4 1175.0 1300.2 1176.3 1301.0 1177.6 1301.8 1178.8 1302.6 1180.1 1303.4 1181.4 1304.2 1182.6 1305.0 1183.9 1305.8 1185.1 1306.6 1186.4 1307.4 1187.6 1308.2 1188.9 1309.0 1190.1 1309.8 1191.4 1310.6 1192.7 1311.5 1193.9 1312.3 1195.2 1313.1 1196.4 1313.9 1197.7 1314.7 1198.9 1315.6 1200.2 1316.4 1201.4 1317.2 1202.6 1318.0 1203.9 1318.9 1205.1 1319.7 1206.4 1320.5 1207.6 1321.4 1208.9 1322.2 1210.1 1323.0 1211.3 1323.9 1212.6 1324.7 1213.8 1325.6 1215.1 1326.4 1216.3 1327.2 1217.5 1328.1 1218.8 1328.9 1220.0 1329.8 1221.2 1330.6 1222.5 1331.5 1223.7 1332.3 1224.9 1333.2 1226.1 1334.1 1227.4 1334.9 1228.6 1335.8 1229.8 1336.6 1231.0 1337.5 1232.2 1338.4 1233.5 1339.3 1234.7 1340.1 1235.9 1341.0 1237.1 1341.9 1238.3 1342.8 1239.5 1343.7 1240.7 1344.5 1241.9 1345.4 1243.2 1346.3 1244.4 1347.2 1245.6 1348.1 1246.8 1349.0 1248.0 1349.9 1249.2 1350.8 1250.3 1351.7 1251.5 1352.7 1252.7 1353.6 1253.9 1354.5 1255.1 1355.4 1256.3 1356.3 1257.5 1357.3 1258.6 1358.2 1259.8 1359.1 1261.0 1360.1 1262.2 1361.0 1263.3 1362.0 1264.5 1362.9 1265.7 1363.9 1266.8 1364.8 1268.0 1365.8 1269.2 1366.8 1270.3 1367.7 1271.5 1368.7 1272.6 1369.7 1273.8 1370.7 1274.9 1371.7 1276.1 1372.7 1277.2 1373.6 1278.3 1374.6 1279.5 1375.7 1280.6 1376.7 1281.7 1377.7 1282.8 1378.7 1284.0 1379.7 1285.1 1380.7 1286.2 1381.8 1287.3 1382.8 1288.4 1383.8 1289.5 1384.9 1290.6 1385.9 1291.7 1387.0 1292.8 1388.1 1293.9 1389.1 1295.0 1390.2 1296.1 1391.3 1297.2 1392.4 1298.3 1393.4 1299.3 1394.5 1300.4 1395.6 1301.5 1396.7 1302.5 1397.8 1303.6 1398.9 1304.6 1400.1 1305.7 1401.2 1306.7 1402.3 1307.8 1403.4 1308.8 1404.6 1309.8 1405.7 1310.8 1406.9 1311.8 1408.0 1312.8 1409.2 1313.8 1410.3 1314.8 1411.5 1315.8 1412.7 1316.8 1413.8 1317.8 1415.0 1318.7 1416.2 1319.7 1417.4 1320.6 1418.6 1321.6 1419.8 1322.5 1421.0 1323.4 1422.2 1324.3 1423.4 1325.2 1424.6 1326.1 1425.9 1327.0 1427.1 1327.9 1428.3 1328.8 1429.6 1329.6 1430.8 1330.5 1432.1 1331.3 1433.3 1332.1 1434.6 1333.0 1435.9 1333.8 1437.1 1334.6 1438.4 1335.4 1439.7 1336.1 1441.0 1336.9 1442.3 1337.7 1443.6 1338.4 1444.9 1339.1 1446.2 1339.9 1447.5 1340.6 1448.8 1341.3 1450.2 1342.0 1451.5 1342.6 1452.8 1343.3 1454.2 1343.9 1455.5 1344.6 1456.9 1345.2 1458.2 1345.8 1459.6 1346.4 1461.0 1347.0 1462.4 1347.6 1463.7 1348.1 1465.1 1348.7 1466.5 1349.2 1467.9 1349.7 1469.3 1350.2 1470.7 1350.7 1472.1 1351.2 1473.5 1351.6 1475.0 1352.1 1476.4 1352.5 1477.8 1352.9 1479.2 1353.3 1480.7 1353.7 1482.1 1354.1 1483.6 1354.5 1485.0 1354.8 1486.5 1355.1 1487.9 1355.4 1489.4 1355.8 1490.8 1356.0 1492.3 1356.3 1493.7 1356.6 1495.2 1356.8 1496.7 1357.0 1498.1 1357.3 1499.6 1357.5 1501.1 1357.6 1502.6 1357.8 1504.0 1358.0 1505.5 1358.1 1507.0 1358.2 1508.5 1358.3 1509.9 1358.4 1511.4 1358.5 1512.9 1358.6 1514.4 1358.6 1515.9 1358.7 1517.3 1358.7 1518.8 1358.7 1520.3 1358.7 1521.8 1358.7 1523.2 1358.6 1524.7 1358.6 1526.2 1358.5 1527.7 1358.4 1529.1 1358.3 1530.6 1358.2 1532.1 1358.1 1533.5 1357.9 1535.0 1357.8 1536.5 1357.6 1537.9 1357.4 1539.4 1357.2 1540.8 1357.0 1542.3 1356.8 1543.7 1356.5 1545.2 1356.2 1546.6 1355.9 1548.0 1355.6 1549.5 1355.3 1550.9 1355.0 1552.3 1354.7 1553.8 1354.3 1555.2 1353.9 1556.6 1353.5 1558.0 1353.1 1559.4 1352.7 1560.8 1352.2 1562.2 1351.8 1563.6 1351.3 1564.9 1350.8 1566.3 1350.3 1567.7 1349.8 1569.1 1349.3 1570.4 1348.7 1571.8 1348.2 1573.1 1347.6 1574.5 1347.0 1575.8 1346.4 1577.1 1345.8 1578.5 1345.1 1579.8 1344.5 1581.1 1343.8 1582.4 1343.1 1583.7 1342.5 1585.0 1341.8 1586.3 1341.0 1587.6 1340.3 1588.9 1339.6 1590.2 1338.8 1591.5 1338.1 1592.8 1337.3 1594.0 1336.5 1595.3 1335.7 1596.6 1334.9 1597.8 1334.1 1599.1 1333.3 1600.3 1332.4 1601.6 1331.6 1602.8 1330.7 1604.0 1329.9 1605.2 1329.0 1606.5 1328.1 1607.7 1327.2 1608.9 1326.3 1610.1 1325.4 1611.3 1324.5 1612.5 1323.5 1613.7 1322.6 1614.9 1321.7 1616.1 1320.7 1617.3 1319.8 1618.4 1318.8 1619.6 1317.8 1620.8 1316.8 1621.9 1315.8 1623.1 1314.8 1624.2 1313.8 1625.4 1312.8 1626.5 1311.8 1627.7 1310.8 1628.8 1309.8 1629.9 1308.8 1631.1 1307.7 1632.2 1306.7 1633.3 1305.6 1634.4 1304.6 1635.5 1303.5 1636.6 1302.5 1637.7 1301.4 1638.8 1300.4 1639.9 1299.3 1641.0 1298.2 1642.1 1297.1 1643.2 1296.1 1644.3 1295.0 1645.3 1293.9 1646.4 1292.8 1647.5 1291.7 1648.5 1290.6 1649.6 1289.5 1650.7 1288.4 1651.7 1287.3 1652.8 1286.2 1653.8 1285.1 1654.8 1284.0 1655.9 1282.9 1656.9 1281.8 1657.9 1280.7 1659.0 1279.6 1660.0 1278.5 1661.0 1277.3 1662.0 1276.2 1663.0 1275.1 1664.0 1274.0 1665.0 1272.8 1666.0 1271.7 1667.0 1270.6 1668.0 1269.4 1669.0 1268.3 1670.0 1267.2 1671.0 1266.0 1671.9 1264.9 1672.9 1263.7 1673.9 1262.6 1674.8 1261.4 1675.8 1260.3 1676.8 1259.1 1677.7 1257.9 1678.7 1256.8 1679.6 1255.6 1680.6 1254.4 1681.5 1253.3 1682.5 1252.1 1683.4 1250.9 1684.3 1249.8 1685.3 1248.6 1686.2 1247.4 1687.1 1246.2 1688.0 1245.0 1689.0 1243.9 1689.9 1242.7 1690.8 1241.5 1691.7 1240.3 1692.6 1239.1 1693.5 1237.9 1694.4 1236.7 1695.3 1235.5 1696.2 1234.3 1697.1 1233.1 1698.0 1231.9 1698.9 1230.7 1699.8 1229.5 1700.7 1228.3 1701.5 1227.1 1702.4 1225.9 1703.3 1224.6 1704.2 1223.4 1705.0 1222.2 1705.9 1221.0 1706.8 1219.8 1707.6 1218.5 1708.5 1217.3 1709.3 1216.1 1710.2 1214.9 1711.1 1213.6 1711.9 1212.4 1712.8 1211.2 1713.6 1209.9 1714.4 1208.7 1715.3 1207.5 1716.1 1206.2 1717.0 1205.0 1717.8 1203.8 1718.6 1202.5 1719.5 1201.3 1720.3 1200.0 1721.1 1198.8 1721.9 1197.5 1722.7 1196.3 1723.6 1195.0 1724.4 1193.8 1725.2 1192.5 1726.0 1191.3 1726.8 1190.0 1727.6 1188.7 1728.4 1187.5 1729.2 1186.2 1730.0 1185.0 1730.8 1183.7 1731.6 1182.4 1732.4 1181.2 1733.2 1179.9 1734.0 1178.6 1734.8 1177.4 1735.6 1176.1 1736.4 1174.8 1737.2 1173.6 1738.0 1172.3 1738.8 1171.0 1739.5 1169.7 1740.3 1168.5 1741.1 1167.2 1741.9 1165.9 1742.7 1164.6 1743.4 1163.4 1744.2 1162.1 1745.0 1160.8 1745.7 1159.5 1746.5 1158.2 1747.3 1156.9 1748.0 1155.7 1748.8 1154.4 1749.6 1153.1 1750.3 1151.8 1751.1 1150.5 1751.9 1149.2 1752.6 1147.9 1753.4 1146.6 1754.1 1145.3 1754.9 1144.0 1755.6 1142.8 1756.4 1141.5 1757.1 1140.2 1757.9 1138.9 1758.6 1137.6 1759.4 1136.3 1760.1 1135.0 1760.9 1133.7 1761.6 1132.4 1762.4 1131.1 1763.1 1129.8 1763.9 1128.5 1764.6 1127.2 1765.3 1125.9 1766.1 1124.6 1766.8 1123.3 1767.5 1122.0 1768.3 1120.7 1769.0 1119.4 1769.8 1118.1 1770.5 1116.8 1771.2 1115.5 1772.0 1114.1 1772.7 1112.8 1773.4 1111.5 1774.1 1110.2 1774.9 1108.9 1775.6 1107.6 1776.3 1106.3 1777.1 1105.0 1777.8 1103.7 1778.5 1102.4 1779.2 1101.1 1780.0 1099.7 1780.7 1098.4 1781.4 1097.1 1782.1 1095.8 1782.8 1094.5 1783.6 1093.2 1784.3 1091.9 1785.0 1090.5 1785.7 1089.2 1786.4 1087.9 1787.1 1086.6 1787.9 1085.3 1788.6 1084.0 1789.3 1082.6 1790.0 1081.3 1790.7 1080.0 1791.4 1078.7 1792.1 1077.4 1792.8 1076.0 1793.5 1074.7 1794.2 1073.4 1795.0 1072.1 1795.7 1070.8 1796.4 1069.4 1797.1 1068.1 1797.8 1066.8 1798.5 1065.5 1799.2 1064.1 1799.9 1062.8 1800.6 1061.5 1801.3 1060.2 1802.0 1058.8 1802.7 1057.5 1803.4 1056.2 1804.1 1054.8 1804.8 1053.5 1805.5 1052.2 1806.1 1050.9 1806.8 1049.5 1807.5 1048.2 1808.2 1046.9 1808.9 1045.5 1809.6 1044.2 1810.3 1042.9 1811.0 1041.5 1811.7 1040.2 1812.4 1038.9 1813.1 1037.5 1813.7 1036.2 1814.4 1034.9 1815.1 1033.5 1815.8 1032.2 1816.5 1030.9 1817.2 1029.5 1817.9 1028.2 1818.5 1026.9 1819.2 1025.5 1819.9 1024.2 1820.6 1022.9 1821.3 1021.5 1821.9 1020.2 1822.6 1018.8 1823.3 1017.5 1824.0 1016.2 1824.6 1014.8 1825.3 1013.5 1826.0 1012.2 1826.7 1010.8 1827.4 1009.5 1828.0 1008.1 1828.7 1006.8 1829.4 1005.4 1830.0 1004.1 1830.7 1002.8 1831.4 1001.4 1832.1 1000.1 1832.7 998.7 1833.4 997.4 1834.1 996.1 1834.7 994.7 1835.4 993.4 1836.1 992.0 1836.7 990.7 1837.4 989.3 1838.1 988.0 1838.7 986.6 1839.4 985.3 1840.1 984.0 1840.7 982.6 1841.4 981.3 1842.1 979.9 1842.7 978.6 1843.4 977.2 1844.0 975.9 1844.7 974.5 1845.4 973.2 1846.0 971.8 1846.7 970.5 1847.3 969.1 1848.0 967.8 1848.7 966.4 1849.3 965.1 1850.0 963.7 1850.6 962.4 1851.3 961.0 1851.9 959.7 1852.6 958.3 1853.3 957.0 1853.9 955.6 1854.6 954.3 1855.2 952.9 1855.9 951.6 1856.5 950.2 1857.2 948.9 1857.8 947.5 1858.5 946.2 1859.1 944.8 1859.8 943.5 1860.4 942.1 1861.1 940.8 1861.7 939.4 1862.4 938.1 1863.0 936.7 1863.7 935.4 1864.3 934.0 1865.0 932.7 1865.6 931.3 1866.3 930.0 1866.9 928.6 1867.6 927.3 1868.2 925.9 1868.9 924.6 1869.5 923.2 1870.2 921.8 1870.8 920.5 1871.5 919.1 1872.1 917.8 1872.7 916.4 1873.4 915.1 1874.0 913.7 1874.7 912.4 1875.3 911.0 1876.0 909.7 1876.6 908.3 1877.2 906.9 1877.9 905.6 1878.5 904.2 1879.2 902.9 1879.8 901.5 1880.5 900.2 1881.1 898.8 1881.7 897.4 1882.4 896.1 1883.0 894.7 1883.7 893.4 1884.3 892.0 1884.9 890.7 1885.6 889.3 1886.2 887.9 1886.8 886.6 1887.5 885.2 1888.1 883.9 1888.8 882.5 1889.4 881.2 1890.0 879.8 1890.7 878.4 1891.3 877.1 1891.9 875.7 1892.6 874.4 1893.2 873.0 1893.9 871.7 1894.5 870.3 1895.1 868.9 1895.8 867.6 1896.4 866.2 1897.0 864.9 1897.7 863.5 1898.3 862.1 1898.9 860.8 1899.6 859.4 1900.2 858.1 1900.8 856.7 1901.5 855.4 1902.1 854.0 1902.7 852.6 1903.4 851.3 1904.0 849.9 1904.6 848.6 1905.3 847.2 1905.9 845.8 1906.5 844.5 1907.2 843.1 1907.8 841.8 1908.4 840.4 1909.1 839.0 1909.7 837.7 1910.3 836.3 1911.0 835.0 1911.6 833.6 1912.2 832.2 1912.9 830.9 1913.5 829.5 1914.1 828.2 1914.8 826.8 1915.4 825.4 1916.0 824.1 1916.7 822.7 1917.3 821.4 1917.9 820.0 1918.6 818.6 1919.2 817.3 1919.8 815.9 1920.5 814.6 1921.1 813.2 1921.7 811.8 1922.3 810.5 1923.0 809.1 1923.6 807.8 1924.2 806.4 1924.9 805.0 1925.5 803.7 1926.1 802.3 1926.8 801.0 1927.4 799.6 1928.0 798.2 1928.7 796.9 1929.3 795.5 1929.9 794.2 1930.6 792.8 1931.2 791.4 1931.8 790.1 1932.4 788.7 1933.1 787.4 1933.7 786.0 1934.3 784.6 1935.0 783.3 1935.6 781.9 1936.2 780.6 1936.9 779.2 1937.5 777.8 1938.1 776.5 1938.8 775.1 1939.4 773.8 1940.0 772.4 1940.7 771.0 1941.3 769.7 1941.9 768.3 1942.6 767.0 1943.2 765.6 1943.8 764.2 1944.5 762.9 1945.1 761.5 1945.7 760.2 1946.4 758.8 1947.0 757.5 1947.6 756.1 1948.3 754.7 1948.9 753.4 1949.5 752.0 1950.2 750.7 1950.8 749.3 1951.4 747.9 1952.1 746.6 1952.7 745.2 1953.3 743.9 1954.0 742.5 1954.6 741.2 1955.2 739.8 1955.9 738.4 1956.5 737.1 1957.2 735.7 1957.8 734.4 1958.4 733.0 1959.1 731.6 1959.7 730.3 1960.3 728.9 1961.0 727.6 1961.6 726.2 1962.2 724.9 1962.9 723.5 1963.5 722.2 1964.2 720.8 1964.8 719.4 1965.4 718.1 1966.1 716.7 1966.7 715.4 1967.4 714.0 1968.0 712.7 1968.6 711.3 1969.3 709.9 1969.9 708.6 1970.6 707.2 1971.2 705.9 1971.8 704.5 1972.5 703.2 1973.1 701.8 1973.8 700.5 1974.4 699.1 1975.0 697.8 1975.7 696.4 1976.3 695.0 1977.0 693.7 1977.6 692.3 1978.3 691.0 1978.9 689.6 1979.5 688.3 1980.2 686.9 1980.8 685.6 1981.5 684.2 1982.1 682.9 1982.8 681.5 1983.4 680.2 1984.1 678.8 1984.7 677.5 1985.4 676.1 1986.0 674.7 1986.7 673.4 1987.3 672.0 1988.0 670.7 1988.6 669.3 1989.3 668.0 1989.9 666.6 1990.6 665.3 1991.2 663.9 1991.9 662.6 1992.5 661.2 1993.2 659.9 1993.8 658.5 1994.5 657.2 1995.1 655.8 1995.8 654.5 1996.4 653.1 1997.1 651.8 1997.7 650.4 1998.4 649.1 1999.0 647.7 1999.7 646.4 2000.4 645.1 2001.0 643.7 2001.7 642.4 2002.3 641.0 2003.0 639.7 2003.7 638.3 2004.3 637.0 2005.0 635.6 2005.6 634.3 2006.3 632.9 2007.0 631.6 2007.6 630.2 2008.3 628.9 2008.9 627.6 2009.6 626.2 2010.3 624.9 2010.9 623.5 2011.6 622.2 2012.3 620.8 2012.9 619.5 2013.6 618.1 2014.3 616.8 2014.9 615.5 2015.6 614.1 2016.3 612.8 2016.9 611.4 2017.6 610.1 2018.3 608.7 2018.9 607.4 2019.6 606.1 2020.3 604.7 2020.9 603.4 2021.6 602.0 2022.3 600.7 2023.0 599.4 2023.6 598.0 2024.3 596.7 2025.0 595.3 2025.7 594.0 2026.3 592.7 2027.0 591.3 2027.7 590.0 2028.4 588.7 2029.0 587.3 2029.7 586.0 2030.4 584.6 2031.1 583.3 2031.8 582.0 2032.4 580.6 2033.1 579.3 2033.8 578.0 2034.5 576.6 2035.2 575.3 2035.9 574.0 2036.6 572.6 2037.2 571.3 2037.9 570.0 2038.6 568.6 2039.3 567.3 2040.0 566.0 2040.7 564.6 2041.4 563.3 2042.1 562.0 2042.7 560.6 2043.4 559.3 2044.1 558.0 2044.8 556.7 2045.5 555.3 2046.2 554.0 2046.9 552.7 2047.6 551.3 2048.3 550.0 2049.0 548.7 2049.7 547.4 2050.4 546.0 2051.1 544.7 2051.8 543.4 2052.5 542.1 2053.2 540.7 2053.9 539.4 2054.6 538.1 2055.3 536.8 2056.0 535.4 2056.7 534.1 2057.4 532.8 2058.2 531.5 2058.9 530.1 2059.6 528.8 2060.3 527.5 2061.0 526.2 2061.7 524.9 2062.4 523.5 2063.1 522.2 2063.9 520.9 2064.6 519.6 2065.3 518.3 2066.0 517.0 2066.7 515.6 2067.4 514.3 2068.2 513.0 2068.9 511.7 2069.6 510.4 2070.3 509.1 2071.1 507.8 2071.8 506.4 2072.5 505.1 2073.2 503.8 2074.0 502.5 2074.7 501.2 2075.4 499.9 2076.2 498.6 2076.9 497.3 2077.6 496.0 2078.4 494.6 2079.1 493.3 2079.8 492.0 2080.6 490.7 2081.3 489.4 2082.0 488.1 2082.8 486.8 2083.5 485.5 2084.3 484.2 2085.0 482.9 2085.7 481.6 2086.5 480.3 2087.2 479.0 2088.0 477.7 2088.7 476.4 2089.5 475.1 2090.2 473.8 2091.0 472.5 2091.7 471.2 2092.5 469.9 2093.2 468.6 2094.0 467.3 2094.8 466.0 2095.5 464.7 2096.3 463.4 2097.0 462.1 2097.8 460.9 2098.6 459.6 2099.3 458.3 2100.1 457.0 2100.9 455.7 2101.6 454.4 2102.4 453.1 2103.2 451.8 2103.9 450.5 2104.7 449.3 2105.5 448.0 2106.3 446.7 2107.0 445.4 2107.8 444.1 2108.6 442.8 2109.4 441.5 2110.1 440.3 2110.9 439.0 2111.7 437.7 2112.5 436.4 2113.3 435.1 2114.1 433.9 2114.9 432.6 2115.6 431.3 2116.4 430.0 2117.2 428.8 2118.0 427.5 2118.8 426.2 2119.6 424.9 2120.4 423.7 2121.2 422.4 2122.0 421.1 2122.8 419.9 2123.6 418.6 2124.4 417.3 2125.2 416.1 2126.0 414.8 2126.8 413.5 2127.6 412.3 2128.4 411.0 2129.3 409.7 2130.1 408.5 2130.9 407.2 2131.7 406.0 2132.5 404.7 2133.3 403.4 2134.2 402.2 2135.0 400.9 2135.8 399.7 2136.6 398.4 2137.5 397.2 2138.3 395.9 2139.1 394.7 2140.0 393.4 2140.8 392.2 2141.6 390.9 2142.5 389.7 2143.3 388.4 2144.2 387.2 2145.0 386.0 2145.9 384.7 2146.7 383.5 2147.6 382.3 2148.4 381.0 2149.3 379.8 2150.1 378.6 2151.0 377.3 2151.9 376.1 2152.7 374.9 2153.6 373.7 2154.5 372.5 2155.3 371.2 2156.2 370.0 2157.1 368.8 2158.0 367.6 2158.9 366.4 2159.7 365.2 2160.6 364.0 2161.5 362.8 2162.4 361.6 2163.3 360.4 2164.2 359.2 2165.1 358.0 2166.0 356.8 2166.9 355.6 2167.8 354.4 2168.7 353.2 2169.6 352.0 2170.6 350.8 2171.5 349.7 2172.4 348.5 2173.3 347.3 2174.3 346.1 2175.2 345.0 2176.1 343.8 2177.1 342.6 2178.0 341.5 2179.0 340.3 2179.9 339.1 2180.8 338.0 2181.8 336.8 2182.8 335.7 2183.7 334.5 2184.7 333.4 2185.6 332.3 2186.6 331.1 2187.6 330.0 2188.6 328.8 2189.5 327.7 2190.5 326.6 2191.5 325.5 2192.5 324.3 2193.5 323.2 2194.5 322.1 2195.5 321.0 2196.5 319.9 2197.5 318.8 2198.5 317.7 2199.5 316.6 2200.5 315.5 2201.6 314.4 2202.6 313.3 2203.6 312.2 2204.7 311.1 2205.7 310.0 2206.7 309.0 2207.8 307.9 2208.8 306.8 2209.9 305.8 2210.9 304.7 2212.0 303.6 2213.1 302.6 2214.1 301.5 2215.2 300.5 2216.3 299.4 2217.3 298.4 2218.4 297.4 2219.5 296.3 2220.6 295.3 2221.7 294.3 2222.8 293.2 2223.9 292.2 2225.0 291.2 2226.1 290.2 2227.3 289.2 2228.4 288.2 2229.5 287.2 2230.6 286.2 2231.8 285.2 2232.9 284.2 2234.1 283.2 2235.2 282.2 2236.4 281.3 2237.5 280.3 2238.7 279.3 2239.9 278.4 2241.0 277.4" stroke="#000000" stroke-width="10.5" fill="none" stroke-dasharray="9.4 10.0 10.0 10.2 10.0 10.1 10.0 10.1 10.0 9.9 10.0 9.9 10.0 9.9 10.0 10.1 10.0 9.9 10.0 10.0 10.0 10.0 10.0 10.2 10.0 10.2 10.0 10.2 10.0 10.0 10.0 10.1 10.0 10.1 10.0 10.1 10.0 10.0 10.0 9.9 10.0 10.1 10.0 10.0 10.0 10.0 10.0 10.0 10.0 10.0 10.0 9.9 10.0 10.0 10.0 9.9 10.0 10.1 10.0 10.0 10.0 10.0 10.0 9.9 10.0 10.1 10.0 9.9 10.0 9.9 10.0 10.0 10.0 9.9 10.0 10.1 10.0 9.9 10.0 9.8 10.0 10.0 10.0 10.1 10.0 9.9 10.0 10.0 10.0 9.9 10.0 10.0 10.0 10.2 10.0 10.0 10.0 9.9 10.0 9.9 10.0 9.9 10.0 10.1 10.0 10.1 10.0 10.0 10.0 10.0 10.0 10.1 10.0 10.0 10.0 10.0 10.0 9.9 10.0 9.9 10.0 9.7 10.0 9.8 10.0 9.9 10.0 9.9 10.0 10.0 10.0 9.9 10.0 10.0 10.0 10.2 10.0 10.0 10.0 10.0 10.0 10.1 10.0 10.0 10.0 10.0 10.0 9.9 10.0 9.8 10.0 10.0 10.0 10.0 10.0 9.9 10.0 10.0 10.0 10.1 10.0 10.0 10.0 10.1 10.0 10.1 10.0 10.0 10.0 9.9 10.0 9.9 10.0 9.9 10.0 10.0 10.0 10.0 10.0 9.9 10.0 9.9 10.0 10.1 10.0 10.1 10.0 10.0 10.0 10.0 10.0 9.9 10.0 10.1 10.0 10.0 10.0 9.8 10.0 10.0 10.0 10.1 10.0 9.9 10.0 9.9 10.0 9.8 10.0 9.9 10.0 10.0 10.0 9.9 10.0 9.8 10.0 10.0 10.0 10.0 10.0 10.0 10.0 9.9 10.0 9.9 10.0 10.0 10.0 10.0 10.0 10.0 10.0 10.1 10.0 10.1 10.0 10.0 10.0 10.0 10.0 10.0 10.0 10.0 10.0 10.0 10.0 10.0 10.0 9.9 10.0 10.1 10.0 10.1 10.0 10.0 10.0 9.9 10.0 10.0 10.0 9.9 10.0 10.0 10.0 9.9 10.0 9.9 10.0 10.1 10.0 10.1 10.0 9.9 10.0 10.0 10.0 10.0 10.0 10.0 10.0 10.1 10.0 9.9 10.0 9.9 10.0 10.0 10.0 9.9 10.0 10.0 10.0 10.1 10.0 9.9 10.0 10.1 10.0 10.0 10.0 9.9 10.0 10.0 10.0 9.9 10.0 9.9 10.0 10.0 10.0 9.9 10.0 10.0 10.0 10.0 10.0 10.0 10.0 10.0 10.0 9.9 10.0 10.1 10.0 9.9 10.0 10.0 10.0 10.0 10.0 10.0 10.0 10.0 10.0 10.1 10.0 9.9 10.0 10.0 10.0 9.9 10.0 9.9 10.0 9.9 10.0 9.9 10.0 1003.0"/>
<path d="M288.0 1472.0v-20.5 M288.0 129.0v20.5 M577.9 1472.0v-20.5 M577.9 129.0v20.5 M867.9 1472.0v-20.5 M867.9 129.0v20.5 M1157.8 1472.0v-20.5 M1157.8 129.0v20.5 M1447.7 1472.0v-20.5 M1447.7 129.0v20.5 M1737.6 1472.0v-20.5 M1737.6 129.0v20.5 M2027.6 1472.0v-20.5 M2027.6 129.0v20.5 M2317.5 1472.0v-20.5 M2317.5 129.0v20.5 M288.0 1472.0h20.5 M2317.5 1472.0h-20.5 M288.0 1248.2h20.5 M2317.5 1248.2h-20.5 M288.0 1024.3h20.5 M2317.5 1024.3h-20.5 M288.0 800.5h20.5 M2317.5 800.5h-20.5 M288.0 576.7h20.5 M2317.5 576.7h-20.5 M288.0 352.8h20.5 M2317.5 352.8h-20.5 M288.0 129.0h20.5 M2317.5 129.0h-20.5" stroke="#262626" stroke-width="3" fill="none"/>
<rect x="288.0" y="129.0" width="2029.5" height="1343.0" stroke="#262626" stroke-width="3.2" fill="none"/>
<text x="261.5" y="1502.0" font-size="85" fill="#262626" text-anchor="end">-300</text>
<text x="261.5" y="1278.2" font-size="85" fill="#262626" text-anchor="end">-200</text>
<text x="261.5" y="1054.3" font-size="85" fill="#262626" text-anchor="end">-100</text>
<text x="261.5" y="830.5" font-size="85" fill="#262626" text-anchor="end">0</text>
<text x="261.5" y="606.7" font-size="85" fill="#262626" text-anchor="end">100</text>
<text x="261.5" y="382.8" font-size="85" fill="#262626" text-anchor="end">200</text>
<text x="261.5" y="159.0" font-size="85" fill="#262626" text-anchor="end">300</text>
<text x="288.0" y="1575.5" font-size="85" fill="#262626" text-anchor="middle">0</text>
<text x="577.9" y="1575.5" font-size="85" fill="#262626" text-anchor="middle">2000</text>
<text x="867.9" y="1575.5" font-size="85" fill="#262626" text-anchor="middle">4000</text>
<text x="1157.8" y="1575.5" font-size="85" fill="#262626" text-anchor="middle">6000</text>
<text x="1447.7" y="1575.5" font-size="85" fill="#262626" text-anchor="middle">8000</text>
<text x="1737.6" y="1575.5" font-size="85" fill="#262626" text-anchor="middle">10000</text>
<text x="2027.6" y="1575.5" font-size="85" fill="#262626" text-anchor="middle">12000</text>
<text x="2317.5" y="1575.5" font-size="85" fill="#262626" text-anchor="middle">14000</text>
<text x="1217" y="1682" font-size="92" fill="#262626"><tspan font-style="italic">x</tspan>(m)</text>
<text transform="translate(74.5 800.5) rotate(-90)" font-size="92" fill="#262626" text-anchor="middle"><tspan font-style="italic">y</tspan>(m)</text>
<rect x="476.6" y="699.6" width="485.1" height="311.7" fill="#fff"/>
<g stroke="#262626" stroke-opacity="0.15" stroke-width="2.3" fill="none"><path d="M573.6 699.6V1011.3"/><path d="M767.7 699.6V1011.3"/><path d="M476.6 876.0H961.7"/><path d="M476.6 729.7H961.7"/></g>
<path d="M477.8 983.9 L479.4 982.8 481.1 981.6 482.7 980.5 484.4 979.4 486.0 978.2 487.7 977.1 489.3 976.0 491.0 974.9 492.6 973.7 494.3 972.6 495.9 971.5 497.6 970.4 499.2 969.2 500.9 968.1 502.5 967.0 504.2 965.9 505.8 964.7 507.5 963.6 509.1 962.5 510.8 961.4 512.5 960.3 514.1 959.1 515.8 958.0 517.4 956.9 519.1 955.8 520.7 954.7 522.4 953.5 524.1 952.4 525.7 951.3 527.4 950.2 529.0 949.1 530.7 948.0 532.4 946.8 534.0 945.7 535.7 944.6 537.3 943.5 539.0 942.4 540.7 941.3 542.3 940.2 544.0 939.1 545.7 938.0 547.3 936.8 549.0 935.7 550.7 934.6 552.3 933.5 554.0 932.4 555.7 931.3 557.3 930.2 559.0 929.1 560.7 928.0 562.3 926.9 564.0 925.8 565.7 924.7 567.3 923.6 569.0 922.5 570.7 921.4 572.3 920.3 574.0 919.2 575.7 918.1 577.4 917.0 579.0 915.9 580.7 914.8 582.4 913.7 584.1 912.6 585.7 911.5 587.4 910.4 589.1 909.3 590.8 908.2 592.4 907.2 594.1 906.1 595.8 905.0 597.5 903.9 599.1 902.8 600.8 901.7 602.5 900.6 604.2 899.5 605.9 898.5 607.5 897.4 609.2 896.3 610.9 895.2 612.6 894.1 614.3 893.0 616.0 892.0 617.6 890.9 619.3 889.8 621.0 888.7 622.7 887.7 624.4 886.6 626.1 885.5 627.8 884.4 629.4 883.4 631.1 882.3 632.8 881.2 634.5 880.1 636.2 879.1 637.9 878.0 639.6 876.9 641.3 875.9 643.0 874.8 644.7 873.7 646.4 872.7 648.0 871.6 649.7 870.5 651.4 869.5 653.1 868.4 654.8 867.3 656.5 866.3 658.2 865.2 659.9 864.2 661.6 863.1 663.3 862.1 665.0 861.0 666.7 859.9 668.4 858.9 670.1 857.8 671.8 856.8 673.5 855.7 675.2 854.7 676.9 853.6 678.6 852.6 680.3 851.5 682.0 850.5 683.7 849.5 685.4 848.4 687.2 847.4 688.9 846.3 690.6 845.3 692.3 844.2 694.0 843.2 695.7 842.2 697.4 841.1 699.1 840.1 700.8 839.1 702.5 838.0 704.3 837.0 706.0 836.0 707.7 834.9 709.4 833.9 711.1 832.9 712.8 831.8 714.5 830.8 716.3 829.8 718.0 828.8 719.7 827.7 721.4 826.7 723.1 825.7 724.8 824.7 726.6 823.7 728.3 822.6 730.0 821.6 731.7 820.6 733.5 819.6 735.2 818.6 736.9 817.6 738.6 816.5 740.4 815.5 742.1 814.5 743.8 813.5 745.5 812.5 747.3 811.5 749.0 810.5 750.7 809.5 752.5 808.5 754.2 807.5 755.9 806.5 757.6 805.5 759.4 804.5 761.1 803.5 762.8 802.5 764.6 801.5 766.3 800.5 768.1 799.5 769.8 798.5 771.5 797.5 773.3 796.6 775.0 795.6 776.7 794.6 778.5 793.6 780.2 792.6 782.0 791.6 783.7 790.6 785.4 789.7 787.2 788.7 788.9 787.7 790.7 786.7 792.4 785.8 794.2 784.8 795.9 783.8 797.7 782.8 799.4 781.9 801.2 780.9 802.9 779.9 804.7 779.0 806.4 778.0 808.2 777.0 809.9 776.1 811.7 775.1 813.4 774.2 815.2 773.2 816.9 772.2 818.7 771.3 820.5 770.3 822.2 769.4 824.0 768.4 825.7 767.5 827.5 766.5 829.2 765.6 831.0 764.6 832.8 763.7 834.5 762.7 836.3 761.8 838.1 760.9 839.8 759.9 841.6 759.0 843.4 758.0 845.1 757.1 846.9 756.2 848.7 755.2 850.4 754.3 852.2 753.4 854.0 752.4 855.7 751.5 857.5 750.6 859.3 749.7 861.1 748.7 862.8 747.8 864.6 746.9 866.4 746.0 868.2 745.1 869.9 744.2 871.7 743.2 873.5 742.3 875.3 741.4 877.1 740.5 878.8 739.6 880.6 738.7 882.4 737.8 884.2 736.9 886.0 736.0 887.8 735.1 889.5 734.2 891.3 733.3 893.1 732.4 894.9 731.5 896.7 730.6 898.5 729.7 900.3 728.8 902.1 727.9 903.9 727.0 905.7 726.1 907.5 725.3 909.3 724.4 911.0 723.5 912.8 722.6 914.6 721.7 916.4 720.9 918.2 720.0 920.0 719.1 921.8 718.2 923.6 717.4 925.4 716.5 927.2 715.6 929.1 714.8 930.9 713.9 932.7 713.0 934.5 712.2 936.3 711.3 938.1 710.5 939.9 709.6 941.7 708.8 943.5 707.9 945.3 707.1 947.1 706.2 949.0 705.4 950.8 704.5 952.6 703.7 954.4 702.8 956.2 702.0 958.0 701.1 959.9 700.3 961.7 699.5" stroke="#ff0000" stroke-width="10.5" fill="none" stroke-dasharray="40 40"/>
<path d="M476.6 989.8 L961.7 728.0" stroke="#0000ff" stroke-width="10.5" fill="none"/>
<path d="M476.9 1011.5 L478.8 1010.8 480.7 1010.1 482.5 1009.5 484.4 1008.8 486.3 1008.1 488.2 1007.5 490.1 1006.8 492.0 1006.1 493.8 1005.5 495.7 1004.8 497.6 1004.1 499.5 1003.4 501.4 1002.8 503.3 1002.1 505.1 1001.4 507.0 1000.8 508.9 1000.1 510.8 999.4 512.7 998.8 514.5 998.1 516.4 997.4 518.3 996.7 520.2 996.1 522.1 995.4 523.9 994.7 525.8 994.0 527.7 993.4 529.6 992.7 531.5 992.0 533.3 991.3 535.2 990.7 537.1 990.0 539.0 989.3 540.9 988.6 542.7 988.0 544.6 987.3 546.5 986.6 548.4 985.9 550.2 985.3 552.1 984.6 554.0 983.9 555.9 983.2 557.8 982.6 559.6 981.9 561.5 981.2 563.4 980.5 565.3 979.9 567.1 979.2 569.0 978.5 570.9 977.8 572.8 977.1 574.6 976.5 576.5 975.8 578.4 975.1 580.3 974.4 582.2 973.8 584.0 973.1 585.9 972.4 587.8 971.7 589.7 971.0 591.5 970.4 593.4 969.7 595.3 969.0 597.2 968.3 599.0 967.6 600.9 967.0 602.8 966.3 604.7 965.6 606.5 964.9 608.4 964.2 610.3 963.6 612.2 962.9 614.0 962.2 615.9 961.5 617.8 960.9 619.7 960.2 621.5 959.5 623.4 958.8 625.3 958.1 627.2 957.5 629.0 956.8 630.9 956.1 632.8 955.4 634.7 954.7 636.5 954.1 638.4 953.4 640.3 952.7 642.2 952.0 644.0 951.3 645.9 950.7 647.8 950.0 649.7 949.3 651.5 948.6 653.4 948.0 655.3 947.3 657.2 946.6 659.0 945.9 660.9 945.2 662.8 944.6 664.7 943.9 666.5 943.2 668.4 942.5 670.3 941.9 672.1 941.2 674.0 940.5 675.9 939.8 677.8 939.1 679.6 938.5 681.5 937.8 683.4 937.1 685.3 936.4 687.1 935.8 689.0 935.1 690.9 934.4 692.8 933.7 694.6 933.1 696.5 932.4 698.4 931.7 700.3 931.0 702.1 930.4 704.0 929.7 705.9 929.0 707.8 928.3 709.6 927.7 711.5 927.0 713.4 926.3 715.3 925.6 717.1 925.0 719.0 924.3 720.9 923.6 722.8 923.0 724.7 922.3 726.5 921.6 728.4 920.9 730.3 920.3 732.2 919.6 734.0 918.9 735.9 918.3 737.8 917.6 739.7 916.9 741.5 916.3 743.4 915.6 745.3 914.9 747.2 914.2 749.0 913.6 750.9 912.9 752.8 912.2 754.7 911.6 756.6 910.9 758.4 910.2 760.3 909.6 762.2 908.9 764.1 908.2 765.9 907.6 767.8 906.9 769.7 906.2 771.6 905.6 773.5 904.9 775.3 904.2 777.2 903.6 779.1 902.9 781.0 902.3 782.8 901.6 784.7 900.9 786.6 900.3 788.5 899.6 790.4 898.9 792.2 898.3 794.1 897.6 796.0 897.0 797.9 896.3 799.8 895.6 801.6 895.0 803.5 894.3 805.4 893.6 807.3 893.0 809.2 892.3 811.0 891.7 812.9 891.0 814.8 890.3 816.7 889.7 818.6 889.0 820.4 888.4 822.3 887.7 824.2 887.1 826.1 886.4 828.0 885.7 829.8 885.1 831.7 884.4 833.6 883.8 835.5 883.1 837.4 882.4 839.2 881.8 841.1 881.1 843.0 880.5 844.9 879.8 846.8 879.2 848.6 878.5 850.5 877.8 852.4 877.2 854.3 876.5 856.2 875.9 858.1 875.2 859.9 874.6 861.8 873.9 863.7 873.2 865.6 872.6 867.5 871.9 869.3 871.3 871.2 870.6 873.1 870.0 875.0 869.3 876.9 868.7 878.8 868.0 880.6 867.4 882.5 866.7 884.4 866.0 886.3 865.4 888.2 864.7 890.0 864.1 891.9 863.4 893.8 862.8 895.7 862.1 897.6 861.5 899.5 860.8 901.3 860.2 903.2 859.5 905.1 858.8 907.0 858.2 908.9 857.5 910.8 856.9 912.6 856.2 914.5 855.6 916.4 854.9 918.3 854.3 920.2 853.6 922.1 853.0 923.9 852.3 925.8 851.7 927.7 851.0 929.6 850.4 931.5 849.7 933.4 849.1 935.2 848.4 937.1 847.7 939.0 847.1 940.9 846.4 942.8 845.8 944.7 845.1 946.6 844.5 948.4 843.8 950.3 843.2 952.2 842.5 954.1 841.9 956.0 841.2 957.9 840.6 959.7 839.9 961.6 839.3" stroke="#00ff00" stroke-width="10.5" fill="none" stroke-dasharray="40 40"/>
<path d="M477.8 983.9 L479.4 982.8 481.1 981.6 482.7 980.5 484.4 979.4 486.0 978.2 487.7 977.1 489.3 976.0 491.0 974.9 492.6 973.7 494.3 972.6 495.9 971.5 497.6 970.4 499.2 969.2 500.9 968.1 502.5 967.0 504.2 965.9 505.8 964.7 507.5 963.6 509.1 962.5 510.8 961.4 512.5 960.3 514.1 959.1 515.8 958.0 517.4 956.9 519.1 955.8 520.7 954.7 522.4 953.5 524.1 952.4 525.7 951.3 527.4 950.2 529.0 949.1 530.7 948.0 532.4 946.8 534.0 945.7 535.7 944.6 537.3 943.5 539.0 942.4 540.7 941.3 542.3 940.2 544.0 939.1 545.7 938.0 547.3 936.8 549.0 935.7 550.7 934.6 552.3 933.5 554.0 932.4 555.7 931.3 557.3 930.2 559.0 929.1 560.7 928.0 562.3 926.9 564.0 925.8 565.7 924.7 567.3 923.6 569.0 922.5 570.7 921.4 572.3 920.3 574.0 919.2 575.7 918.1 577.4 917.0 579.0 915.9 580.7 914.8 582.4 913.7 584.1 912.6 585.7 911.5 587.4 910.4 589.1 909.3 590.8 908.2 592.4 907.2 594.1 906.1 595.8 905.0 597.5 903.9 599.1 902.8 600.8 901.7 602.5 900.6 604.2 899.5 605.9 898.5 607.5 897.4 609.2 896.3 610.9 895.2 612.6 894.1 614.3 893.0 616.0 892.0 617.6 890.9 619.3 889.8 621.0 888.7 622.7 887.7 624.4 886.6 626.1 885.5 627.8 884.4 629.4 883.4 631.1 882.3 632.8 881.2 634.5 880.1 636.2 879.1 637.9 878.0 639.6 876.9 641.3 875.9 643.0 874.8 644.7 873.7 646.4 872.7 648.0 871.6 649.7 870.5 651.4 869.5 653.1 868.4 654.8 867.3 656.5 866.3 658.2 865.2 659.9 864.2 661.6 863.1 663.3 862.1 665.0 861.0 666.7 859.9 668.4 858.9 670.1 857.8 671.8 856.8 673.5 855.7 675.2 854.7 676.9 853.6 678.6 852.6 680.3 851.5 682.0 850.5 683.7 849.5 685.4 848.4 687.2 847.4 688.9 846.3 690.6 845.3 692.3 844.2 694.0 843.2 695.7 842.2 697.4 841.1 699.1 840.1 700.8 839.1 702.5 838.0 704.3 837.0 706.0 836.0 707.7 834.9 709.4 833.9 711.1 832.9 712.8 831.8 714.5 830.8 716.3 829.8 718.0 828.8 719.7 827.7 721.4 826.7 723.1 825.7 724.8 824.7 726.6 823.7 728.3 822.6 730.0 821.6 731.7 820.6 733.5 819.6 735.2 818.6 736.9 817.6 738.6 816.5 740.4 815.5 742.1 814.5 743.8 813.5 745.5 812.5 747.3 811.5 749.0 810.5 750.7 809.5 752.5 808.5 754.2 807.5 755.9 806.5 757.6 805.5 759.4 804.5 761.1 803.5 762.8 802.5 764.6 801.5 766.3 800.5 768.1 799.5 769.8 798.5 771.5 797.5 773.3 796.6 775.0 795.6 776.7 794.6 778.5 793.6 780.2 792.6 782.0 791.6 783.7 790.6 785.4 789.7 787.2 788.7 788.9 787.7 790.7 786.7 792.4 785.8 794.2 784.8 795.9 783.8 797.7 782.8 799.4 781.9 801.2 780.9 802.9 779.9 804.7 779.0 806.4 778.0 808.2 777.0 809.9 776.1 811.7 775.1 813.4 774.2 815.2 773.2 816.9 772.2 818.7 771.3 820.5 770.3 822.2 769.4 824.0 768.4 825.7 767.5 827.5 766.5 829.2 765.6 831.0 764.6 832.8 763.7 834.5 762.7 836.3 761.8 838.1 760.9 839.8 759.9 841.6 759.0 843.4 758.0 845.1 757.1 846.9 756.2 848.7 755.2 850.4 754.3 852.2 753.4 854.0 752.4 855.7 751.5 857.5 750.6 859.3 749.7 861.1 748.7 862.8 747.8 864.6 746.9 866.4 746.0 868.2 745.1 869.9 744.2 871.7 743.2 873.5 742.3 875.3 741.4 877.1 740.5 878.8 739.6 880.6 738.7 882.4 737.8 884.2 736.9 886.0 736.0 887.8 735.1 889.5 734.2 891.3 733.3 893.1 732.4 894.9 731.5 896.7 730.6 898.5 729.7 900.3 728.8 902.1 727.9 903.9 727.0 905.7 726.1 907.5 725.3 909.3 724.4 911.0 723.5 912.8 722.6 914.6 721.7 916.4 720.9 918.2 720.0 920.0 719.1 921.8 718.2 923.6 717.4 925.4 716.5 927.2 715.6 929.1 714.8 930.9 713.9 932.7 713.0 934.5 712.2 936.3 711.3 938.1 710.5 939.9 709.6 941.7 708.8 943.5 707.9 945.3 707.1 947.1 706.2 949.0 705.4 950.8 704.5 952.6 703.7 954.4 702.8 956.2 702.0 958.0 701.1 959.9 700.3 961.7 699.5" stroke="#000000" stroke-width="10.5" fill="none" stroke-dasharray="10 10"/>
<path d="M573.6 1011.3v-6M573.6 699.6v6 M767.7 1011.3v-6M767.7 699.6v6 M961.7 1011.3v-6M961.7 699.6v6 M476.6 876.0h6M961.7 876.0h-6 M476.6 729.7h6M961.7 729.7h-6" stroke="#262626" stroke-width="2.3" fill="none"/>
<rect x="476.6" y="699.6" width="485.1" height="311.7" stroke="#262626" stroke-width="2.3" fill="none"/>
<text x="454.5" y="899.0" font-size="64" fill="#262626" text-anchor="end">200</text>
<text x="454.5" y="752.7" font-size="64" fill="#262626" text-anchor="end">220</text>
<text x="573.6" y="1093" font-size="64" fill="#262626" text-anchor="middle">1600</text>
<text x="767.7" y="1093" font-size="64" fill="#262626" text-anchor="middle">1800</text>
<text x="961.7" y="1093" font-size="64" fill="#262626" text-anchor="middle">2000</text>
<rect x="908.4" y="13.8" width="1246.0" height="341.9" fill="#fff" stroke="#262626" stroke-width="2.6"/>
<rect x="946.3" y="56.3" width="39.6" height="10.4" fill="#ff0000"/>
<rect x="995.1" y="56.3" width="24.8" height="10.4" fill="#ff0000"/>
<rect x="1059.2" y="56.3" width="39.9" height="10.4" fill="#ff0000"/>
<text x="1113.9" y="84.1" font-size="62.6" fill="#000">2D-<tspan font-style="italic">y</tspan>OPSMC with disturbance observes</text>
<rect x="946.3" y="138.0" width="156.7" height="10.6" fill="#0000ff"/>
<text x="1113.9" y="166.1" font-size="62.6" fill="#000">2D-<tspan font-style="italic">y</tspan>SMC with disturbance observes</text>
<rect x="946.3" y="220.7" width="39.6" height="10.4" fill="#00ff00"/>
<rect x="995.1" y="220.7" width="24.8" height="10.4" fill="#00ff00"/>
<rect x="1059.2" y="220.7" width="39.9" height="10.4" fill="#00ff00"/>
<text x="1113.9" y="248.1" font-size="62.6" fill="#000">2D-<tspan font-style="italic">y</tspan>SMC without disturbance observes</text>
<rect x="946.3" y="302.2" width="9.6" height="10.6" fill="#000000"/>
<rect x="966" y="302.2" width="10.0" height="10.6" fill="#000000"/>
<rect x="986" y="302.2" width="8.9" height="10.6" fill="#000000"/>
<rect x="1000.1" y="302.2" width="9.8" height="10.6" fill="#000000"/>
<rect x="1020" y="302.2" width="10.0" height="10.6" fill="#000000"/>
<rect x="1040.1" y="302.2" width="9.9" height="10.6" fill="#000000"/>
<rect x="1059.1" y="302.2" width="9.9" height="10.6" fill="#000000"/>
<rect x="1079" y="302.2" width="9.9" height="10.6" fill="#000000"/>
<rect x="1099.1" y="302.2" width="3.9" height="10.6" fill="#000000"/>
<text x="1113.9" y="330.1" font-size="62.6" fill="#000">2D-<tspan font-style="italic">y</tspan>Reference</text>
</svg></body></html>
